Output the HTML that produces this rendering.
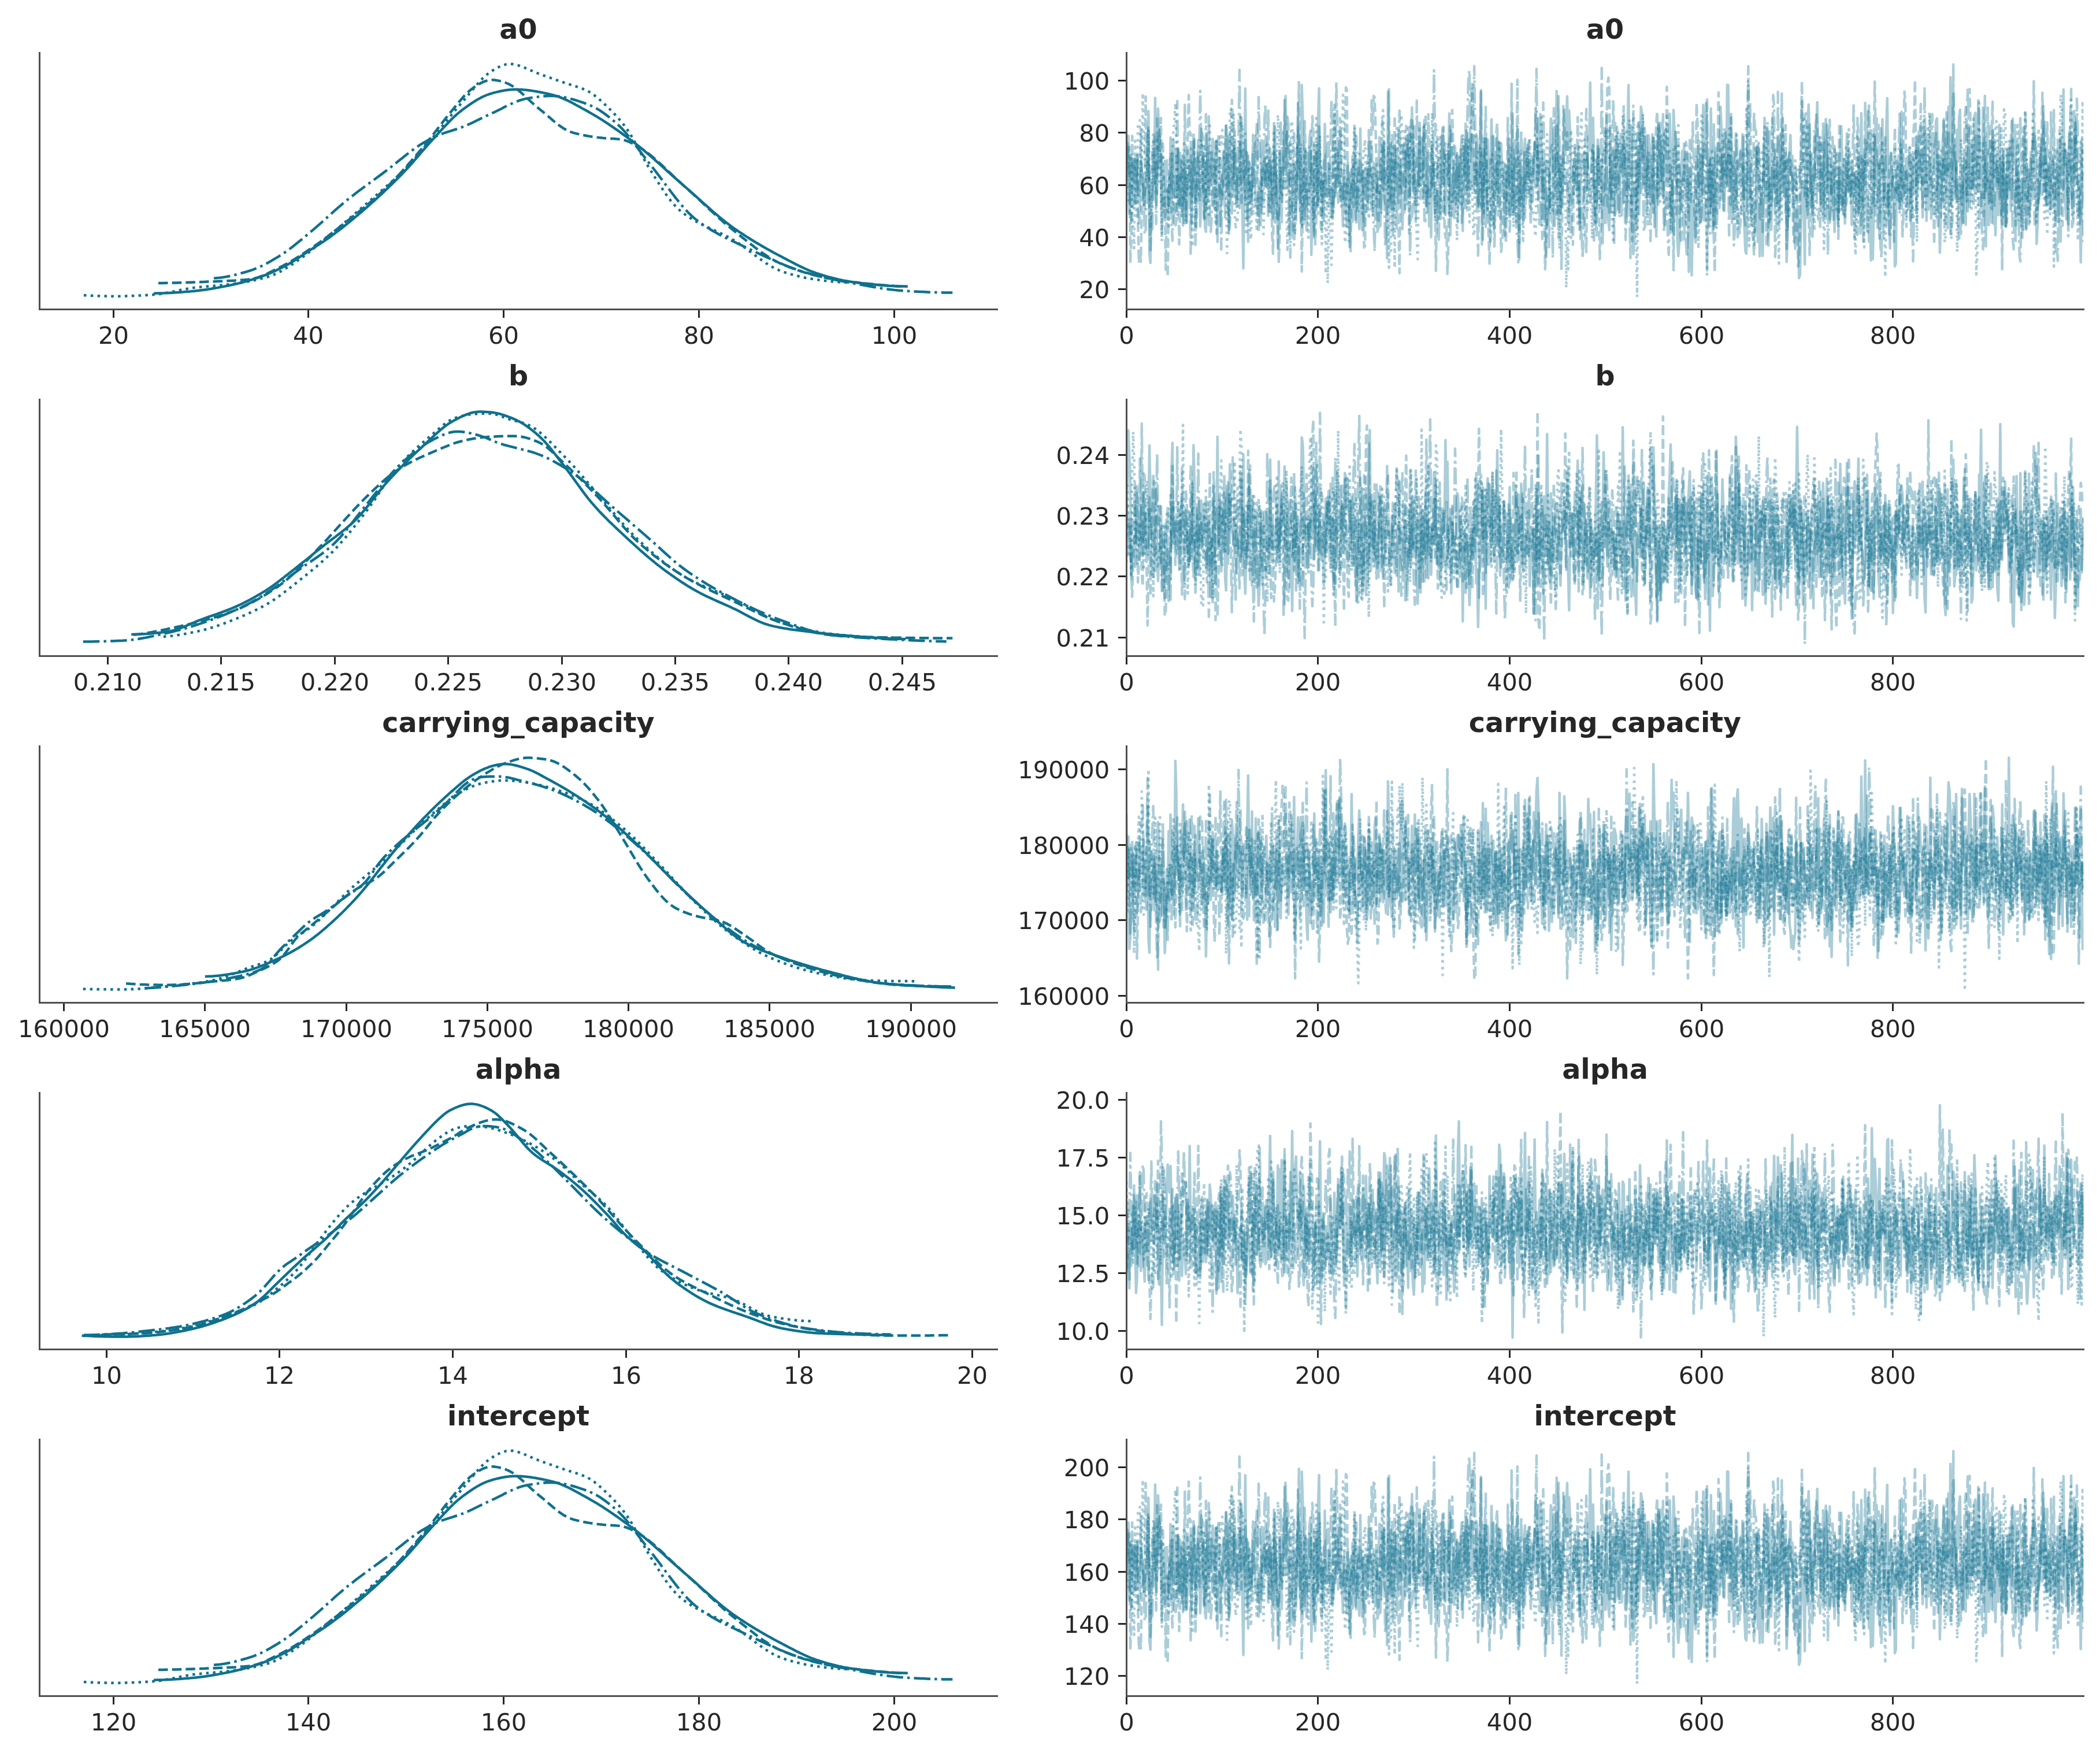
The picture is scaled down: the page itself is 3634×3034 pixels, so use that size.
<!DOCTYPE html><html><head><meta charset="utf-8"><style>html,body{margin:0;padding:0;background:#fff;width:3634px;height:3034px}svg{display:block;will-change:transform}</style></head><body>
<svg width="3634" height="3034" viewBox="0 0 3634 3034">
<rect width="3634" height="3034" fill="#fff"/>
<clipPath id="cp0"><rect x="1949.5" y="91.5" width="1656.0" height="444.0"/></clipPath>
<g id="tr0" clip-path="url(#cp0)"><path transform="scale(.1)" d="M19493 2833l17-352 16 199 17 1019 16-994 17-30 16 584 17-496 17-20 16 38 17 174 16-267 17 688 17-129 16 142 17-595 16 158 17 244 16 348 17-193 17-211 16 101 17-926 16-105 17 2184 17 157 16-953 17-138 16-408 17-131 16-1226 17 1624 17 33 16-1472 17 426 16 116 17 753 16 870 17-789 17-206 16 711 17-103 16-378 17 384 17-368 16-225 17-34 16 305 17-560 16-359 17 245 17 749 16-696 17 531 16-676 17 959 16-888 17 298 17 798 16-302 17-300 16-226 17 663 17 275 16-673 17 181 16-354 17-434 16 1299 17-718 17-824 16 690 17 490 16-771 17 66 16-378 17 650 17 842 16-543 17 31 16-716 17 136 17 1107 16 77 17-1195 16-252 17 724 16-163 17-321 17-113 16-286 17 298 16 304 17 185 17-744 16 1739 17-717 16-308 17 749 16-792 17 329 17-798 16 360 17-381 16-457 17 383 16 863 17 624 17-1754 16 607 17 511 16-330 17 97 17-606 16 322 17 107 16 452 17-555 16 709 17-780 17-785 16 1611 17 996 16-1463 17-1649 17 1672 16 617 17-883 16 565 17-24 16-96 17-550 17 395 16-289 17 185 16 435 17-168 16 311 17-455 17 513 16 139 17-1472 16 473 17 140 17-304 16 473 17 25 16-383 17-31 16 834 17-919 17 571 16 432 17 41 16-285 17-1304 16 1298 17-395 17 1215 16-881 17-806 16 447 17 353 17-392 16-413 17-102 16-851 17 850 16 733 17-60 17-50 16-123 17 46 16-109 17 1042 16-1148 17 483 17 486 16-907 17-711 16 299 17 294 17 726 16-2041 17 544 16 1405 17 189 16-437 17 816 17-751 16 135 17-973 16-137 17 2146 17-978 16 673 17-1398 16 141 17-193 16 898 17-1471 17-553 16 1711 17-355 16 509 17-222 16 648 17-1676 17 1216 16-42 17-487 16 534 17-78 17 160 16-195 17 536 16-264 17-207 16 9 17-223 17 137 16-590 17 478 16 28 17 310 17 14 16 435 17-906 16 690 17-23 16-644 17-231 17 415 16 1058 17-1097 16-243 17 902 16-1005 17 564 17 412 16-580 17-17 16-231 17 984 17-1737 16 945 17 810 16-1012 17 268 16-324 17 299 17-75 16-207 17 518 16-684 17 482 16 363 17-430 17-358 16 300 17 447 16-728 17 1173 17-75 16-641 17 618 16-618 17-137 16-626 17 900 17 93 16-526 17 1470 16-2884 17 1458 16 426 17-812 17 301 16 1099 17-1071 16-480 17 654 17 89 16-432 17 690 16-577 17-36 16 502 17 566 17-510 16 224 17-1040 16 204 17-333 17 300 16 11 17 618 16-670 17-911 16 1034 17 460 17-115 16 150 17 169 16-428 17 119 16-1020 17 582 17-26 16-397 17 653 16-878 17 1011 17 381 16-137 17-184 16 687 17-584 16 770 17-1572 17 416 16 446 17 284 16-216 17-155 17 424 16 58 17-407 16 69 17-847 16-388 17 579 17-110 16 1034 17-842 16 142 17-273 16-780 17 2105 17-861 16 523 17-824 16 861 17-218 17-465 16-399 17 211 16 567 17 29 16-843 17 286 17 1058 16-1159 17-104 16-313 17 649 16-519 17 971 17-666 16 428 17-571 16-381 17 947 17-126 16-93 17-736 16 74 17 1173 16-631 17-378 17-971 16 2021 17-83 16-1143 17 1260 16 282 17-913 17-599 16 847 17-473 16 114 17-837 17 696 16-406 17 1023 16-119 17-87 16-783 17 108 17 835 16-609 17-244 16 471 17 225 17 28 16 877 17-827 16-281 17 555 16-777 17 1009 17-179 16-96 17-1526 16 1710 17-762 16-478 17 206 17-438 16 1195 17 1092 16-1449 17 703 17-292 16 408 17-1192 16-259 17 886 16-716 17 263 17 236 16-48 17 141 16-454 17 50 17 414 16-702 17 773 16-307 17-178 16-714 17 1017 17-1090 16 651 17 419 16 394 17-620 16 135 17 707 17 230 16-268 17-10 16-1049 17-511 17 166 16 366 17 587 16-115 17-545 16-937 17 467 17 885 16 66 17 324 16 265 17-260 16-303 17-1116 17 779 16-581 17-433 16 927 17-679 17 359 16 802 17-177 16 94 17 180 16 33 17-193 17-237 16 708 17-293 16 786 17-796 16-470 17 141 17-34 16-198 17 697 16-44 17-463 17-447 16 241 17-1173 16 1168 17-298 16-261 17 796 17 628 16 398 17-658 16-786 17 279 17 145 16 373 17-454 16 1448 17-942 16-165 17 759 17-1899 16 1585 17 279 16 156 17-1315 16 789 17-683 17-165 16 154 17 963 16-119 17-1408 17 1358 16 127 17-345 16-691 17 131 16-264 17 1001 17-894 16-47 17 1267 16-1484 17-884 17 1567 16-24 17-838 16 1483 17 737 16-191 17-483 17-138 16-733 17-23 16 878 17-792 16-1069 17 101 17 161 16 652 17-401 16 1056 17-707 17 295 16-662 17 212 16 985 17-411 16-802 17 1173 17 9 16 124 17 463 16-1299 17-631 16 130 17 383 17 296 16-90 17 543 16-803 17-344 17-34 16 889 17-104 16 114 17-1174 16 651 17 1401 17-909 16-1211 17 386 16-7 17 520 16 1322 17 308 17-245 16-723 17-469 16-383 17 515 17-639 16 567 17 404 16-798 17 808 16 1235 17-524 17-843 16 1428 17-945 16-347 17 534 17 192 16-539 17-111 16-1111 17 201 16 1212 17-65 17-930 16-1042 17 634 16 234 17-899 16 909 17 439 17 764 16-297 17-1721 16 1666 17-346 17 715 16-673 17-673 16 490 17-450 16-130 17 130 17-755 16 363 17 777 16 437 17 224 17-698 16 261 17-1747 16 4 17 1228 16 446 17-1112 17 1824 16-306 17-922 16 829 17-9 16-74 17-624 17 128 16-125 17-157 16 302 17-577 17 948 16 680 17 407 16 32 17-621 16-1120 17 178 17 509 16 419 17-189 16-126 17 54 16 523 17-404 17-1005 16 1580 17-659 16 906 17-1076 17 214 16 855 17-1024 16-1365 17 647 16-460 17 626 17 1396 16-1120 17 191 16 661 17-1112 16-45 17 471 17-698 16 831 17-648 16 737 17-640 17 760 16-1313 17 356 16-628 17 1200 16 136 17-743 17 1888 16-418 17-1357 16-78 17-341 17 692 16-329 17 675 16 570 17 361 16-562 17-170 17-4 16 1242 17-62 16-843 17-763 16 269 17 252 17 910 16-2282 17 1180 16-1326 17-338 17 706 16 719 17-206 16 682 17-609 16-36 17-334 17-361 16-602 17 1144 16-545 17 952 17 327 16-61 17 195 16-1097 17-310 16-315 17 716 17 27 16 516 17 479 16-781 17-137 16 761 17-756 17 1131 16-572 17 89 16-31 17 314 17-1103 16-109 17-417 16 530 17 990 16-239 17 401 17-830 16-728 17 327 16 655 17 55 16-317 17 862 17-663 16-232 17 365 16 34 17-329 17 472 16 144 17-893 16 61 17-890 16 1371 17 849 17-1332 16-432 17 899 16 682 17-620 16 803 17-580 17 906 16-869 17 846 16-853 17-1306 17 695 16-428 17 724 16 350 17 462 16-1347 17 250 17-966 16 1415 17-144 16-218 17-888 17-531 16 1379 17 663 16 557 17-1641 16 361 17 427 17-212 16 1378 17-56 16-1567 17-164 16 101 17 697 17-713 16-972 17 1541 16-272 17 175 17-411 16 82 17 119 16 455 17-357 16 232 17-195 17-107 16-468 17 600 16 24 17-831 17 537 16 180 17-626 16 174 17 163 16-30 17 840 17-733 16-768 17 229 16 1333 17-673 16 479 17-244 17-279 16 677 17-1291 16 463 17-393 17-21 16-450 17-41 16 1594 17-413 16 1141 17-648 17-871 16-401 17-357 16 926 17-151 16 90 17-696 17-416 16 1090 17-1601 16 1035 17 721 17-375 16-213 17 67 16 740 17-1067 16 553 17-760 17-138 16 1580 17 282 16 97 17-693 16-98 17-160 17 583 16-546 17-781 16 1419 17-245 17-336 16 123 17 76 16-1189 17-58 16 257 17 1057 17-1531 16 713 17 779 16 82 17 110 17-1558 16 720 17 301 16 1379 17-1270 16 660 17 243 17-941 16 574 17-828 16-438 17 1611 16-488 17 687 17-672 16-789 17 1111 16-1560 17 825 17 737 16-388 17-670 16 1081 17-475 16 651 17-1323 17 234 16 415 17-760 16 1157 17-179 17-1414 16 792 17-683 16 518 17 684 16-63 17-207 17 221 16 300 17 69 16 431 17-795 16-410 17-348 17 1411 16-1108 17 155 16 863 17-623 17-629 16-12 17-129 16-176 17-22 16 570 17 1356 17-364 16-754 17 251 16-611 17-259 16 385 17-1026 17 1452 16-724 17 635 16 353 17-690 17 501 16-730 17 980 16-400 17 379 16-232 17 8 17 440 16-907 17 835 16 97 17-1069 16-389 17 72 17 224 16-1127 17 1791 16 235 17 220 17-1045 16 47 17-495 16-64 17 721 16 548 17 265 17-1850 16 204 17 296 16 659 17 106 17 115 16 23 17 1215 16-1002 17-110 16-423" fill="none" stroke="#0f718e" stroke-width="44.64" stroke-linecap="square" stroke-linejoin="round" stroke-opacity="0.35"/><path transform="scale(.1)" d="M19493 2969l17-457 16 431 17-404 16 2014 17-377 16-1824 17 1242 17-184 16-663 17 764 16-738 17 1073 17 705 16-201 17 179 16-1032 17-93 16-399 17 661 17-1996 16 1054 17 309 16-252 17 388 17 308 16-299 17-645 16-28 17-173 16 894 17 351 17-1573 16 921 17-193 16-214 17-475 16 1538 17-64 17-45 16-86 17 1282 16-1075 17 1204 17-1329 16-585 17-241 16 1027 17-999 16 808 17 458 17-12 16-86 17-610 16-625 17 1626 16-496 17-1009 17 134 16-168 17 1171 16-1133 17 1184 17-679 16-955 17-632 16 692 17-28 16 925 17 171 17-956 16 451 17 222 16 801 17-666 16-537 17 726 17 38 16-1255 17 474 16 462 17 602 17-122 16-245 17-1072 16 914 17-1229 16 1318 17 36 17-734 16 485 17 449 16-252 17-437 17 1167 16-539 17-220 16 93 17-673 16 614 17 48 17-205 16-529 17 473 16-963 17 1209 16-991 17 1022 17-105 16-355 17-1196 16 401 17 937 17-803 16 721 17 524 16-556 17 44 16-546 17 792 17-345 16-281 17 149 16 259 17 442 17-837 16 238 17-172 16 504 17-76 16 569 17-461 17-596 16 265 17-419 16 216 17-572 16 796 17 1087 17-888 16 82 17 477 16-808 17-17 17-129 16 471 17-190 16-103 17-988 16 1258 17-45 17-261 16 1181 17 343 16-2263 17 1722 16-868 17 558 17 123 16 867 17-504 16-1130 17 949 17-878 16-118 17-1118 16 1264 17-730 16 18 17 755 17 1019 16-1617 17 1258 16-159 17-873 16-399 17 1085 17-155 16 78 17-877 16-977 17 2230 17-969 16 2014 17-1159 16 338 17-1778 16 571 17 733 17 65 16 63 17-403 16 73 17-506 17-681 16 309 17 1259 16 646 17-366 16-1201 17 521 17 312 16-348 17 789 16 84 17-941 16 189 17 134 17-398 16 397 17 174 16-77 17-655 17 147 16 762 17-292 16-663 17-979 16 1584 17-412 17 231 16-625 17 53 16-604 17 396 17 798 16 201 17-481 16-167 17-1278 16 43 17 1792 17-387 16 867 17 520 16-1330 17-315 16 879 17-1359 17 1190 16 459 17-934 16-32 17 238 17 10 16-179 17 174 16 66 17 1068 16-21 17-1180 17 404 16-608 17-625 16 820 17-167 16-1196 17 538 17-588 16 23 17 522 16 690 17 622 17 355 16-824 17-279 16 349 17-569 16 751 17-849 17 424 16 186 17 29 16 67 17-1612 16 2044 17-437 17-829 16 81 17 684 16-1091 17 1406 17 552 16-934 17 901 16 806 17-1652 16-487 17-114 17 741 16-192 17 598 16-1441 17 137 17 70 16 1660 17-1160 16-790 17-65 16 243 17 566 17 389 16-489 17-6 16 98 17 377 16-1134 17 1401 17-246 16 228 17-909 16-511 17-44 17 290 16 1390 17-1698 16 446 17 545 16 81 17 230 17-397 16-56 17 411 16 1451 17-1127 17-609 16-252 17 385 16-295 17-437 16 818 17-976 17 1794 16 125 17-191 16 817 17-528 16-1572 17-456 17 558 16-837 17 665 16 677 17-251 17 157 16-526 17 1215 16-1153 17 569 16-669 17 1265 17-302 16-355 17-656 16 1100 17-1415 16 288 17 733 17-878 16 432 17-523 16-826 17 650 17 1030 16 215 17-549 16 19 17 675 16 100 17-761 17-1290 16 2692 17-1232 16 195 17-581 16-214 17 446 17 758 16 475 17 503 16-1826 17 378 17 274 16-60 17 607 16-775 17-894 16-148 17 1591 17-1296 16 920 17 1005 16-159 17-215 17-627 16 410 17 444 16-653 17-1517 16 1174 17-387 17 142 16-1521 17 2264 16-1124 17 1104 16-86 17-300 17-1925 16 1616 17 1198 16-1591 17 835 17-101 16-150 17-121 16 122 17-234 16-162 17-337 17 719 16 361 17 310 16-878 17 122 17-367 16-95 17-737 16 693 17-125 16 1147 17 273 17-383 16 432 17-999 16 889 17-545 16 1384 17-441 17-614 16-210 17 884 16-912 17-813 17-40 16 806 17 172 16 418 17-944 16-815 17 995 17 970 16-835 17-591 16 1965 17-1208 16-1609 17 368 17 263 16 169 17-346 16 1120 17 261 17-636 16 427 17-401 16 1174 17-1257 16-469 17 382 17 40 16-904 17 1390 16 297 17 207 16-347 17 252 17-533 16 225 17 566 16 277 17-1662 17 332 16 181 17-93 16 35 17-539 16-32 17 717 17 321 16 267 17 187 16-1566 17 948 17 1028 16-509 17-166 16-685 17 477 16-676 17-142 17-576 16-717 17-148 16 210 17 1786 16 56 17-350 17-1290 16 515 17-177 16 806 17-255 17-146 16 706 17-586 16-338 17 672 16-552 17-562 17 820 16 314 17 271 16 241 17-353 17 207 16 7 17 261 16 567 17-214 16-792 17 629 17-126 16-1420 17-116 16 1101 17-495 16 632 17-1208 17 1018 16-107 17-861 16 1114 17-985 17 1014 16-320 17 214 16-54 17-166 16 94 17 555 17-956 16-206 17-401 16-193 17 1614 16-1116 17-340 17 1047 16-691 17-461 16 1126 17 794 17-368 16-2028 17 948 16 1161 17-218 16 363 17-242 17-338 16 1500 17-1341 16-1055 17 699 16 306 17-830 17 1189 16 352 17 209 16-709 17-511 17 138 16-386 17-280 16 119 17 841 16-71 17-963 17 1112 16-134 17 48 16-113 17 478 17 329 16-2313 17 326 16 1125 17-63 16-505 17 517 17-474 16 632 17 26 16-140 17 159 16 1286 17-1155 17-444 16-307 17 800 16-528 17-102 17 1156 16 608 17-1416 16 406 17-1055 16-1041 17 1423 17 438 16-242 17-531 16 946 17-1159 17-190 16 140 17 805 16-688 17-157 16 1199 17-1645 17 999 16-137 17 518 16-395 17-616 16 1035 17 815 17-504 16 382 17-227 16-433 17-153 17-907 16 1142 17-459 16 357 17-1040 16-908 17 941 17-547 16 1249 17 969 16 109 17 273 16-376 17-530 17-1006 16-27 17 134 16 616 17 320 17-317 16-165 17-135 16-123 17 295 16 1165 17-159 17-226 16-1594 17 849 16-468 17-605 16 502 17 631 17 106 16 449 17-620 16-737 17 127 17-82 16 7 17-815 16 1444 17-75 16-390 17-430 17 2138 16-571 17-333 16 379 17-1010 17 85 16 408 17 851 16 82 17-201 16-892 17 695 17 813 16-147 17-650 16-1541 17-864 16 1432 17-425 17-402 16-55 17 856 16 955 17-202 17 844 16-1091 17-663 16 1439 17-687 16-389 17-740 17-297 16 270 17 1009 16 90 17-942 17 851 16-87 17-1037 16 568 17 1079 16-323 17-660 17 332 16-768 17-292 16 1121 17 211 16-152 17 582 17-732 16 101 17-591 16 699 17 346 17-1532 16 1206 17 160 16 137 17-205 16 294 17-410 17 245 16-88 17-471 16-394 17 36 16 756 17-448 17 184 16 42 17 968 16-1130 17 148 17-1116 16 325 17 1163 16 509 17-1387 16 822 17-698 17 416 16-1410 17 853 16-624 17-86 16 1117 17 228 17-1057 16 601 17 693 16-1051 17-1044 17 1135 16-501 17 814 16-701 17 789 16-755 17 255 17 554 16-115 17 440 16 461 17 105 17-558 16 410 17-742 16-328 17-53 16 606 17-159 17-1 16-857 17 1071 16 51 17-67 16-71 17 311 17 28 16-993 17 737 16-762 17-930 17 193 16 1957 17-978 16-126 17-76 16 1297 17-1047 17 791 16-1203 17-224 16-785 17 1313 17 1137 16-1220 17-257 16 725 17-890 16 150 17 1243 17-181 16 0 17-182 16-245 17 442 16-144 17-552 17 278 16 193 17 72 16-92 17 1060 17-939 16 411 17-516 16 756 17-1214 16 57 17 967 17-628 16 367 17-1435 16 364 17 911 16-337 17 54 17-770 16 286 17-8 16 989 17-863 17-1085 16 607 17 589 16 59 17 675 16-444 17 591 17-465 16 99 17 277 16-747 17 1009 16-547 17 584 17-1730 16-629 17 521 16-509 17 670 17 221 16 696 17 440 16-435 17 236 16 17 17-717 17 347 16 927 17-519 16 163 17-215 17 400 16-1268 17-844 16 1650 17-615 16-150 17 975 17-383 16-959 17 66 16-484 17 1608 16 194 17-527 17-235 16 159 17 291 16 91 17 136 17-577 16 1779 17-2149 16 693 17 713 16-940 17 855 17-778 16 219 17-554 16-284 17-388 17 1009 16 160 17-111 16 776 17-941 16-11 17 856 17-1281 16-476 17 1485 16-684 17-636 16 63 17 1133 17 582 16-591 17 46 16-251 17-25 17-423 16 562 17-70 16-1835 17 1181 16-132 17 233 17 124 16 709 17-636 16 172 17-522 16-927 17 900 17-89 16 1061 17-340 16-1020 17 693 17 559 16-322 17 133 16 67 17 91 16-1435 17 1358 17 103 16 118 17-1063 16 644 17-817 16 456 17 285 17 914 16-1340 17 6 16 85 17 382 17 270 16 578 17-1160 16 69 17 424 16 255 17-332 17 14 16-1086 17 215 16 928 17 539 17-340 16 289 17-471 16-367 17-268 16 61" fill="none" stroke="#0f718e" stroke-width="44.64" stroke-linecap="butt" stroke-linejoin="round" stroke-dasharray="165.18,71.43" stroke-opacity="0.35"/><path transform="scale(.1)" d="M19493 3192l17-403 16 681 17-233 16-546 17 113 16 894 17 220 17 380 16-1860 17 1302 16-402 17-1204 17 57 16-112 17 974 16-380 17-1062 16 961 17 128 17 430 16-33 17-222 16-636 17 1072 17 644 16-649 17-274 16-757 17 179 16 766 17-412 17-425 16 331 17 432 16-417 17 430 16 1016 17-1508 17 989 16-236 17-77 16-12 17-30 17 659 16-915 17 6 16-4 17-552 16-210 17-191 17-307 16 662 17 1289 16-584 17-60 16-49 17 342 17 276 16-845 17-336 16 1017 17-589 17 209 16 176 17-521 16 240 17 339 16-221 17 1138 17-523 16-236 17 497 16-761 17-260 16 388 17-114 17-486 16-355 17 873 16-327 17-467 17 425 16 530 17 169 16-205 17 353 16-1597 17 960 17-234 16 36 17-229 16 479 17 669 17-1423 16 506 17 49 16-31 17-590 16 105 17-221 17 154 16 403 17 64 16 557 17 955 16-808 17 273 17-1954 16-15 17 200 16 1019 17-1137 17 1739 16 265 17-173 16 53 17-607 16-202 17-1014 17 195 16-64 17 452 16 422 17 416 17 624 16-192 17-348 16-714 17 1149 16 184 17-875 17 465 16-633 17 213 16 259 17 427 16-600 17 187 17-10 16 11 17-447 16-112 17 1021 17-598 16-464 17-477 16-8 17 299 16 833 17 50 17-910 16 599 17-740 16-391 17 1174 16-462 17 160 17-1132 16 316 17 840 16-252 17 644 17-227 16-254 17-49 16-101 17 629 16 827 17-714 17 119 16-80 17-1595 16 58 17 768 16 933 17 218 17-887 16-624 17 535 16-67 17-86 17-456 16 1486 17-707 16-332 17-384 16 175 17 865 17-24 16 557 17-838 16-228 17-244 17 730 16 341 17-1371 16 313 17-773 16 516 17 1182 17-895 16-504 17 775 16 1108 17-1175 16 107 17-194 17 1770 16-1465 17 1630 16-821 17-1183 17 1178 16 510 17-838 16-1354 17-402 16 1112 17-534 17 62 16 183 17 6 16 583 17-643 17-336 16-782 17 437 16 2124 17-87 16-909 17-110 17 1077 16-698 17-72 16-185 17-17 16-560 17-500 17 316 16 1049 17 199 16-59 17-359 17 97 16-13 17 326 16-934 17-214 16-133 17 521 17-132 16 699 17 289 16-192 17-670 16 200 17 615 17-511 16-324 17 43 16 458 17-253 17 181 16 4 17-124 16-489 17-753 16-73 17 501 17 702 16 156 17 25 16-746 17 2090 16-1282 17 1042 17-951 16-949 17 909 16 1232 17-1840 17-630 16 402 17-334 16 1043 17-748 16-546 17 443 17 321 16-468 17-57 16 1024 17-839 17 90 16 332 17-533 16 57 17 129 16 704 17-506 17 895 16-270 17 833 16 350 17-1266 16-42 17-101 17-306 16 38 17 680 16-314 17-18 17 234 16-140 17 86 16 185 17-121 16-338 17-1114 17 1251 16-355 17 995 16-1383 17 628 17-67 16-641 17-40 16 1357 17-723 16 211 17-394 17 133 16-268 17 151 16 282 17-623 16 1298 17-236 17 238 16-400 17 44 16-139 17 142 17 33 16 712 17-744 16-385 17 368 16 151 17 39 17-1265 16 448 17 21 16 379 17 217 16 288 17-1238 17 1412 16-695 17-24 16 114 17 793 17 50 16-1239 17 547 16-677 17-88 16 20 17-88 17 1033 16-93 17-649 16 874 17-1351 16 811 17-26 17 525 16-611 17 412 16-144 17 473 17-1147 16 1214 17-800 16-117 17-144 16 751 17-886 17-229 16 361 17 27 16 264 17-353 17 680 16-536 17-81 16 984 17-186 16 44 17-315 17-820 16 365 17 411 16 631 17-552 16 119 17 344 17-470 16-754 17 281 16 714 17-539 17 625 16 502 17-1062 16 264 17-806 16 180 17 656 17-351 16-695 17 600 16 661 17-23 17 84 16 243 17 143 16-943 17-629 16 596 17-436 17-195 16-509 17 889 16 348 17-312 16 83 17-88 17-576 16 779 17-121 16 618 17-272 17 206 16 114 17-274 16 46 17-425 16-355 17 1149 17-1032 16 1553 17-1020 16-516 17 573 16-53 17 292 17-826 16 2221 17-805 16 486 17-1265 17-902 16-248 17 250 16 284 17 632 16-868 17 56 17 797 16 518 17-229 16-997 17-412 16-316 17 1221 17 131 16-898 17 359 16-178 17 1075 17-208 16-249 17 105 16 65 17 742 16-1611 17 323 17 995 16-1105 17 217 16-279 17 401 17 438 16 128 17-569 16-398 17 32 16-71 17-353 17 421 16-273 17-160 16 425 17 313 16 284 17 531 17 392 16-1523 17 276 16 369 17-1054 17 18 16 514 17-358 16 532 17-138 16-854 17 156 17 795 16-286 17-379 16 614 17 339 17-1162 16 855 17 821 16-572 17-1342 16 495 17-38 17 1741 16 1113 17-2588 16 539 17-786 16 248 17 104 17-692 16 1003 17 272 16-227 17-132 17 1033 16-1309 17 148 16 258 17-342 16 440 17-742 17 406 16-226 17 783 16-87 17-377 16 599 17 27 17-319 16-721 17-31 16-100 17 322 17-243 16-435 17 649 16 39 17-65 16 1411 17-662 17-460 16-309 17 476 16-547 17 698 16-36 17-1044 17 1361 16-284 17-46 16-43 17 221 17-564 16 759 17 399 16-897 17 659 16-665 17-4 17 377 16-68 17-148 16-342 17 480 17-79 16 673 17-471 16 872 17-895 16-13 17-1397 17 23 16 807 17-349 16 249 17 852 16 1169 17-1853 17-96 16 1293 17-1081 16-448 17 713 17-570 16 1216 17-495 16-269 17-481 16 60 17 110 17-140 16 602 17-976 16 705 17-398 17 302 16 225 17-382 16-38 17-522 16-4 17 912 17-313 16 122 17 520 16 350 17-661 16 231 17 574 17-582 16-326 17-34 16 713 17-143 17-1088 16 816 17 9 16-1435 17 663 16 638 17 1069 17-1020 16 678 17-584 16 306 17 602 16-1718 17 450 17-405 16-28 17 772 16-200 17 174 17-648 16 86 17 449 16-980 17 368 16 125 17 703 17-426 16 916 17-807 16 527 17-453 16 111 17-235 17-143 16 185 17 54 16 827 17 618 17-1767 16-95 17 1102 16-1557 17 987 16-371 17-65 17 151 16-221 17 1022 16-447 17-8 17-182 16 135 17 242 16 130 17-845 16 682 17-445 17-130 16 206 17-223 16-127 17 536 16-304 17-963 17 1345 16-17 17 256 16-1447 17 1440 17-347 16-591 17 780 16-157 17 268 16 460 17-607 17-470 16 338 17-198 16-339 17-395 17 1214 16-641 17 471 16 941 17-429 16-904 17-82 17 745 16-1254 17 288 16 333 17 352 16-407 17 309 17-715 16 215 17-90 16 463 17 809 17-886 16 583 17-330 16-139 17 372 16-790 17 1035 17-1285 16 730 17-605 16-394 17 1072 16 255 17-829 17 154 16 104 17 1116 16 312 17-1258 17-828 16 919 17 367 16-478 17-281 16-132 17 494 17 1061 16-1636 17 579 16-758 17 1554 16-859 17 219 17 411 16-1014 17-489 16 887 17-402 17 809 16-5 17-210 16-6 17-527 16 846 17-930 17-270 16 547 17 703 16 1066 17-1223 17 59 16-433 17 512 16-440 17-88 16-65 17-169 17-54 16-369 17 812 16-553 17 131 16 347 17 433 17-1197 16 287 17 490 16-163 17-14 17 272 16 585 17-699 16-28 17 54 16-650 17 1035 17 130 16-587 17-522 16-38 17-71 17 1604 16-1049 17-253 16-211 17 657 16-437 17-385 17-474 16 621 17 1030 16-450 17-442 16-61 17-793 17 920 16 712 17 8 16-694 17 571 17 326 16-22 17-1113 16 181 17 364 16-518 17-67 17 854 16-701 17 100 16 1337 17-111 16-854 17-360 17 306 16 483 17-535 16 1012 17-1049 17 80 16-41 17 316 16-690 17 1606 16-431 17-909 17 418 16-1028 17 252 16 696 17-774 16 394 17-238 17 561 16 162 17-650 16 128 17 493 17 229 16-766 17-843 16 1164 17-466 16 2001 17-372 17-1322 16-872 17 590 16-86 17 120 17-358 16 1001 17-614 16 385 17 63 16-154 17 58 17 318 16-183 17 332 16-1209 17 61 16 604 17-915 17-103 16 431 17 654 16-224 17-232 17-537 16 712 17 409 16-1420 17 61 16 625 17 822 17-498 16-487 17 55 16-26 17 406 17-465 16 796 17 146 16 78 17 105 16-1383 17 1584 17-584 16 489 17 311 16-671 17 747 16-625 17-1466 17 874 16-46 17 679 16-504 17 935 17-658 16-16 17-1257 16 863 17 401 16 223 17 446 17-962 16-667 17 810 16-340 17 464 16-267 17-108 17 1006 16-65 17-951 16 1295 17-708 17-7 16 331 17-447 16-267 17-203 16 1851 17-2024 17 603 16-623 17 426 16 375 17-162 16-1570 17 118 17 1116 16 30 17-471 16 158 17 302 17 243 16 567 17-838 16-432 17-707 16 1242 17-259 17 287 16-615 17 554 16 458 17 773 17-1155 16-28 17-523 16 740 17-1454 16 1323" fill="none" stroke="#0f718e" stroke-width="44.64" stroke-linecap="butt" stroke-linejoin="round" stroke-dasharray="44.64,73.66" stroke-opacity="0.35"/><path transform="scale(.1)" d="M19493 2766l17-22 16-428 17 637 16 672 17 229 16-1032 17 120 17-105 16 691 17-399 16-162 17-277 17 1175 16-64 17-1561 16 835 17 61 16 222 17 697 17-30 16-875 17 387 16-1615 17 1767 17 643 16-580 17 255 16-1458 17 633 16-375 17 1068 17-955 16-253 17-474 16 513 17-31 16 190 17-379 17 673 16-370 17 573 16-611 17 410 17 371 16 123 17-1276 16 1459 17 330 16-1123 17 663 17-128 16-22 17-1811 16 1384 17 437 16-79 17-422 17-278 16 1114 17-839 16-1248 17 2020 17-874 16-357 17 245 16 290 17 1249 16-1586 17 403 17 52 16-845 17 1824 16-717 17-665 16-253 17-12 17-1017 16 950 17-223 16 102 17 1394 17-14 16-1808 17 963 16 147 17 812 16-336 17 451 17-253 16-810 17 626 16 50 17-1173 17 172 16 23 17-286 16 845 17 170 16 943 17-1275 17 162 16-79 17 654 16-865 17-245 16 182 17 1126 17-99 16-521 17 337 16-666 17-547 17 892 16-85 17 296 16-963 17-205 16-1206 17 1347 17 954 16-552 17 235 16-192 17-690 17 713 16-380 17 1538 16-1389 17 122 16 267 17 254 17-1103 16 832 17-816 16 820 17-89 16-213 17-1190 17 884 16 219 17 248 16 225 17 266 17-1451 16-260 17 1332 16-144 17 789 16-1064 17-153 17 283 16 668 17-775 16-129 17 424 16-407 17 1139 17-108 16 173 17-602 16-1163 17 691 17-472 16 570 17 404 16-729 17 61 16-577 17 141 17 1152 16 1144 17-956 16 418 17 225 16 96 17-388 17-403 16-264 17-1406 16 1695 17-271 17 679 16 45 17-623 16-411 17 929 16-1200 17 904 17-883 16 335 17-455 16 61 17 518 17-298 16 1025 17 241 16-445 17-1200 16 923 17 198 17-1357 16 611 17 197 16 720 17-480 16-462 17 249 17-404 16 129 17-393 16 20 17 573 17-412 16-821 17 826 16 1137 17-537 16 87 17-1811 17 726 16 1361 17-172 16-1064 17 1303 17-23 16-323 17-1 16 288 17-379 16 827 17-234 17-62 16-202 17-64 16-210 17 161 16 94 17-465 17-439 16-185 17 1243 16-503 17-433 17 468 16-298 17 325 16-264 17 1071 16-880 17 326 17 251 16-192 17-842 16-224 17 345 16-254 17 673 17 723 16 462 17-792 16-221 17-185 17-72 16-706 17 1089 16 237 17-1619 16 275 17 706 17 1194 16-269 17-371 16-298 17-264 16 185 17-766 17 1184 16-195 17 185 16-845 17 111 17-319 16 313 17-538 16-458 17 1325 16-81 17 231 17-646 16-311 17 253 16 407 17 443 17-1281 16-99 17 2269 16-883 17 219 16-212 17-1361 17 1359 16 327 17-2130 16 1269 17 210 16-761 17 753 17-105 16-159 17-773 16 1644 17 7 17-426 16-760 17 712 16-469 17 468 16 69 17-993 17 598 16-1813 17 1120 16-181 17 226 17 1452 16 358 17-1049 16 653 17-144 16-174 17 299 17-1185 16-108 17 318 16-126 17 860 16-837 17 809 17-1250 16 997 17 242 16-976 17 20 17 981 16-672 17 168 16 40 17-342 16-98 17-285 17 254 16 156 17 301 16-902 17 1153 16-1371 17-614 17-93 16 1426 17-1100 16 353 17 163 17-911 16 1127 17 240 16 1177 17 734 16-1045 17-474 17-288 16 142 17 1390 16-960 17-739 16-596 17 1469 17 390 16-5 17-34 16 512 17-327 17-1495 16 1167 17 738 16-612 17-75 16-761 17 659 17-158 16 367 17 178 16-771 17-78 17 85 16-317 17 737 16-316 17-206 16-642 17 1651 17-402 16-640 17 458 16-292 17-434 16-7 17 1317 17 71 16 461 17-1228 16-286 17-778 17 566 16 911 17-1086 16 1135 17-471 16-15 17-600 17-255 16 716 17 429 16-308 17 248 17-868 16 84 17-633 16-910 17 1865 16 413 17-561 17-111 16 420 17 919 16-2361 17 910 16 1016 17 769 17-1732 16 49 17 209 16 723 17-369 17 72 16 1041 17-2591 16 629 17 618 16 594 17-48 17-2000 16 813 17 1261 16-994 17-51 16-31 17 378 17 144 16-196 17 207 16 787 17-10 17-604 16 750 17-601 16-88 17-680 16 142 17 330 17 104 16-427 17-416 16 1104 17 550 16-250 17 587 17-420 16-1173 17-430 16-565 17 838 17 164 16 526 17 115 16-486 17-499 16 132 17 1487 17-1034 16-23 17 379 16-362 17-547 17 277 16 638 17-2317 16 1732 17-140 16-550 17 1168 17-536 16 721 17-152 16 262 17-1507 16 1523 17-737 17 80 16 1194 17-1813 16 829 17 69 17-285 16 629 17 98 16-429 17 398 16-497 17-851 17 1147 16 625 17-616 16-554 17-310 17 993 16 798 17-1414 16-382 17-672 16 1400 17-549 17-415 16 1581 17-1268 16-657 17 390 16 123 17-83 17 566 16 892 17-39 16-451 17 267 17-1071 16 549 17-14 16 955 17-968 16 385 17-1256 17 1596 16-772 17 229 16 40 17-1292 16 97 17 1151 17-1036 16 937 17-597 16 1338 17-418 17-159 16-24 17 706 16 282 17-828 16-707 17 140 17 282 16 761 17-473 16 20 17 103 16-533 17-155 17-181 16 345 17 474 16-256 17-7 17 750 16-480 17 551 16 229 17-390 16-249 17-915 17 346 16-410 17-710 16 638 17 21 17 671 16-731 17 236 16 70 17 765 16 99 17-118 17-524 16-737 17 1349 16-281 17-124 16-1730 17 1128 17 524 16-632 17 952 16-742 17 1110 17-1910 16 710 17 446 16 658 17-483 16-313 17 427 17-1049 16 591 17-76 16-137 17-707 17 861 16-21 17-141 16-226 17 1381 16-1356 17 345 17 494 16-295 17 986 16-308 17-691 16-919 17 592 17-108 16 385 17-573 16 576 17-347 17 383 16 512 17 153 16-151 17-1147 16-1457 17 1466 17 802 16-547 17-127 16 581 17-1388 16 291 17 36 17 550 16 118 17-456 16 1293 17 30 17-546 16 766 17-1628 16 872 17 157 16-432 17-874 17 723 16 665 17 292 16-637 17 327 16-1838 17 204 17 2600 16-350 17-909 16-1599 17 2320 17-285 16-1092 17 817 16-229 17 300 16-639 17 903 17-431 16 757 17-1229 16-138 17 329 17 59 16 23 17 259 16-256 17-198 16 201 17 401 17 0 16 33 17-566 16 18 17-1194 16 1073 17 137 17 490 16-321 17 256 16 329 17-541 17-1056 16 1225 17 236 16-320 17-277 16-718 17 977 17-19 16 412 17 163 16-188 17 315 17-852 16-600 17 752 16 362 17-1128 16 576 17-874 17 2254 16-741 17 224 16-209 17-896 16-423 17 619 17-462 16 1105 17-536 16 108 17 929 17-1250 16 588 17-521 16 600 17-420 16-378 17 249 17 382 16-560 17 71 16 415 17-169 16 28 17 176 17-702 16-818 17 1231 16 108 17 550 17 353 16-1346 17 690 16-427 17 915 16-152 17-744 17-212 16 77 17-78 16 87 17-431 16-668 17 631 17 548 16 748 17-109 16-135 17-1120 17 1486 16-11 17 125 16-1108 17 632 16 784 17 218 17-1044 16 725 17-1374 16-395 17 1221 17-119 16-270 17 826 16 79 17-286 16-463 17-341 17 1158 16-859 17-65 16 78 17 151 16-865 17-655 17 1106 16 147 17 870 16-399 17-816 17 238 16-206 17 221 16-63 17-354 16-161 17 1545 17-524 16 950 17-829 16-62 17 8 17-1321 16 344 17-384 16 216 17-694 16 1084 17 304 17-8 16-1679 17 1419 16 103 17-796 16 46 17 875 17-1149 16 507 17-530 16 446 17 8 17 919 16-1043 17 981 16-188 17-647 16 646 17-80 17 44 16-77 17-275 16 1181 17-224 16-1725 17 2008 17-197 16-951 17 1290 16-166 17-85 17-2726 16 2299 17-612 16 598 17-227 16 644 17 336 17-427 16 358 17-560 16-382 17-284 16-807 17-199 17 1577 16 234 17-1446 16 649 17 397 17-753 16 788 17-697 16 520 17-802 16 625 17-376 17-283 16-510 17 1435 16 162 17 647 17 297 16-509 17-601 16-829 17 748 16-1259 17 783 17-212 16 606 17 810 16-1487 17 679 16-625 17 689 17-361 16 335 17 227 16-59 17-518 17 1003 16 145 17-1143 16 712 17-366 16 832 17-424 17-931 16 319 17 26 16 382 17-195 17 1047 16 176 17-1062 16 916 17-1512 16-187 17 1190 17 755 16 107 17-1008 16-226 17-937 16 257 17-661 17 290 16 1205 17-115 16 378 17-210 17 60 16-160 17-1014 16 848 17 652 16-137 17-136 17 22 16-252 17 91 16-913 17-156 16 968 17-766 17-542 16 745 17 743 16-583 17 145 17-210 16 806 17-1764 16 948 17-167 16 634 17-282 17 1282 16-125 17 283 16-1466 17 876 16 296 17-1453 17 528 16-43 17-753 16 120 17 134 17-154 16 1486 17-1466 16-526 17-554 16 2390 17-71 17-190 16-1476 17 297 16-782 17 729 17 833 16 650 17-230 16-1275 17 985 16 789" fill="none" stroke="#0f718e" stroke-width="44.64" stroke-linecap="butt" stroke-linejoin="round" stroke-dasharray="285.71,71.43,44.64,71.43" stroke-opacity="0.35"/></g>
<clipPath id="cp1"><rect x="1949.5" y="691.5" width="1656.0" height="444.0"/></clipPath>
<g id="tr1" clip-path="url(#cp1)"><path transform="scale(.1)" d="M19493 9113l17-729 16-933 17 446 16 382 17 1752 16-329 17-93 17-314 16 513 17-819 16-569 17 558 17 366 16-154 17-151 16-293 17 855 16-1083 17 528 17 257 16-403 17 653 16-683 17-1159 17 895 16 369 17 477 16-1017 17-106 16 1556 17-970 17 630 16 513 17-510 16 196 17-979 16 1091 17 370 17-97 16-520 17-548 16 784 17 32 17 525 16-678 17 303 16-1851 17-511 16 1737 17-150 17-200 16 474 17 59 16-555 17 337 16 118 17-114 17-773 16 647 17-176 16 29 17-262 17 433 16 294 17 207 16-466 17-81 16 194 17-206 17-1506 16 676 17 1728 16-1314 17 277 16 734 17-1131 17 488 16-498 17 789 16-712 17 549 17-542 16-95 17 1107 16-532 17-212 16 229 17 1087 17-901 16 83 17-841 16 1041 17-842 17 224 16-1537 17 1854 16-621 17 651 16 446 17-1021 17-40 16-301 17 1482 16 209 17-988 16 525 17-1083 17-635 16 998 17 162 16 50 17 191 17-84 16 83 17-339 16 317 17 204 16-65 17 161 17-257 16-415 17-1179 16 1981 17 429 17-667 16-242 17-28 16-1202 17 1898 16-445 17 543 17-429 16-575 17 956 16-1135 17 712 16 357 17 463 17-427 16-106 17-927 16 1100 17-715 17-551 16 445 17-436 16 684 17-409 16 289 17-1473 17 1148 16 295 17-297 16 425 17-57 16-311 17-408 17 712 16-154 17 81 16-455 17-227 17 189 16 131 17-955 16 1378 17-1105 16 369 17 1295 17-587 16 742 17-557 16 967 17-1323 16 472 17-1289 17 1019 16-145 17 783 16-502 17-236 17-324 16-1457 17 108 16 687 17 849 16 204 17 74 17 341 16-763 17 175 16-270 17 345 17-238 16-982 17 649 16-191 17 977 16-111 17 95 17-460 16-26 17 526 16-411 17 0 16 981 17-620 17-881 16 927 17-853 16-38 17 309 17-72 16 672 17-638 16 1017 17 144 16-926 17 659 17-1675 16 574 17-209 16-111 17 801 17-15 16-254 17 184 16-938 17 70 16 565 17-532 17 627 16-261 17 301 16 319 17 478 16 21 17-431 17-331 16 1388 17-612 16-726 17 197 17 603 16 143 17-1555 16 1472 17-307 16-731 17 1411 17-1135 16 958 17-1192 16-1483 17 2013 16-118 17-274 17 435 16-485 17 550 16 88 17 176 17-391 16-401 17-436 16 519 17 691 16-131 17-19 17-77 16-562 17 231 16-58 17 7 16 80 17 237 17-594 16 277 17 95 16 615 17-61 17-80 16-677 17 1142 16-1104 17 24 16 472 17 237 17-706 16-43 17 1272 16-387 17 22 17-500 16 181 17-560 16 376 17-24 16-881 17 602 17 312 16-203 17 720 16 401 17-824 16 89 17 542 17-1211 16-221 17 202 16 475 17-41 17 202 16-739 17 1088 16-667 17-48 16 652 17-811 17 294 16-1257 17 57 16 808 17 383 17 294 16 115 17-558 16 854 17-1136 16-187 17 418 17-372 16-1231 17 1061 16-685 17 1121 16 459 17-762 17 1458 16-1234 17 179 16 318 17-218 17-79 16-702 17 35 16 408 17 341 16 521 17-500 17 1414 16-1565 17 72 16 1000 17-1009 16 532 17-84 17 773 16-391 17-656 16-48 17-220 17 503 16-569 17 1005 16-241 17 996 16-862 17-178 17-255 16-495 17-629 16 1288 17-162 16 975 17-1934 17-318 16 471 17-360 16 132 17 908 17-493 16-459 17 101 16 559 17 319 16-1666 17 952 17 77 16 1138 17-855 16-6 17 619 17-1042 16 440 17-240 16 35 17 654 16-352 17-781 17 1239 16 343 17 27 16-946 17 392 16-300 17-600 17 1136 16-1166 17 513 16 251 17-949 17 402 16 1117 17-395 16 297 17-502 16 261 17 6 17-724 16 1309 17-767 16 69 17-285 17 1463 16-362 17-457 16-1340 17 1304 16 331 17-469 17-414 16 395 17-273 16 933 17-1678 16 688 17-63 17-1705 16 1635 17 819 16 108 17-1535 17 646 16 514 17-269 16-72 17-623 16-27 17 204 17-4 16 717 17 509 16-831 17-300 16 106 17-33 17-205 16 939 17-178 16 261 17 668 17-1207 16 79 17-326 16-226 17 792 16-1159 17 388 17-331 16-599 17 1238 16 398 17-324 16-643 17-246 17 1792 16-1459 17 644 16-328 17 938 17 30 16-720 17 1052 16-1204 17 403 16-331 17-27 17 381 16-958 17-1074 16 889 17 1617 17-606 16 23 17-628 16 291 17-1292 16 646 17 236 17 601 16 491 17-317 16-249 17-227 16 86 17 289 17-93 16 255 17 398 16 48 17-775 17-355 16 420 17 80 16-352 17 271 16-1886 17 1273 17 730 16 996 17-911 16-717 17 402 17-655 16 886 17-21 16 40 17 336 16 556 17-156 17 487 16-1383 17 116 16-3 17 265 16-775 17 773 17-1254 16-25 17 1065 16 19 17-452 17-549 16 1054 17 138 16-1870 17 537 16 165 17-721 17 876 16 733 17 980 16-1224 17 778 16-793 17 1301 17-508 16-414 17 610 16-247 17 104 17-535 16 660 17-403 16-1059 17-400 16-508 17 932 17 701 16-206 17-280 16 163 17-698 16 1081 17 47 17 798 16-429 17-1067 16 366 17-291 17 101 16-305 17 953 16-483 17-232 16-392 17-293 17 1105 16 858 17-216 16-1192 17 965 17 544 16 123 17 29 16-1178 17 497 16 72 17-981 17-202 16-26 17 950 16 859 17-969 16-1156 17 965 17 208 16 1501 17-2036 16 399 17 1036 17-700 16 111 17-653 16-1273 17 1559 16-133 17 258 17 241 16-560 17-866 16 466 17 608 17-342 16 52 17-320 16 678 17-181 16-995 17 741 17-375 16 479 17 88 16 482 17-2120 16 472 17 153 17 61 16 1330 17 235 16-267 17 821 17-223 16-1068 17 1406 16-303 17-576 16-165 17-82 17 391 16-823 17 1638 16-1138 17 805 16-233 17-459 17-1136 16 1155 17 676 16-1211 17 238 17 19 16-298 17-373 16 406 17 1440 16-709 17-330 17 596 16 103 17-939 16-50 17 632 16-637 17 49 17 842 16-355 17 528 16-116 17-721 17 682 16 225 17-898 16 541 17-273 16-91 17-77 17-322 16 352 17 310 16-91 17-950 17-176 16 545 17-619 16 145 17 1063 16-1185 17-1136 17 1115 16 1503 17-1378 16 119 17 445 16 1270 17-778 17-109 16-24 17 54 16-760 17 546 17-308 16 1269 17-162 16-641 17 336 16-446 17-78 17-154 16 239 17-463 16 1004 17-270 17-1202 16 788 17-946 16 476 17 452 16-48 17-952 17 907 16 708 17-714 16-333 17-200 16 1332 17-720 17-22 16 167 17 179 16-470 17 155 17 36 16-1282 17 898 16 914 17 156 16-53 17 501 17-1429 16-1001 17 1293 16-526 17 779 16 204 17 711 17-811 16-968 17-365 16 388 17 557 17-698 16-640 17 1429 16-199 17 115 16 367 17 444 17-76 16-583 17-241 16-10 17-692 16 957 17 631 17 144 16-890 17 271 16 760 17-1283 17-711 16 568 17-118 16 1135 17 373 16-837 17-257 17 144 16 97 17 225 16-1131 17 992 17-118 16-699 17 959 16-372 17 33 16-393 17 1637 17-759 16 64 17-1053 16 333 17 380 16-692 17-77 17-269 16-132 17 175 16 826 17-244 17-73 16-57 17-5 16 134 17 322 16-95 17 498 17 109 16-902 17 314 16-132 17 311 17 764 16-523 17-1330 16 631 17 495 16-615 17 465 17 219 16 649 17 259 16-1166 17-175 16 2 17-363 17 529 16-105 17 473 16 151 17-25 17-983 16-155 17 925 16-114 17-278 16 440 17-700 17 606 16-72 17-21 16 902 17 177 16-431 17-1320 17-48 16 63 17 614 16 101 17-259 17-199 16 980 17-187 16-22 17-1203 16 697 17 371 17-810 16 454 17-629 16 878 17-1429 16 798 17 85 17 233 16-35 17-47 16 179 17-848 17 1794 16-74 17-537 16-294 17-1008 16 243 17 384 17 561 16-1489 17 248 16-1024 17 2195 17-1275 16 738 17 619 16-368 17-102 16 207 17 747 17-446 16 440 17-695 16 662 17-743 16 144 17-722 17 759 16 592 17 208 16-938 17-2118 17 2081 16 268 17-1181 16 187 17-360 16 533 17 39 17 254 16 746 17-543 16 528 17-758 17 1646 16 64 17-935 16-463 17-1208 16 1260 17-453 17 1278 16-2134 17 2367 16-1699 17 560 16 1049 17-429 17-957 16 294 17 501 16-442 17-22 17-517 16-27 17 637 16 382 17-367 16 8 17-230 17 681 16-478 17 418 16-676 17-31 16 275 17 890 17-1320 16 731 17 9 16-227 17-340 17 432 16 123 17 591 16-1277 17 489 16 140 17 966 17-538 16-1028 17-415 16 1076 17-309 16-404 17 1065 17-308 16-701 17-449 16 1347 17 214 17-1254 16 506 17-269 16 801 17-1101 16 114 17-604 17 1219 16 133 17 456 16 146 17 100 17-866 16 410 17-412 16 285 17-525 16-409" fill="none" stroke="#0f718e" stroke-width="44.64" stroke-linecap="square" stroke-linejoin="round" stroke-opacity="0.35"/><path transform="scale(.1)" d="M19493 8887l17-140 16 573 17-342 16 484 17 466 16 401 17-594 17-374 16-994 17 1047 16-914 17 1580 17-403 16-1741 17 1272 16 676 17 266 16-1954 17 32 17 1176 16 270 17 1150 16-859 17-1355 17 1706 16-1304 17-120 16-702 17 1177 16-164 17-746 17 343 16-44 17 610 16 102 17 269 16-343 17-55 17 162 16 1159 17-66 16-830 17-1004 17 948 16 65 17-270 16-701 17-738 16 758 17 358 17 596 16-542 17 256 16-198 17 568 16-1020 17 600 17 852 16-636 17 437 16-847 17-770 17 282 16 500 17 557 16-40 17-1703 16 202 17 1378 17 332 16-686 17-45 16-23 17-315 16 925 17 105 17-1055 16 95 17 370 16 18 17-445 17 72 16 614 17 462 16-1028 17 894 16-1778 17 1512 17 99 16-999 17-604 16 765 17 1795 17-923 16 867 17-672 16-1012 17-278 16 324 17 21 17-219 16 550 17 154 16-925 17 174 16-444 17 423 17 123 16-240 17-1 16-736 17 610 17 817 16 194 17 379 16-584 17 386 16 464 17-1021 17-877 16 1669 17-1053 16 133 17 786 17 33 16-281 17-1771 16 941 17-688 16 1251 17-671 17-52 16 901 17 206 16-587 17 1061 16-596 17 562 17-591 16-444 17-290 16 90 17 379 17 329 16 278 17-59 16-122 17 16 16-415 17 395 17 656 16-1158 17 516 16 698 17-247 16-405 17-194 17-325 16-1249 17 1737 16-1326 17 531 17 439 16 1272 17-777 16-800 17 785 16 521 17 25 17-874 16-187 17-1067 16 1026 17-489 16 1071 17-269 17-889 16 576 17-317 16 979 17 92 17-200 16 281 17-303 16-1280 17 667 16-100 17-904 17 765 16 307 17 301 16-892 17-159 17-1004 16-256 17 2405 16-745 17-1289 16 1010 17 331 17 884 16-1117 17 969 16-430 17 183 16-433 17 416 17 118 16-854 17 396 16-462 17 829 17-1109 16 307 17-408 16 205 17 1494 16 871 17-1699 17 374 16 66 17 272 16-80 17-544 17-519 16 562 17 1305 16-1279 17-207 16 497 17 540 17 200 16-1499 17 681 16-917 17 624 16-501 17 949 17 468 16-478 17 772 16-5 17-1090 17-1062 16 610 17 1254 16 3 17-710 16-26 17-1819 17-217 16 1610 17-1302 16 1762 17 447 16-1319 17 1132 17 37 16-1349 17 879 16-876 17 175 17 750 16-428 17-467 16 66 17 1066 16-782 17 1762 17-700 16-421 17-676 16-545 17 1601 16-23 17-264 17 134 16-482 17-305 16-119 17 592 17 642 16-559 17 33 16-1128 17 153 16 62 17-334 17 881 16 57 17-636 16-605 17 1773 17 20 16-320 17-649 16 1108 17-990 16 693 17-670 17 101 16-809 17 1408 16-583 17 348 16 360 17-899 17 900 16-768 17 847 16 331 17-1022 17-1455 16 900 17 1091 16-464 17 256 16 298 17-447 17-326 16-276 17 1050 16-1362 17 838 17 1017 16-148 17-616 16 400 17-515 16 514 17-1012 17 215 16 331 17-659 16 980 17-182 16-509 17-21 17 184 16-442 17 723 16-91 17 489 17-335 16 547 17 173 16-630 17 403 16-945 17-425 17 122 16-76 17 130 16 1251 17 132 16-812 17 595 17-58 16-397 17-339 16 1030 17-639 17-703 16 80 17-741 16 1076 17-788 16-1056 17 911 17 29 16-5 17 1972 16-318 17-1162 16 1067 17-621 17-337 16-588 17 734 16-403 17 419 17-923 16 1175 17 267 16-491 17-1005 16 674 17 347 17 469 16-878 17 796 16-30 17 12 17-851 16 949 17 262 16-541 17-68 16 885 17-89 17-167 16-453 17 386 16-1662 17 638 16-452 17 462 17 175 16-245 17 580 16 1054 17-1036 17 403 16-1135 17 1018 16-342 17-28 16 357 17-6 17-127 16-258 17-124 16 89 17 64 17 1342 16-1757 17-115 16 1140 17-2762 16 3609 17 182 17-686 16-1683 17 435 16 80 17 110 16-274 17 293 17 565 16 25 17-764 16 427 17 1035 17-1171 16-161 17-768 16 581 17 211 16 139 17 455 17-509 16 331 17 394 16-423 17-256 16-238 17-258 17-1296 16 1490 17-682 16 686 17 113 17-382 16 899 17-202 16-524 17 1118 16 33 17-273 17-335 16-587 17 1058 16-1301 17 31 16 72 17 1567 17-901 16 393 17-794 16 259 17 288 17 369 16-288 17-641 16 1188 17-170 16-337 17-138 17 122 16-369 17-39 16 1299 17-1489 17 1014 16-1242 17-147 16 1482 17-663 16-998 17-372 17 735 16 771 17-981 16 1346 17 403 16-1246 17 818 17-811 16 731 17-43 16-1096 17 418 17-306 16 408 17 289 16 223 17 198 16-728 17-251 17-914 16 692 17 508 16-306 17-740 17 1616 16-1458 17 1125 16 311 17-2196 16 462 17 1183 17-525 16-538 17 326 16-203 17 452 16 23 17 1008 17 224 16-652 17 711 16-986 17 157 17-740 16-49 17 806 16 1505 17-177 16-937 17-1637 17 882 16-114 17 331 16 1620 17-1386 16 78 17 763 17-1082 16 123 17-2046 16 2848 17-77 17-524 16 101 17-598 16-335 17 161 16 295 17 553 17-370 16-542 17 307 16 1429 17-1868 16 777 17-606 17 655 16-769 17 632 16-976 17-198 17 1230 16 1512 17-1254 16 354 17-1068 16 41 17 466 17 480 16 83 17-1383 16-128 17 717 17-120 16-408 17 557 16 1137 17-1762 16 692 17 382 17-277 16 505 17 221 16-704 17 347 16-587 17-158 17-1183 16 1237 17 99 16 418 17-943 17 160 16 109 17-1050 16 869 17 228 16 1011 17 575 17-579 16-533 17 547 16 81 17-998 17 502 16 158 17-98 16 409 17-1042 16-740 17 45 17-367 16 2168 17-1114 16 286 17-880 16 1030 17-593 17-918 16 595 17 465 16 301 17-324 17 330 16 682 17-869 16-1001 17 596 16-313 17-204 17 756 16 260 17 531 16-475 17-303 16 781 17-156 17-873 16 790 17-617 16 39 17 421 17-604 16-14 17 409 16 26 17-168 16-115 17 2 17-173 16 689 17-1052 16 720 17 241 16-873 17-77 17 1758 16-590 17-651 16-62 17 1307 17-180 16-13 17-845 16-414 17 199 16 293 17 562 17-979 16 1685 17-1146 16-379 17 65 17 205 16-26 17-325 16 711 17-633 16 250 17 19 17 1619 16-250 17-752 16 36 17-935 16 1156 17-1269 17-158 16 335 17 522 16 553 17 195 17-232 16-486 17-562 16-200 17-329 16-63 17 1090 17 213 16-918 17 872 16-853 17 335 17 951 16-802 17-110 16 593 17 1074 16-1212 17-485 17-382 16 138 17 729 16 779 17-677 16-875 17 383 17 785 16 516 17 443 16-1188 17-606 17 1396 16-524 17-1388 16 1736 17-1669 16-360 17 110 17 287 16 72 17-64 16-767 17 1623 16 829 17 346 17-1171 16-857 17 808 16-456 17-8 17-623 16 104 17 241 16 727 17 45 16-759 17 213 17-700 16 1054 17-668 16 496 17-213 16 1208 17-1068 17 637 16-1081 17-144 16 893 17-1076 17-412 16-393 17 383 16 1177 17-861 16 1468 17-140 17-445 16 1024 17-1367 16-71 17 438 17 1335 16-488 17-1018 16-221 17 876 16 481 17-628 17 509 16 438 17-1714 16 359 17-109 16 335 17-632 17-227 16 663 17 355 16 90 17-764 17 236 16 864 17-1269 16 424 17-161 16-699 17 447 17-90 16 548 17-255 16-285 17 253 17 359 16 159 17 109 16-284 17 360 16-518 17 456 17-744 16 315 17 552 16-484 17 762 16-2530 17 1862 17 133 16-940 17 966 16 488 17 173 17-1194 16 989 17-1447 16 269 17 527 16-629 17 533 17 316 16 670 17 309 16-894 17 1076 16 52 17 3 17-865 16 513 17-534 16-2047 17 1226 17-872 16 868 17 970 16-26 17 50 16-635 17-333 17 203 16 409 17 348 16-110 17 240 16 18 17-2096 17 464 16 1332 17-256 16-270 17 148 17 429 16-494 17-13 16-211 17-469 16 892 17-188 17 353 16 322 17-88 16-471 17 323 17 315 16-35 17-525 16-961 17-244 16 1720 17-251 17-615 16 415 17-35 16 448 17-509 16 20 17 434 17-693 16-524 17 184 16 1018 17-532 17-466 16-375 17-189 16 133 17 745 16-202 17-174 17 296 16-38 17 791 16-551 17 283 17-93 16-1208 17 617 16 111 17 595 16 670 17 44 17-497 16-209 17 862 16-419 17-506 16 322 17-154 17-345 16-778 17 318 16-702 17 1624 17-1131 16 539 17-539 16-966 17 533 16 502 17-671 17 1168 16-595 17 221 16 66 17 609 16-382 17-130 17 188 16-152 17 964 16-1075 17 379 17-184 16 473 17-27 16 163 17-1086 16 924 17 221 17-265 16 519 17 44 16-700 17-267 16-353 17 78 17 807 16 329 17-1115 16 1569 17-910 17-591 16-506 17-311 16 115 17-665 16 2330 17-267 17-468 16 1402 17-474 16-1276 17 707 17-786 16-19 17-383 16 136 17 229 16-25" fill="none" stroke="#0f718e" stroke-width="44.64" stroke-linecap="butt" stroke-linejoin="round" stroke-dasharray="165.18,71.43" stroke-opacity="0.35"/><path transform="scale(.1)" d="M19493 9728l17-1324 16 736 17 501 16-527 17 827 16-1738 17-730 17 484 16 1443 17-372 16-18 17 432 17 0 16-406 17 393 16-135 17-85 16 665 17-294 17-45 16-1223 17 558 16-14 17 97 17 163 16-3 17 108 16 1098 17-817 16 106 17-139 17 303 16 70 17-462 16 108 17-242 16-174 17 81 17-43 16 370 17-89 16-498 17 300 17-339 16 195 17-512 16 990 17-394 16-453 17 773 17-272 16-191 17 201 16-543 17 183 16 379 17-498 17 122 16-1480 17 2188 16-334 17 12 17-17 16 1068 17-799 16 113 17-657 16 780 17-1362 17 658 16 416 17-310 16 852 17 41 16-853 17 228 17-142 16 1202 17-100 16 140 17-1764 17 482 16-705 17 716 16-547 17 740 16 167 17-117 17-156 16 1074 17-744 16 276 17-57 17-223 16-4 17-177 16-695 17-268 16-508 17 1343 17 54 16 114 17 108 16-540 17-251 16 398 17-26 17-664 16 622 17-551 16 476 17-129 17-941 16 1213 17-179 16-619 17 513 16-612 17-871 17 301 16 1109 17 680 16-344 17 302 17 200 16-745 17-202 16 1197 17-247 16 194 17-839 17-112 16-383 17 472 16-180 17-166 16 389 17-430 17 1357 16-1120 17 935 16-235 17-395 17-59 16 789 17-506 16 1035 17-729 16-88 17-1155 17 721 16 430 17 111 16 109 17-403 16-244 17-956 17 1436 16-607 17 877 16-323 17-883 17-384 16 132 17 866 16-609 17-591 16 1546 17-22 17-344 16-197 17-98 16 257 17 314 16-541 17 512 17-145 16-393 17-113 16-294 17-129 17 107 16-522 17 1553 16-406 17-126 16 199 17-62 17-228 16 322 17-1353 16-409 17 1461 17-503 16-39 17 371 16 334 17-291 16 112 17 409 17-662 16 205 17-523 16 1233 17 70 16 1034 17-823 17 80 16-894 17-545 16 379 17-368 17 809 16 506 17-1274 16-210 17 115 16 656 17-593 17 66 16-1227 17 2710 16-18 17-1117 17-300 16 157 17 328 16 348 17-1235 16-87 17 507 17 91 16-809 17 1410 16 447 17-409 16 357 17-915 17-204 16-76 17 534 16 342 17-441 17 1214 16 71 17-256 16 126 17-710 16 401 17-844 17 164 16 877 17 575 16-2016 17 226 16-3 17 511 17 399 16-1150 17 1050 16-99 17-250 17 388 16-57 17-21 16-27 17-1180 16 543 17-407 17 946 16 92 17 69 16 536 17-693 16 562 17 36 17-621 16-345 17 480 16-359 17-727 17-432 16 235 17 810 16-714 17 722 16 207 17-652 17 145 16-34 17 723 16-89 17-348 17-225 16-90 17 1250 16-1944 17 302 16 1029 17-842 17 507 16 280 17-1134 16 1303 17 292 16 12 17-152 17-2294 16 1543 17 711 16-417 17-461 17-502 16 1136 17-1378 16 731 17 763 16 170 17-625 17 66 16 262 17-239 16-1489 17 137 17 1283 16 444 17-819 16 901 17 690 16-267 17 121 17 124 16-637 17 113 16-205 17-441 16 352 17 606 17-105 16-999 17 750 16 256 17-763 17 499 16 153 17-591 16 29 17 235 16-6 17-839 17 175 16 618 17 33 16-1181 17 755 16-120 17-13 17 445 16-238 17 528 16-205 17-878 17 505 16-909 17 597 16-27 17 219 16 610 17-902 17-564 16 581 17 322 16 233 17-345 16-473 17-43 17 401 16 243 17 7 16 167 17 537 17-1650 16 1231 17 390 16-1217 17 183 16 24 17 614 17-103 16-482 17-1371 16 912 17 564 17-162 16 316 17 541 16 708 17-1024 16 747 17-1227 17 599 16 138 17 438 16 72 17-206 16-567 17 258 17-97 16 177 17-515 16-93 17-72 17 793 16 112 17 322 16-997 17 1455 16-1756 17 468 17 318 16-349 17 138 16 90 17-378 17-234 16 547 17-1092 16 1376 17-795 16 91 17 719 17-808 16-579 17 1510 16-745 17 153 16-134 17 990 17-941 16-642 17 350 16 626 17 1 17-361 16 178 17 678 16 108 17 200 16-768 17-1334 17-104 16 964 17 236 16-576 17-31 16-405 17 432 17 583 16-379 17-891 16 715 17-991 17 1568 16 96 17-264 16 105 17-555 16 185 17-148 17-618 16 1451 17-96 16-1416 17 1034 16 656 17 76 17 200 16-483 17-366 16-157 17-293 17 435 16-423 17-342 16 1350 17 165 16-736 17 660 17-1028 16 619 17 194 16-352 17-1511 17 1700 16-138 17 332 16-611 17 210 16 17 17-286 17 302 16-57 17-290 16 224 17 186 16 383 17-579 17-19 16 144 17 304 16 13 17 262 17-1483 16 248 17-867 16 2019 17 481 16-875 17-5 17 148 16 119 17-150 16 1122 17-2391 17 919 16 174 17-603 16 458 17-150 16-268 17-128 17 105 16-342 17-127 16 597 17-90 16 571 17-578 17 982 16 348 17-246 16-755 17 360 17-33 16-928 17-590 16-475 17 481 16 457 17 233 17 961 16-389 17 24 16-683 17 111 16 862 17-94 17-493 16 58 17 453 16-686 17 1307 17-933 16 493 17 489 16-468 17-961 16 1216 17-389 17-207 16 181 17 36 16-143 17-219 16-856 17 2150 17-992 16-664 17 1251 16-915 17-496 17 647 16-178 17 408 16 467 17-236 16 6 17-879 17 601 16-537 17-315 16-315 17 649 17-95 16 688 17 319 16-1373 17-145 16 1196 17 238 17-1407 16 446 17-442 16-350 17 959 16-374 17 1066 17-297 16-561 17-591 16 717 17-112 17 726 16-755 17 997 16-215 17-174 16 362 17-62 17-171 16-758 17-52 16 157 17 34 17-6 16 730 17-114 16-92 17-570 16 76 17-114 17 907 16-1286 17 912 16 428 17-407 16-256 17 182 17-944 16 937 17 210 16 519 17-1283 17 547 16 174 17 821 16-279 17-257 16-560 17-487 17-301 16 1018 17-241 16-892 17 309 16-43 17-338 17 401 16 370 17-1455 16 2034 17-385 17-373 16 199 17 115 16 250 17-778 16 1382 17 53 17 161 16-335 17-173 16-537 17-547 16 878 17-218 17-1357 16 433 17 1478 16-844 17 103 17 50 16-154 17-341 16 229 17-377 16 298 17-254 17 139 16 842 17 578 16-1751 17 1095 17 410 16-1032 17-422 16 684 17-709 16 899 17 159 17 574 16-1801 17 660 16-188 17 1233 16-765 17 1006 17-316 16-821 17-787 16-357 17 981 17 933 16-627 17 259 16-578 17-42 16-859 17 485 17 620 16-176 17 379 16 200 17 123 17-145 16 159 17-304 16 731 17-328 16-671 17 544 17 288 16-1540 17 939 16-1136 17 836 16-110 17-277 17 813 16 300 17-375 16-36 17-476 17 555 16 257 17-404 16 406 17 212 16-581 17 200 17 558 16-1021 17 297 16 1170 17-443 16-1093 17 224 17 435 16-352 17 374 16-56 17-417 17 598 16-1437 17 2113 16 31 17-1313 16-95 17-1035 17 503 16-182 17 261 16 587 17 1028 16-511 17-542 17-67 16 617 17-846 16 516 17 447 17-428 16-60 17 577 16 63 17-586 16-1190 17 2131 17 418 16-615 17-375 16-788 17 1084 17-697 16-253 17-417 16 753 17 304 16-209 17 88 17 16 16 0 17-671 16 338 17 67 16-427 17 360 17-173 16 868 17-575 16-154 17 317 17 48 16 162 17-1055 16 426 17 425 16 95 17 193 17-560 16-133 17 474 16 98 17-498 17 601 16-1266 17 400 16 477 17-286 16 1025 17-962 17 327 16-756 17-214 16 896 17-1044 16 745 17 192 17-704 16-184 17 886 16-194 17 358 17 278 16-46 17-578 16 1000 17-788 16 312 17-178 17-909 16 193 17 506 16-1153 17 1635 16-410 17-638 17 1053 16-646 17 197 16-1077 17 160 17 258 16 1191 17-302 16-1232 17 158 16 917 17-13 17 839 16-768 17 361 16 351 17-132 16-988 17 949 17 729 16-2176 17 737 16 203 17 432 17-1124 16-89 17-73 16 152 17-223 16 232 17 403 17-567 16 290 17 509 16-336 17 1126 17-773 16 203 17 509 16-964 17-1217 16 94 17 468 17 912 16 597 17-396 16 63 17-466 16-1090 17 257 17 374 16 84 17 1062 16-894 17 20 17 503 16-203 17 9 16-443 17 470 16-779 17 402 17 399 16-982 17 650 16 87 17 588 17-1046 16 368 17-222 16 401 17-191 16 780 17-204 17 380 16-402 17-696 16 478 17-91 16-178 17-986 17 265 16 1455 17-1216 16 1307 17 279 17-827 16-1080 17 1084 16 508 17-314 16-353 17-833 17 539 16 400 17 129 16-255 17-270 16 717 17-212 17-579 16-1183 17 822 16 1707 17-397 17-640 16 210 17-800 16 592 17-275 16-57 17 508 17 180 16-33 17 380 16-488 17 239 16-291 17 478 17-1354 16 234 17-506 16 1096 17 144 17-423 16-52 17 4 16-291 17 97 16-390 17 892 17-618 16 2041 17-1141 16-104 17 93 17-221 16-24 17-272 16 669 17-20 16-526" fill="none" stroke="#0f718e" stroke-width="44.64" stroke-linecap="butt" stroke-linejoin="round" stroke-dasharray="44.64,73.66" stroke-opacity="0.35"/><path transform="scale(.1)" d="M19493 9590l17 27 16-559 17 26 16 466 17 259 16-695 17-364 17-22 16 59 17 521 16 447 17-288 17-37 16 256 17-424 16-1929 17 1720 16 372 17-541 17 711 16 26 17 17 16-205 17-613 17-5 16 1170 17-305 16 305 17-668 16 265 17-868 17-861 16 1211 17 40 16-350 17 786 16 691 17-938 17-194 16 1253 17-698 16 46 17 89 17-349 16 759 17 207 16-1526 17-90 16 420 17 5 17-123 16 133 17-1485 16 1484 17-318 16 945 17-755 17-981 16 876 17 666 16 712 17-1429 17 658 16-337 17-413 16 864 17-326 16-911 17 1076 17-15 16-186 17 908 16-441 17-917 16-1047 17 1593 17-150 16-235 17 330 16 270 17-142 17 86 16 247 17-262 16-137 17 1223 16-1067 17-116 17-188 16 1166 17-2059 16 602 17 1138 17-1268 16-120 17 688 16-894 17 156 16 981 17 85 17-602 16-987 17 1041 16-863 17 526 16 691 17-1050 17 1053 16-110 17 1116 16-752 17-898 17 960 16 473 17-1737 16 32 17 863 16-143 17-1329 17 1565 16-861 17 5 16 116 17 315 17-450 16 904 17-326 16-916 17 697 16 7 17-466 17 1406 16 696 17-1898 16 80 17-88 16 555 17-141 17-506 16 404 17 399 16 307 17 484 17 653 16-972 17-276 16-1947 17 1436 16 681 17-1648 17 1155 16 86 17-794 16-266 17-91 16 197 17 1046 17 121 16-69 17-683 16 341 17-748 17 296 16 34 17 1562 16-973 17 409 16-1030 17 345 17-469 16-100 17 738 16 290 17-997 16-508 17 1227 17 823 16-1247 17 1015 16-520 17 1067 17-1605 16-57 17 476 16 618 17 1075 16-1234 17-841 17 15 16 926 17-949 16-53 17 1153 17 433 16-327 17-1441 16 721 17-1319 16-79 17 1824 17-321 16-2405 17 1441 16-38 17 214 16 469 17 404 17-487 16-254 17-182 16-217 17 1153 17 225 16-954 17 85 16 1290 17-196 16-2179 17 1133 17 274 16-320 17-173 16 1085 17-92 17-1421 16 1158 17-285 16-989 17 710 16 191 17 543 17 79 16-1136 17-3 16 202 17 537 16-1217 17-510 17 987 16 885 17 398 16-2002 17-753 17 1815 16 5 17 1359 16-340 17-1813 16 182 17 19 17 762 16 626 17-229 16-977 17 172 16-117 17-37 17 869 16-271 17 531 16 259 17-855 17 829 16-1489 17 363 16 1058 17-150 16 270 17-1166 17-124 16 292 17-976 16 784 17 415 16 511 17 337 17-858 16-551 17 415 16-118 17 112 17-1057 16 682 17-425 16 752 17 617 16 626 17-101 17-933 16 562 17-1105 16 605 17 1067 17-916 16 126 17-1475 16 341 17 1158 16-317 17 810 17 335 16-810 17-607 16 451 17-901 16 1571 17-976 17-112 16 1023 17-850 16 192 17-889 17 1437 16-927 17 314 16-1075 17-1051 16 1669 17 411 17 9 16-7 17-696 16 784 17 331 17-305 16-124 17-976 16 989 17 304 16-627 17-158 17 892 16-122 17 577 16-1120 17 626 16 93 17-124 17 264 16-486 17-676 16 173 17-1194 17 1002 16 1383 17-580 16 159 17-892 16 459 17-226 17 993 16-122 17-530 16 120 17-172 16-1100 17 1484 17 417 16-1426 17 252 16 631 17-464 17-496 16 890 17-765 16 449 17-870 16 1988 17-1928 17 668 16-623 17 942 16-411 17-518 16 493 17 456 17 310 16 89 17-884 16 795 17-769 17 183 16 221 17 330 16-31 17 946 16-1320 17 251 17-976 16 965 17 285 16-348 17 92 17 477 16 693 17-518 16-299 17-879 16-309 17 990 17-795 16 851 17 49 16-133 17 229 16-918 17-825 17 1400 16-456 17 111 16-286 17 571 17-973 16 81 17 100 16-1031 17 1565 16 32 17-474 17-355 16 503 17-224 16-604 17 904 17 305 16-111 17 1497 16-1386 17-415 16-1098 17 1852 17-492 16-231 17-245 16 1086 17 1297 16-1284 17-545 17-181 16 520 17 238 16-349 17 379 17 127 16-680 17-400 16 886 17 727 16-285 17-1116 17 279 16-546 17-121 16-394 17 859 16-46 17-487 17 677 16 499 17-1103 16-638 17 1346 17-477 16-96 17 115 16 414 17 373 16 338 17-1212 17 241 16-298 17 1373 16-1293 17-388 16 308 17-1110 17 941 16 294 17 749 16 42 17-649 17-113 16-577 17 949 16-403 17 739 16-213 17 195 17 1037 16-1506 17 556 16 155 17-556 17 602 16 61 17 958 16-1205 17-760 16 434 17-836 17-514 16 377 17 744 16-437 17-138 16 334 17-526 17 279 16 1074 17-238 16-277 17 697 17 356 16-815 17-495 16 754 17-679 16 669 17 374 17-1179 16 107 17 1226 16 259 17-965 17 284 16 78 17 362 16-591 17-1815 16 1947 17-1455 17 1147 16 524 17-1087 16 353 17 119 16-840 17-870 17 844 16 1118 17 347 16-484 17-834 17 115 16 122 17-499 16 1912 17-1320 16 105 17 69 17-241 16 375 17 564 16 747 17-1197 16 574 17-504 17 832 16-773 17-538 16 361 17-377 17 576 16 21 17-391 16-11 17-306 16 130 17-511 17-615 16 494 17-70 16 364 17 962 16-869 17-285 17 1129 16-219 17 758 16-892 17-1038 17 553 16 687 17-905 16 79 17 231 16-330 17 569 17-665 16 1774 17-1064 16 477 17-558 17 519 16 681 17-1088 16 782 17 879 16-1047 17-1266 17-734 16-61 17 2172 16-485 17 398 16-568 17 1097 17-1207 16-104 17-732 16-189 17 680 17 1231 16-949 17 455 16-277 17-815 16 1681 17-505 17 278 16-634 17-347 16-27 17-64 17 728 16 84 17-266 16-254 17 113 16 510 17-198 17-351 16 665 17 83 16-827 17-1486 16 1009 17 1043 17-1359 16 254 17 1036 16-476 17-232 17-474 16 1087 17-904 16 639 17-234 16 831 17-1243 17 256 16 743 17-565 16-362 17-263 16-9 17 1683 17 16 16-605 17-326 16 746 17-1179 17 19 16 1388 17 74 16-1455 17 1408 16-2016 17-364 17 1765 16-497 17-566 16 1334 17 730 16-1884 17 542 17 1039 16-1397 17-430 16 294 17 417 17 646 16 656 17-1301 16-233 17 1127 16 15 17-55 17-240 16-277 17-1070 16 570 17-498 17 500 16-427 17 598 16-510 17 888 16 876 17-1453 17 995 16 223 17-1572 16 683 17-57 16-145 17-195 17 2153 16-1829 17 595 16-988 17 393 17 338 16-597 17-235 16 249 17 1493 16-2164 17 718 17 1035 16-887 17-780 16-150 17 469 17 82 16 1428 17-1700 16 559 17-15 16 5 17 1087 17-1683 16 948 17-623 16 1195 17 803 16-1207 17-539 17 840 16-2030 17 1348 16-857 17-96 17 1583 16-692 17 579 16-453 17 55 16-693 17 873 17-538 16-303 17-337 16 1133 17-616 16-218 17-283 17 2072 16 330 17 120 16-806 17 216 17-468 16-234 17-888 16-190 17 855 16 34 17 995 17-423 16-368 17 73 16-1545 17 2371 16-501 17-495 17-693 16 98 17 1301 16-57 17-906 17-48 16-660 17 152 16 548 17 234 16-588 17 691 17-50 16-902 17 725 16-342 17 1750 17-553 16-663 17-520 16 277 17-51 16 514 17-293 17-623 16 863 17 539 16-1304 17-969 16-17 17 1348 17 131 16 127 17-555 16-333 17 852 17-577 16-31 17-725 16 845 17-67 16 1263 17-450 17-767 16 919 17 10 16-464 17 37 17 358 16-117 17-684 16-794 17 81 16 424 17-568 17 1641 16-1147 17 308 16 208 17 377 16-251 17-369 17 565 16 333 17-711 16-954 17-38 17 10 16 1147 17 206 16 7 17-1455 16 1090 17-727 17 12 16 1042 17-486 16-754 17 218 16 336 17-441 17 1417 16-125 17-355 16-549 17-509 17 1044 16-112 17-783 16-206 17 1086 16 471 17-185 17-487 16 1533 17-1876 16 449 17-660 16-509 17 1094 17 935 16 430 17-1937 16 862 17-120 17 757 16-292 17-545 16-335 17 245 16 659 17-270 17-44 16-949 17 854 16 629 17-797 17 535 16-1191 17-394 16 986 17 285 16-565 17 1226 17-1262 16-590 17 533 16 245 17 513 16 273 17-648 17-164 16 496 17-838 16 616 17-669 17 1015 16-488 17-348 16-344 17 726 16-1 17-53 17-649 16 1056 17-93 16 921 17-1834 17 358 16 442 17-8 16-564 17 524 16-216 17 967 17 194 16-1432 17 266 16 1082 17-707 16-641 17-722 17 1302 16-215 17 519 16 713 17-223 17-632 16 96 17-130 16 104 17-385 16-1487 17 701 17-96 16-732 17 2014 16 458 17-117 16 268 17-1375 17 966 16-25 17-995 16 802 17-420 17-499 16 780 17-927 16 55 17 165 16 413 17 596 17-1630 16 1121 17 125 16-48 17 13 16-458 17 688 17-235 16-707 17 1043 16-303 17 634 17-475 16-367 17 521 16-1549 17 1612 16-1108 17 500 17-154 16 736 17-731 16-118 17 1223 17-526 16-113 17-707 16 1050 17-868 16-16" fill="none" stroke="#0f718e" stroke-width="44.64" stroke-linecap="butt" stroke-linejoin="round" stroke-dasharray="285.71,71.43,44.64,71.43" stroke-opacity="0.35"/></g>
<clipPath id="cp2"><rect x="1949.5" y="1291.5" width="1656.0" height="444.0"/></clipPath>
<g id="tr2" clip-path="url(#cp2)"><path transform="scale(.1)" d="M19493 14114l17 1472 16-900 17 1736 16-191 17-595 16 270 17-970 17 417 16-207 17 10 16-440 17 689 17-807 16 485 17-231 16-181 17 4 16 756 17 88 17 45 16-446 17-118 16 1260 17 228 17-1344 16 609 17-692 16 482 17-514 16-94 17 715 17-1060 16-359 17 295 16 1423 17-175 16-727 17-519 17 886 16 1080 17-370 16-1068 17 493 17-1165 16 713 17-1000 16 1386 17-228 16-547 17 790 17-2329 16 516 17 1294 16-196 17 431 16 47 17-899 17 417 16-855 17 894 16-328 17 65 17-341 16 835 17-225 16-44 17 1036 16-963 17-3 17 629 16-665 17-360 16 713 17-329 16-678 17 460 17 308 16 230 17 485 16-982 17 403 17 544 16 946 17-906 16-5 17-241 16-198 17 71 17-351 16-458 17 717 16-224 17 417 17-648 16 412 17 131 16-280 17 81 16 365 17-359 17-388 16 344 17 376 16-906 17 391 16 628 17 216 17-314 16-893 17-343 16 232 17 1168 17-122 16-1024 17-28 16 347 17-242 16 575 17-205 17-141 16 700 17-840 16 561 17-446 17 809 16-1166 17-944 16 1542 17-329 16 843 17-1435 17 1500 16-130 17 58 16-1306 17 1254 16-430 17-581 17 305 16 531 17-276 16 374 17-552 17-125 16 173 17-375 16 703 17 123 16-269 17-266 17 504 16-441 17-164 16 283 17 207 16 240 17-970 17 918 16-1139 17 849 16 851 17-911 17 7 16 344 17-72 16 27 17-513 16 884 17 171 17-1195 16 24 17 442 16-904 17 955 16-1358 17 1382 17-211 16-30 17-790 16 309 17 161 17-42 16-212 17-120 16 963 17 211 16-354 17 886 17 315 16-962 17-364 16 333 17 321 17 154 16-536 17-1127 16 961 17-184 16 243 17 165 17-560 16 1147 17-203 16-542 17-46 16 903 17-1598 17-1036 16 1665 17-471 16 139 17 266 17 859 16-864 17-71 16 700 17-876 16 661 17-813 17 335 16 422 17-1434 16-28 17 497 17 1075 16 14 17-534 16 464 17 197 16-545 17-89 17 852 16-923 17 178 16-1261 17 1011 16 324 17 415 17-632 16 365 17-147 16-622 17-430 17 616 16 482 17 62 16 502 17-1206 16 58 17 1117 17 256 16-212 17-1357 16 1316 17-332 16-239 17 597 17-234 16-1149 17-154 16 1490 17-595 17 50 16-654 17 1153 16-380 17-479 16 877 17-320 17-90 16-304 17 488 16-1867 17 748 16 1200 17 184 17 214 16-575 17-156 16-450 17 115 17 599 16 46 17-572 16-280 17 1076 16-114 17-789 17 595 16-241 17 461 16-996 17 551 17 234 16-452 17 210 16-188 17-649 16 564 17 105 17-865 16 783 17 247 16-589 17 1057 16-1072 17 473 17 415 16 9 17 154 16-758 17 519 17 936 16-467 17-874 16 257 17 295 16 317 17-1142 17 647 16-480 17 1296 16-538 17 156 17-277 16-318 17 222 16-389 17-577 16 451 17 827 17-954 16 670 17-181 16-704 17 362 16 264 17 108 17 574 16-254 17 354 16-791 17 252 17-175 16-685 17-69 16 290 17-237 16 2 17 435 17-257 16-559 17 864 16-62 17 994 16-109 17-544 17 125 16-325 17 192 16 0 17-71 17 288 16-643 17 600 16-248 17-812 16 447 17 550 17 103 16-579 17-249 16 723 17 164 16-1532 17 1286 17-1040 16 498 17 618 16-39 17 48 17 16 16-407 17 1014 16-1220 17-34 16 712 17 607 17-1646 16 1376 17-636 16-356 17 887 17-1099 16 1226 17 466 16-127 17-269 16-1343 17 1093 17-1510 16 603 17-333 16 202 17 799 16-23 17-439 17-117 16-1086 17 1545 16 625 17 126 17 90 16-587 17-464 16-1214 17 856 16 648 17-236 17-1287 16 1243 17 520 16-603 17-343 17-110 16 34 17-229 16-666 17-207 16 508 17 583 17 853 16 136 17 442 16-297 17-487 16-566 17 1004 17-1180 16 576 17 1072 16-872 17 426 17 96 16-406 17 442 16-497 17-221 16-648 17 1024 17 428 16-2159 17 1385 16-807 17 664 16 318 17-1500 17 422 16 906 17 139 16-534 17 369 17-308 16 422 17 18 16-233 17 186 16 695 17-585 17 416 16-194 17-24 16 317 17-1633 16 1525 17-1105 17 1070 16-106 17-821 16 262 17-33 17-1126 16 518 17-254 16 602 17 248 16 93 17-983 17 2415 16-1141 17-453 16 1090 17-720 17 41 16 405 17-511 16 573 17-1317 16 1203 17 286 17-317 16-329 17-494 16 56 17 156 16 1444 17-661 17-407 16-737 17 926 16-527 17 285 17 303 16-334 17 8 16-193 17 55 16-563 17-122 17 1059 16-1199 17-333 16 264 17 488 17-1014 16 1215 17-39 16 661 17-436 16-744 17 747 17-515 16 867 17-576 16-934 17 944 16 169 17-674 17-161 16 620 17 5 16 121 17-520 17 25 16 232 17 653 16 595 17 371 16-1107 17-2032 17 928 16 96 17 630 16-97 17 795 16-396 17 580 17-810 16 778 17-1044 16 282 17-335 17 61 16 1049 17 225 16-1236 17-15 16-257 17-961 17 684 16-462 17 1063 16 558 17-311 16-55 17-135 17-337 16-139 17-348 16 983 17 404 17-517 16-385 17 194 16 77 17-1048 16 645 17 1077 17 5 16-1297 17 106 16 1357 17 97 17-666 16 205 17-418 16 762 17-350 16-300 17-296 17 233 16 154 17 67 16-353 17-192 16 752 17 248 17-402 16 534 17-287 16-1764 17 732 17 776 16 239 17 162 16 250 17-340 16-690 17-352 17-17 16 1578 17-752 16 331 17-400 17 9 16 150 17 528 16-454 17-180 16-354 17 150 17 576 16-1225 17-541 16 1120 17 842 16-1928 17-188 17 567 16 1500 17-1470 16-95 17 1038 17 1198 16-1730 17 654 16-237 17-408 16-410 17 710 17-328 16 112 17 313 16-336 17 360 16 103 17-1 17 760 16-256 17 180 16-945 17 950 17-1716 16 558 17 280 16 763 17-190 16-1328 17 566 17 1077 16-1044 17-882 16 1097 17 57 16-976 17 2024 17-1455 16 646 17-423 16-648 17 63 17 197 16-435 17 1082 16-182 17 473 16-472 17 326 17 341 16 99 17-1031 16 1217 17 131 17 294 16-203 17 230 16-159 17-121 16-1581 17 388 17 608 16 759 17-383 16-1323 17 639 16-554 17 146 17 214 16 245 17 7 16 121 17 218 17-342 16-690 17 68 16 1201 17-817 16-147 17 498 17-676 16-66 17-865 16 2182 17-988 17 717 16-457 17-371 16-723 17 586 16 740 17-705 17-44 16-417 17 2045 16-865 17 1045 16-1011 17-244 17 361 16-580 17-60 16-551 17-423 17 731 16 385 17 416 16-1035 17 476 16 216 17-434 17 578 16-36 17-141 16-625 17 991 16 343 17-197 17-13 16 46 17-842 16 455 17-1273 17 154 16 626 17 265 16-403 17-1296 16 965 17 1066 17-251 16-2060 17 1938 16 194 17-135 16 292 17-1028 17 883 16-59 17-380 16-155 17 439 17-96 16 104 17 1421 16-1280 17-236 16 137 17-592 17 1363 16-1321 17 677 16 391 17 155 17-721 16 342 17-681 16 1010 17-1190 16 479 17-1158 17 591 16 663 17 91 16 916 17-617 16 361 17-212 17-1766 16 1443 17-537 16-148 17 452 17 22 16 316 17-1400 16 368 17-199 16 1585 17-431 17 382 16-1136 17 477 16 403 17-359 17-154 16 102 17-1021 16 83 17 515 16-98 17 551 17 727 16-536 17 1062 16-1419 17 318 16 893 17-836 17-1943 16 1627 17 108 16-335 17 851 17-1333 16 756 17-208 16-389 17 485 16-373 17 1206 17 255 16-800 17 246 16 40 17-337 16-474 17-599 17-646 16 147 17 394 16 1215 17 345 17 289 16-357 17-487 16-1345 17 1394 16-444 17 574 17-109 16 913 17-2254 16 745 17 357 16 55 17 849 17-1051 16-42 17-353 16-634 17 408 17 913 16 140 17 669 16-2131 17 1738 16-1083 17 955 17-399 16 46 17 561 16-949 17-193 17 326 16-370 17-763 16 1688 17 77 16 494 17-172 17-308 16-102 17-232 16-1104 17 194 16 859 17-329 17 580 16-766 17 637 16 15 17 704 17-272 16-1655 17 2257 16-716 17 88 16-25 17-1078 17 900 16-2230 17 2386 16-200 17-527 17-662 16 257 17-10 16 919 17 369 16-530 17-330 17-278 16 109 17 678 16 270 17-1042 16-130 17 1566 17-876 16-236 17 653 16 425 17-1053 17-98 16 1006 17-422 16-899 17 723 16-1120 17 1546 17-1135 16 591 17 573 16-186 17-754 16 1025 17-1094 17-82 16 1719 17-955 16-878 17 912 17 1169 16-1387 17-654 16-566 17 1448 16 432 17-142 17-1133 16 991 17-300 16 876 17-1555 16 436 17 43 17 1023 16-2292 17 632 16 526 17 271 17 816 16-1126 17 319 16 74 17 796 16-1399 17 236 17 55 16 407 17-507 16-367 17 77 17 1018 16 665 17-708 16-578 17 1485 16-378" fill="none" stroke="#0f718e" stroke-width="44.64" stroke-linecap="square" stroke-linejoin="round" stroke-opacity="0.35"/><path transform="scale(.1)" d="M19493 15446l17-248 16-720 17 705 16-560 17 537 16-587 17 766 17-143 16-551 17 344 16 1600 17-841 17-699 16 43 17 694 16-143 17-764 16-341 17 164 17 716 16 376 17-1835 16 1524 17-936 17 349 16-153 17 66 16 381 17-399 16 801 17-106 17-354 16 1651 17-1963 16 325 17 169 16 533 17-369 17 623 16-23 17-196 16-501 17-107 17 349 16 0 17-648 16 586 17-1190 16 213 17 798 17 667 16-675 17-728 16 305 17 107 16 971 17-1062 17 812 16-1359 17 521 16-891 17 407 17 1661 16-607 17-576 16-751 17 803 16-156 17 1228 17-741 16 15 17-463 16 257 17 160 16-12 17-436 17-703 16 147 17-104 16 1289 17 615 17-7 16-15 17-951 16 101 17 123 16-1629 17 1227 17-374 16 381 17 790 16 572 17-442 17-754 16-275 17-612 16 358 17-878 16 1462 17 383 17-746 16 307 17-637 16-625 17 711 16 585 17 1537 17-970 16-596 17 802 16-825 17-132 17-3 16-456 17-611 16 1487 17-105 16-303 17-936 17 740 16-146 17 260 16 17 17-12 17-605 16 262 17-228 16 490 17 351 16-17 17-623 17 347 16 1066 17-865 16 714 17 937 16-1097 17-1438 17 118 16 232 17 890 16 450 17 98 17-356 16 109 17-471 16-212 17 601 16-654 17 1405 17-518 16-188 17 71 16-308 17-78 16-303 17-167 17 1187 16-1182 17-82 16-585 17-317 17-338 16 232 17 974 16-738 17 760 16 403 17-137 17-1183 16 151 17 675 16 241 17 594 16-851 17 2229 17-1309 16-180 17 113 16-814 17 409 17-1008 16 1426 17-1708 16 1246 17-413 16 601 17 201 17-303 16-482 17 566 16 297 17-18 17 467 16 100 17-814 16-604 17-183 16 461 17-11 17 1673 16-596 17-377 16-623 17-185 16 247 17-7 17-1431 16 1568 17-122 16 266 17 206 17-139 16-312 17 427 16-1490 17 873 16 221 17-1025 17-326 16 67 17 133 16 1904 17-248 17-226 16 222 17-1284 16-87 17 1103 16 629 17 302 17-114 16-841 17-511 16 517 17-1111 16 758 17-148 17 857 16-252 17 521 16-630 17-621 17 377 16 81 17-754 16 726 17-687 16 274 17 623 17 334 16-544 17-569 16 474 17 800 16-222 17-910 17 79 16 329 17 10 16-1331 17 2481 17-109 16-1380 17-170 16 88 17 727 16-767 17 739 17 109 16 237 17-796 16 821 17-811 16 404 17-574 17 459 16-1158 17 895 16 132 17 288 17 111 16-269 17-203 16 964 17-207 16-567 17 353 17-327 16-585 17-246 16-339 17 397 17-489 16 1743 17-90 16 182 17-175 16-821 17 221 17 1145 16-1920 17 15 16 533 17 452 16 427 17 221 17 95 16-1054 17 991 16-972 17-708 17 623 16-627 17 163 16 451 17 142 16-1074 17-434 17 1863 16-303 17 914 16-427 17-1087 17 295 16 603 17-661 16-168 17-3 16-262 17 406 17 107 16-110 17-118 16-1320 17 1951 16 463 17 138 17 595 16-354 17 22 16-1105 17-440 17 1247 16-388 17 614 16-160 17-615 16 102 17 14 17-968 16 304 17 767 16 295 17 449 16-634 17-1045 17-219 16 776 17 720 16-118 17 485 17 709 16 28 17-1180 16 97 17 475 16-1213 17-332 17-568 16 710 17 606 16-628 17 875 16-171 17-920 17 1040 16-408 17 156 16 567 17-1590 17 1267 16 81 17-343 16-767 17 146 16 710 17 281 17-848 16 207 17 114 16-83 17-176 17 255 16-800 17-880 16 1656 17 156 16-614 17 38 17 496 16 411 17-22 16-788 17-344 16 930 17-417 17 710 16-1151 17 544 16 280 17 363 17-819 16-464 17 1215 16-1083 17 772 16 3 17 220 17-942 16-989 17 1414 16-600 17 534 17-1079 16 657 17 605 16-1117 17 582 16 23 17-334 17 693 16-233 17-111 16-3 17 1233 16-635 17-681 17-208 16 675 17-109 16 360 17 117 17 420 16-686 17-537 16 152 17-278 16 243 17-19 17 128 16-29 17 744 16-276 17 402 16 176 17-1804 17 1128 16 482 17 1113 16-994 17-566 17 1106 16-813 17-658 16 750 17-945 16 298 17-237 17 668 16-332 17-343 16-243 17 702 16 176 17-911 17 717 16 207 17-233 16 514 17-1066 17 1183 16-105 17-753 16 91 17 622 16-813 17-102 17 133 16 621 17-517 16 1170 17-1267 17-256 16 1322 17 213 16-227 17-574 16-1185 17 789 17-698 16 299 17 383 16 652 17-930 16-30 17 1091 17-77 16-1120 17 808 16-741 17 109 17 3 16 406 17-95 16-768 17 152 16 2181 17-621 17-1284 16 1019 17-199 16 147 17-1134 17 949 16-636 17-161 16-888 17 564 16 396 17 0 17 208 16 102 17-528 16 1467 17-19 16-906 17-1007 17 658 16 422 17 92 16 671 17-797 17-673 16-17 17 140 16-450 17 760 16-212 17 182 17 673 16-194 17-184 16-1021 17 503 16 189 17-748 17 1563 16 461 17-735 16-508 17-41 17-138 16 48 17 1586 16-849 17 301 16-991 17-259 17 967 16-82 17 369 16-1566 17 372 16-654 17 99 17 777 16 23 17 843 16-433 17-2 17 366 16 543 17-1041 16 504 17 1247 16-947 17-1198 17-399 16 345 17 619 16-141 17-278 17 670 16 222 17-33 16-335 17-92 16 341 17-575 17-58 16-391 17 1147 16-1252 17 1698 16-831 17-501 17-408 16 92 17-973 16 1262 17 1066 17 893 16-952 17-373 16 563 17-1137 16-449 17 370 17 114 16 868 17-778 16-630 17 709 17 153 16 508 17-807 16 614 17-528 16 674 17-203 17-522 16 222 17-121 16 243 17 623 16-1100 17 1230 17-467 16-738 17 322 16-263 17 759 17-734 16-697 17 480 16 1003 17-26 16-1411 17 139 17 651 16 264 17-315 16-6 17-427 16 117 17-71 17-777 16 1074 17 874 16-234 17-1017 17 307 16 305 17 69 16 986 17-818 16 405 17-1499 17 1059 16 356 17-145 16-769 17 816 16-484 17 519 17-1971 16 401 17 760 16 293 17-277 17 969 16-690 17-1045 16 1539 17 322 16 89 17-857 17 218 16-356 17-817 16 355 17 502 17-721 16 1238 17-106 16-804 17 242 16-1249 17 1877 17 226 16-555 17-197 16-561 17 139 16-147 17 14 17 1003 16-176 17 71 16-1587 17 829 17-391 16 660 17-65 16-192 17 672 16 146 17-560 17-182 16-483 17 851 16-522 17-332 17 772 16 436 17 110 16-602 17 1211 16-1599 17 1512 17-231 16-317 17-333 16 305 17 490 16-429 17-1381 17 718 16-473 17 994 16-560 17-928 17 685 16 877 17-968 16-485 17-3 16 897 17 129 17 176 16 135 17 1224 16-1490 17-3 16 884 17-1040 17 1009 16-915 17-401 16-638 17 1636 17-331 16-436 17 630 16-762 17 513 16-794 17 323 17-420 16 168 17 698 16-289 17-212 16-5 17-388 17 213 16-291 17 932 16-939 17 270 17 565 16-104 17 567 16 23 17-884 16-389 17 651 17 1162 16-186 17-1040 16-135 17-59 17 883 16-207 17-423 16-223 17 445 16 12 17-305 17 523 16 313 17-862 16 68 17 810 16-1169 17-679 17 498 16 582 17-43 16-181 17 463 17-340 16 585 17-249 16 662 17-262 16-196 17 980 17-992 16-429 17-333 16-22 17 282 17 797 16-1139 17 490 16 1029 17-170 16-488 17-449 17-4 16-804 17 1527 16-318 17 582 16 19 17-1204 17 185 16-1081 17 42 16 241 17 219 17 909 16 158 17-128 16 188 17-260 16-1266 17 570 17 512 16 253 17-282 16-831 17 537 16 403 17-972 17 811 16 562 17-16 16-63 17 209 17-559 16-1093 17 834 16 1099 17-889 16-375 17 656 17 290 16-858 17-1212 16 1349 17-1223 16-116 17 816 17 653 16 1038 17-890 16 460 17-1127 17 553 16-641 17 770 16-477 17 435 16-569 17 1018 17-54 16 92 17-388 16-1617 17 862 17 553 16 458 17-1850 16-634 17 1521 16 987 17 772 17-1474 16-761 17 1198 16-169 17-279 16-226 17 892 17-19 16 73 17 442 16-901 17 298 17-1150 16 345 17 540 16 21 17 173 16-1911 17 1341 17 699 16-98 17 84 16 209 17-788 17-44 16 39 17-429 16-238 17 843 16-690 17 272 17 346 16-187 17 155 16 767 17-363 16 758 17-1043 17 644 16-533 17-179 16 594 17-958 17 596 16-246 17 500 16-791 17-754 16 533 17 87 17 732 16-354 17 264 16-1030 17 988 16-401 17 73 17-782 16 309 17 1601 16-1403 17 879 17-725 16 1207 17-634 16-481 17 1671 16-115 17-2340 17 909 16-1106 17 801 16 638 17 103 16-25 17-127 17-431 16 186 17-754 16 615 17 630 17-551 16 284 17-698 16 267 17 516 16-390 17 508 17-228 16 590 17-1872 16 1026 17 719 17 989 16-1925 17-777 16 671 17 758 16-310" fill="none" stroke="#0f718e" stroke-width="44.64" stroke-linecap="butt" stroke-linejoin="round" stroke-dasharray="165.18,71.43" stroke-opacity="0.35"/><path transform="scale(.1)" d="M19493 15492l17 274 16-740 17-342 16 812 17-857 16 647 17-565 17 1782 16-1362 17-116 16-474 17 82 17-499 16 1311 17-746 16-1000 17 1264 16 870 17-435 17-476 16-273 17-8 16-1328 17 1724 17 508 16-732 17 548 16 106 17-304 16-1011 17 1055 17 766 16-814 17-313 16-756 17 731 16 274 17 205 17-81 16 468 17-367 16 602 17-924 17 141 16-194 17 527 16-226 17 260 16-1366 17 356 17 589 16-298 17-166 16 265 17 911 16-1580 17 665 17 414 16 146 17-703 16 476 17-397 17 54 16-131 17-345 16 854 17 896 16-429 17-518 17-334 16-88 17 850 16-89 17-99 16 722 17 302 17-1727 16 1015 17-355 16 237 17-281 17-44 16 324 17 453 16-502 17-2008 16 748 17 944 17-555 16-474 17 1162 16-147 17-420 17 364 16 217 17-601 16 318 17 195 16 80 17-410 17-429 16 682 17-837 16 2096 17-1000 16-673 17-957 17-29 16 1982 17-401 16-262 17 768 17 209 16-212 17-176 16-682 17-42 16 1029 17-145 17 487 16-1673 17 594 16 78 17-198 17 271 16-1005 17 208 16-156 17 588 16-330 17 677 17-632 16 122 17-434 16 806 17-208 16 1493 17-173 17-924 16 325 17-398 16-1346 17 1236 17-698 16 834 17-188 16-360 17 351 16 248 17-818 17-476 16 1428 17-25 16-578 17-823 16-721 17 1285 17-418 16-255 17 1079 16-32 17 287 17-652 16 363 17-360 16 694 17 399 16-641 17-7 17-1052 16 294 17-405 16 234 17 18 16 1829 17-245 17-69 16-437 17-329 16-442 17 233 17 1545 16-1887 17 433 16-74 17 383 16-678 17-47 17 1128 16-202 17-657 16-206 17-414 17 796 16-108 17 204 16-107 17 341 16-783 17 988 17-410 16 584 17-778 16 29 17-1521 16 1505 17-1234 17 1205 16-343 17-23 16 1077 17-458 17-681 16 1130 17-1157 16 1327 17-757 16 550 17 145 17-892 16-347 17 55 16 605 17-311 17 302 16-579 17 1481 16-760 17-831 16 707 17 268 17 390 16-516 17 89 16-653 17 963 16-573 17 388 17 598 16-41 17 443 16 516 17-905 17-1948 16 1171 17-298 16 347 17 560 16-742 17 908 17-1313 16 830 17-1358 16 83 17 392 16 345 17 210 17 6 16-317 17-256 16 147 17 397 17-288 16 484 17-912 16 789 17-667 16 656 17-475 17 116 16-106 17-463 16 663 17 475 16-270 17-810 17-939 16 1409 17 1272 16-253 17-1199 17-155 16-587 17 217 16-632 17 371 16 400 17-826 17 839 16 326 17-428 16 1309 17-26 17-8 16-552 17-96 16 1032 17-1362 16-13 17 1837 17-1223 16 532 17 307 16-45 17-1807 16 1099 17-569 17 113 16-1354 17 973 16 818 17-688 17-628 16 722 17-303 16 1080 17 528 16-1246 17 283 17-274 16 602 17 398 16-167 17-30 17-103 16 40 17 194 16-656 17 638 16 1237 17-1297 17-1089 16-117 17 74 16 770 17 564 16 438 17-730 17-159 16-717 17-539 16 1509 17-107 17 206 16-610 17-237 16 310 17-442 16 736 17-1087 17-23 16-196 17-36 16 705 17 1561 16-2224 17 1471 17-15 16-1263 17 449 16 141 17-585 17 1681 16-1103 17 1149 16-430 17-1222 16 249 17 112 17 972 16-564 17 384 16 88 17-1067 16 436 17-187 17 464 16-704 17 1341 16 165 17-530 17 634 16-864 17-418 16 272 17-235 16 83 17-1474 17 766 16 1504 17-942 16 1062 17-1375 17-619 16 1760 17-352 16 208 17-24 16 171 17-768 17-40 16 603 17 1235 16-1066 17 60 16-1675 17 817 17-121 16 718 17 1213 16-983 17 650 17-1567 16-28 17-855 16 1138 17 174 16-1153 17 444 17 331 16 70 17 450 16 401 17-403 17 179 16 405 17-175 16-95 17 461 16-633 17-733 17 827 16-481 17 314 16 272 17-441 16 855 17-889 17 251 16 66 17-301 16-1080 17 809 17-216 16 625 17 477 16-349 17-709 16 3 17 375 17-871 16 563 17-780 16 1191 17-80 16 144 17-140 17-288 16-67 17 666 16 546 17-249 17-141 16-290 17-298 16 238 17-658 16 592 17 840 17-1454 16-208 17 689 16-549 17 2106 16-829 17 571 17-922 16-104 17-110 16-46 17 253 17-97 16 401 17-503 16-111 17 678 16-1559 17 1368 17-28 16 429 17 789 16-1050 17-1167 17-336 16 815 17-728 16 317 17 488 16 825 17-1376 17-652 16 436 17 797 16-413 17 49 16 387 17 9 17 225 16-762 17 812 16 909 17-1210 17-145 16-502 17 665 16-242 17-616 16 810 17 582 17-64 16-1116 17 864 16-236 17-28 17-420 16 194 17-306 16 857 17-1322 16-928 17 894 17 772 16 987 17-1232 16 870 17-906 16-687 17 114 17-349 16 1730 17 726 16-1617 17 274 17-42 16 705 17 237 16 154 17 464 16-1335 17-544 17 143 16-181 17 705 16 1110 17-298 16-1307 17-274 17 820 16-74 17-608 16 377 17 667 17 83 16-560 17 380 16-632 17 372 16-302 17 483 17-301 16-272 17-168 16-147 17-1018 16 861 17 632 17-75 16 1156 17-440 16 56 17-1017 17 189 16-666 17 433 16 712 17-285 16 506 17-545 17-260 16 373 17 328 16 368 17-824 17 730 16-1132 17-327 16 515 17-122 16-471 17 319 17 454 16 394 17-214 16-169 17 57 16-291 17 1340 17 8 16-7 17-736 16 259 17-18 17-1150 16-865 17 1052 16 786 17 328 16-501 17 943 17-943 16 536 17-1411 16 908 17 19 17 481 16-1008 17 1084 16-528 17 88 16-168 17-29 17-21 16-292 17 87 16 64 17 430 16 367 17 45 17-49 16 616 17-771 16-106 17-124 17-465 16-345 17 717 16 178 17 93 16-1043 17 537 17 727 16-101 17-1102 16 34 17 271 16-26 17 919 17-103 16-1383 17 1021 16-138 17-564 17 835 16-525 17 1401 16-604 17 137 16 90 17-87 17-240 16 1211 17-1690 16 526 17-1351 16 366 17 131 17-532 16 755 17-506 16 1162 17-884 17 753 16-585 17-464 16 90 17 728 16-683 17 858 17-537 16 98 17-508 16-286 17 580 17 671 16 176 17-154 16-87 17-94 16-88 17 303 17 233 16 761 17-727 16-1357 17 1192 16-284 17 232 17 506 16-716 17-97 16-433 17-863 17 1528 16-2296 17 856 16 429 17-94 16 297 17-503 17 1130 16 668 17-7 16-630 17-311 17 285 16-1021 17 27 16 77 17 20 16 185 17-895 17 1570 16-1059 17-105 16 1695 17-392 16-318 17-854 17 474 16 145 17 345 16-59 17-884 17 708 16 557 17-192 16-109 17 779 16-284 17-531 17-351 16 178 17-546 16 937 17-432 16-69 17 1500 17-1492 16-124 17 28 16-278 17 1082 17 506 16 114 17-373 16-1308 17-125 16 418 17 456 17-641 16 1211 17-1274 16 612 17-435 16 232 17 680 17-841 16-1273 17 928 16 441 17 520 17-250 16-741 17 1381 16-827 17 716 16-877 17-604 17 710 16 852 17-338 16-865 17 577 17 145 16 66 17-899 16 227 17 69 16 943 17-1458 17-123 16 1322 17 735 16-848 17-92 16-623 17 296 17-894 16-82 17 711 16 277 17-796 17 480 16 202 17-208 16-85 17-582 16 1705 17-91 17 71 16-1636 17 300 16 424 17-455 17 1836 16-635 17-126 16 816 17-750 16 269 17-36 17-957 16-443 17 403 16-62 17 708 16-733 17-26 17 721 16 554 17-1072 16 448 17-71 17-676 16 413 17-1034 16 890 17 1857 16-1730 17 242 17 887 16-720 17-43 16 31 17-1371 16 1696 17-97 17 306 16 190 17-813 16-530 17-243 17 362 16 1190 17-700 16-274 17 808 16-531 17-1091 17-83 16 754 17 301 16-56 17 165 16 1752 17-1299 17-404 16-291 17 560 16-1056 17 81 17-382 16 273 17 841 16 217 17-1065 16 703 17-865 17 105 16 568 17-50 16-472 17 339 17 420 16-858 17 229 16-225 17 544 16-132 17 518 17 280 16-56 17 346 16-859 17-117 16-724 17 140 17 1143 16-437 17-361 16 1793 17-817 17-378 16 17 17-1098 16 784 17-590 16 992 17-362 17 78 16-834 17 823 16 726 17-1674 17 1604 16-698 17 340 16-253 17-416 16 1489 17-1311 17 164 16-615 17 525 16-852 17 407 16 764 17-487 17-146 16 337 17 618 16 198 17-79 17-88 16-56 17 194 16-204 17 97 16-1299 17 1020 17-191 16 600 17-1334 16 466 17-541 16 1130 17-172 17 491 16-1441 17-1005 16 1266 17-146 17 384 16-860 17 886 16-152 17 683 16-150 17-117 17-688 16 137 17 570 16-453 17-31 16 678 17-51 17-645 16 452 17 265 16-1069 17 467 17 168 16-1042 17 1109 16-199 17 862 16-948 17 857 17 443 16-791 17-276 16-1129 17 627 17 584 16 146 17 120 16-573 17 498 16 169" fill="none" stroke="#0f718e" stroke-width="44.64" stroke-linecap="butt" stroke-linejoin="round" stroke-dasharray="44.64,73.66" stroke-opacity="0.35"/><path transform="scale(.1)" d="M19493 15349l17-686 16 587 17-227 16 1163 17-838 16-588 17 889 17 530 16-1547 17-46 16 1263 17-370 17-325 16-705 17-214 16 91 17-383 16 1006 17 55 17 369 16-641 17-1266 16 1020 17 753 17 845 16-1385 17-351 16-396 17 1804 16-736 17 990 17 603 16-742 17-192 16-31 17-227 16-200 17-983 17 1157 16 511 17 182 16-544 17 756 17-1194 16 671 17 11 16 161 17-543 16 425 17-292 17-644 16-508 17-237 16 1079 17-249 16 847 17-683 17 25 16 183 17-719 16-384 17 1497 17-602 16 248 17-442 16 389 17-245 16-995 17 227 17 1387 16-1418 17 1705 16-8 17-209 16-433 17-451 17 23 16 110 17 107 16 240 17-438 17 609 16-1340 17 1430 16-1 17-1404 16 427 17 914 17-774 16-261 17 362 16 157 17-902 17 1264 16-409 17 50 16 1095 17-684 16 311 17-741 17-391 16-775 17 1390 16-930 17 1640 16 112 17-1652 17 740 16-245 17 494 16 783 17-1299 17 502 16-812 17 431 16-455 17-1251 16 1118 17 238 17 1125 16-872 17 962 16-49 17-133 17-442 16 644 17-924 16 913 17-1545 16 425 17 322 17-18 16 187 17-189 16 775 17-667 16-769 17 1995 17 151 16-2076 17 127 16 965 17 201 17 17 16 120 17-998 16 461 17 474 16 339 17-647 17-499 16-1071 17 1974 16-654 17 774 16-1425 17 1446 17-784 16-610 17 529 16 404 17-556 17-730 16 70 17 219 16-1019 17 932 16 227 17 744 17-179 16-600 17 732 16-92 17-424 16 393 17 907 17-865 16-723 17 478 16-269 17 1062 17-1115 16 504 17-136 16 483 17-1389 16 441 17-1190 17 1440 16-172 17-47 16 1253 17-322 17-150 16-1308 17 424 16 838 17-500 16 1139 17-823 17-189 16-875 17 646 16 1141 17-998 16-1405 17 1473 17-45 16 488 17-368 16 852 17-1364 17-1238 16 1821 17-301 16 438 17-249 16-704 17-1 17-572 16 620 17 260 16-1623 17 604 17 739 16 705 17-384 16-533 17 140 16 486 17 119 17 15 16 559 17 236 16 348 17-410 16-1315 17 398 17 863 16 71 17 583 16-946 17-801 17 944 16 223 17-324 16-498 17-104 16 209 17-333 17 437 16-173 17-840 16 961 17 227 16-754 17 586 17-34 16 877 17-254 16-443 17-327 17-348 16-180 17 183 16 239 17-203 16-69 17-577 17 819 16 87 17-894 16 208 17 1261 16-137 17-154 17-144 16 695 17 445 16-1240 17 109 17-109 16 484 17-861 16 776 17-1464 16 944 17-1041 17 738 16 247 17-582 16 690 17-62 17-326 16 1320 17-634 16 98 17-642 16 621 17-597 17 640 16 384 17-179 16-1283 17 1348 16 145 17-747 17 869 16-970 17 498 16 129 17 609 17-446 16-1016 17 552 16-234 17-196 16-274 17 841 17-556 16-658 17 618 16 743 17-246 17 641 16-829 17 815 16-292 17-806 16 910 17-238 17-770 16 1035 17-162 16-214 17 633 16-826 17-586 17-102 16 938 17-870 16-22 17 528 17-278 16 470 17-165 16-607 17 258 16-454 17 836 17 78 16 471 17-435 16-298 17 1475 16-145 17-880 17-18 16 804 17-471 16-1279 17 320 17 1107 16-374 17 796 16-632 17-85 16-739 17 553 17 377 16-412 17-1408 16 1310 17-443 16 752 17 266 17-596 16 194 17-611 16-106 17-70 17 388 16-435 17 409 16-226 17 1241 16-585 17-271 17-291 16 222 17-365 16 644 17 409 17-513 16 81 17-157 16 953 17 74 16-1550 17-82 17 173 16-648 17 725 16-476 17 826 16-1424 17 2344 17-628 16 1091 17-1097 16-728 17 25 17 157 16 124 17 291 16 181 17-368 16-117 17-845 17 467 16-10 17 144 16 592 17 325 17-1105 16 1044 17-582 16-437 17 781 16-1319 17 430 17 482 16 318 17-1031 16 1420 17-661 16 261 17-1050 17 518 16 525 17-817 16 708 17-838 17 98 16 293 17-309 16 733 17-413 16 570 17-298 17 815 16-1236 17 1506 16-2 17-888 16-133 17-477 17 1265 16-196 17-548 16 189 17-116 17-307 16 167 17 630 16 566 17-421 16 166 17 352 17-1109 16-635 17 483 16-806 17-231 16 480 17 1501 17-475 16-1165 17 838 16-592 17-37 17 752 16 169 17-415 16 821 17-633 16-138 17 370 17 44 16 458 17 346 16-233 17-2113 17 812 16 206 17 340 16-383 17-776 16 976 17 184 17-492 16 1 17-201 16 1515 17-300 16-1746 17 1132 17-459 16-570 17 158 16 71 17 836 17 1118 16-771 17-764 16 110 17-109 16 494 17 184 17-153 16-519 17-1577 16 1245 17 598 17-122 16-353 17 48 16 252 17 487 16-76 17-755 17-282 16 1157 17-813 16 891 17-1729 16 591 17-138 17 574 16 52 17-839 16 1918 17-416 17-1178 16 749 17-117 16 567 17-1211 16 1564 17 882 17-1335 16-517 17 434 16 804 17-898 16-121 17-33 17 392 16 92 17-1038 16-221 17 475 17 74 16-331 17-775 16 2110 17-1248 16 392 17 570 17-211 16-422 17 256 16-133 17-8 16 498 17-460 17-19 16-72 17-319 16-67 17 317 17-142 16-269 17 169 16-581 17 1056 16 422 17 637 17-1227 16 190 17 80 16-1094 17 28 17 769 16 177 17-226 16-661 17 562 16 39 17 1108 17-943 16 111 17 538 16 390 17-1106 16 909 17-2014 17 2091 16-339 17 457 16-434 17-1332 17 1059 16 731 17-965 16-497 17 186 16 1190 17-929 17 608 16-383 17-1263 16 1392 17-981 17 141 16 1238 17-1765 16 1330 17-170 16 132 17-776 17 735 16 470 17-1246 16 621 17-269 16-149 17-402 17 647 16 260 17-85 16 46 17-461 17 316 16 576 17 48 16-486 17-192 16 321 17-21 17-274 16-157 17 441 16 184 17-1033 16 1020 17-274 17-316 16 452 17-643 16 853 17-1056 17-84 16 487 17-194 16 469 17-551 16-357 17 947 17-372 16 219 17-800 16 972 17-735 16 256 17 53 17 446 16-640 17-664 16 1175 17-712 17-921 16 2345 17-1352 16 215 17 516 16 606 17-339 17-290 16-650 17 1155 16-1023 17 686 17-1024 16 520 17 693 16-355 17 236 16-958 17 541 17 353 16-355 17-1154 16 996 17 362 16 604 17-1131 17 850 16-5 17-105 16-454 17-507 17 1111 16 58 17-751 16-263 17-16 16-568 17-549 17 1271 16 927 17 169 16-282 17-687 17 796 16-305 17-364 16-333 17-831 16-474 17 2589 17-197 16-1168 17-616 16 715 17 41 16 6 17 396 17-698 16 1106 17 192 16-1294 17 301 17 836 16 590 17-1912 16 167 17 1096 16 123 17-307 17-784 16-63 17 1328 16-1528 17-36 16 712 17 932 17-472 16-736 17 797 16-833 17-66 17 580 16-422 17-611 16 434 17 784 16-100 17 192 17-222 16-1040 17 1143 16-1681 17 1709 16-2197 17 407 17 1021 16 714 17-479 16 1410 17-259 17-1754 16 646 17 36 16 1435 17-643 16 421 17-301 17-106 16 107 17-1527 16 1016 17-301 17-578 16-454 17 446 16 1322 17-1234 16 272 17-497 17 132 16 97 17 328 16 210 17 882 16 85 17-785 17-246 16-141 17-146 16 290 17 436 17 317 16-571 17 222 16 260 17-233 16-394 17 615 17-809 16-1118 17 1050 16-484 17 131 17 852 16-1563 17 953 16 221 17 65 16-101 17-181 17-89 16 318 17 282 16-975 17 498 16 941 17-376 17-490 16-82 17 478 16-3 17 551 17-651 16-433 17-996 16 1459 17-226 16 49 17 1237 17-1582 16-405 17 286 16 155 17 395 16-218 17 16 17-23 16 700 17 744 16 125 17-1479 17-1125 16 175 17 783 16 944 17-530 16 346 17-505 17-22 16 785 17-960 16-210 17-264 16 444 17 478 17-852 16 423 17-323 16 423 17 717 17-172 16 460 17-78 16-302 17 16 16-1813 17 1498 17 99 16-451 17-1234 16 957 17-54 17 485 16 536 17-2 16-923 17 342 16 18 17 41 17-787 16-497 17 882 16 575 17 98 16 640 17-469 17-672 16-192 17 636 16-144 17 181 17-203 16-658 17 258 16 676 17 1 16 168 17-417 17 136 16 613 17-236 16-835 17 824 17 179 16-696 17-1365 16 738 17 890 16-44 17-491 17-793 16-292 17 1539 16 115 17-116 16-174 17-436 17 41 16 293 17-920 16 615 17 1077 17-524 16 116 17-126 16-1320 17 478 16 1206 17-486 17-349 16 439 17-658 16 625 17-526 16 608 17 306 17-891 16 1112 17-1793 16 823 17 1287 17-61 16-184 17 646 16-1922 17-1405 16 1754 17-234 17-1096 16 1303 17-324 16-291 17 1472 16-688 17-721 17 397 16 74 17-623 16-285 17 828 17 1289 16-504 17-320 16-144 17-140 16 478 17-281 17 764 16-2032 17 1045 16 356 17-1008 17 641 16-27 17-1340 16 1634 17-113 16-222" fill="none" stroke="#0f718e" stroke-width="44.64" stroke-linecap="butt" stroke-linejoin="round" stroke-dasharray="285.71,71.43,44.64,71.43" stroke-opacity="0.35"/></g>
<clipPath id="cp3"><rect x="1949.5" y="1891.5" width="1656.0" height="444.0"/></clipPath>
<g id="tr3" clip-path="url(#cp3)"><path transform="scale(.1)" d="M19493 20795l17 757 16 85 17 659 16-1135 17 297 16 179 17-374 17-579 16 843 17 850 16-225 17-858 17-94 16 505 17-434 16 232 17-137 16 407 17 406 17-707 16-344 17 142 16 885 17-914 17-498 16 725 17-31 16-25 17 117 16-131 17-570 17 45 16 1265 17-407 16-180 17 436 16 943 17-1588 17-210 16-85 17 354 16-735 17-512 17 148 16 336 17-457 16 701 17-21 16 973 17-176 17-792 16-184 17 84 16 428 17 969 16-319 17-819 17 1056 16-708 17 358 16-7 17 328 17-1228 16 267 17 177 16-1434 17 1463 16-108 17-304 17 194 16 98 17 850 16-132 17-2 16 186 17-691 17 735 16-1079 17-322 16 544 17 8 17-170 16 738 17-263 16-797 17 474 16-754 17 205 17 598 16 178 17-611 16 392 17-450 17 1511 16-464 17 436 16-898 17-9 16-717 17 926 17-957 16-117 17 929 16-892 17-55 16 1084 17-369 17 10 16-142 17 195 16-584 17 540 17-148 16 284 17 248 16 752 17-948 16-21 17-180 17 60 16 373 17 306 16-438 17 671 17-177 16-525 17-15 16-112 17 652 16-210 17 241 17-1049 16 258 17 92 16-370 17-443 16 1164 17-433 17 537 16 112 17-182 16 96 17-754 17 69 16 727 17-50 16-59 17-910 16-375 17-825 17 2096 16-176 17-1299 16 671 17 35 16 165 17 236 17-1215 16 1419 17-1356 16 838 17-996 17 1246 16 42 17 655 16-452 17-461 16 13 17 5 17 337 16-450 17-192 16-1246 17 1632 16-523 17-493 17-175 16 751 17 308 16-73 17-241 17 539 16-120 17-472 16-176 17 439 16 687 17-610 17 300 16 386 17-524 16 336 17 261 17-282 16 810 17-679 16-464 17 235 16 68 17 4 17-722 16-1024 17 1654 16 676 17-1081 16 910 17 54 17-746 16 137 17 434 16-742 17 989 17-1292 16 863 17-299 16 176 17-843 16 980 17 214 17-715 16-714 17 695 16 22 17-382 17 440 16-286 17 1122 16-48 17-800 16 33 17 566 17-8 16-923 17 1088 16-27 17-1123 16 15 17 611 17 60 16-325 17 952 16-1355 17 970 17-155 16-472 17 389 16-905 17 618 16 100 17-927 17 1057 16 200 17-772 16 862 17-242 16-425 17 80 17-293 16 372 17-196 16 827 17 387 17-1787 16 719 17-841 16 1386 17-183 16-416 17-1129 17 78 16 1305 17-817 16 128 17 211 16-824 17 820 17 363 16 1143 17-1057 16 777 17-1049 17 1077 16-250 17-1324 16 662 17 347 16-594 17 1137 17-1018 16 23 17-271 16 734 17 40 17 689 16-1706 17 556 16 862 17-253 16 490 17 172 17-559 16-175 17 114 16-1152 17 901 16-439 17 567 17-290 16 981 17-366 16 228 17-1293 17 422 16 461 17-923 16-662 17 828 16 428 17-357 17-61 16 725 17 183 16-2317 17 1550 17-236 16 386 17 710 16-695 17 224 16 102 17-1065 17 433 16 124 17 1305 16-995 17-113 16 335 17-56 17-506 16 605 17-276 16 875 17-323 17-152 16-347 17-1643 16-487 17 1997 16-874 17-24 17-236 16 113 17 678 16-133 17-311 16 1018 17-210 17-282 16-944 17 269 16 1105 17-439 17 145 16 134 17-78 16 166 17-511 16-107 17 247 17-178 16 746 17-563 16-183 17 364 16-165 17 492 17-367 16 431 17-1349 16 964 17-367 17 313 16-521 17 682 16-143 17 194 16-115 17-235 17-1318 16 123 17 1468 16-200 17-584 17-311 16 236 17 403 16 120 17-280 16 542 17-454 17-128 16 409 17 1990 16-1825 17 214 16-326 17 196 17-160 16 169 17-674 16 852 17-962 17 324 16 414 17-690 16-1072 17 1758 16 249 17-319 17-348 16 62 17-215 16 549 17-764 17 399 16-1255 17 1451 16 68 17-111 16 274 17-632 17 982 16-17 17-1494 16 816 17 197 16-769 17 916 17 812 16-427 17 265 16-1467 17 277 17 553 16-619 17-175 16 1182 17-565 16 475 17-820 17-438 16 64 17 389 16 347 17-802 16 855 17-1341 17 1143 16 190 17 816 16-1127 17 425 17-1 16 92 17-472 16 704 17 302 16-469 17-240 17 98 16 200 17-1607 16 1308 17 46 16-219 17-638 17 372 16 1777 17-1754 16 400 17 84 17 149 16 28 17-713 16 47 17 84 16 337 17-359 17-140 16 445 17 543 16-1297 17 2 17 1109 16-374 17-335 16-335 17 8 16 612 17-184 17-1008 16 811 17-189 16-195 17 313 16 656 17 387 17-565 16-74 17 132 16 817 17 23 17-607 16-1048 17 915 16 69 17 348 16-1359 17 43 17 1189 16-130 17 283 16-402 17-6 17-1019 16 1202 17 99 16-160 17-21 16-258 17 19 17-383 16 1198 17-480 16-182 17-1276 16 643 17 1020 17-408 16 401 17-533 16 558 17-714 17 243 16 563 17-238 16-1200 17 1353 16-235 17-527 17-343 16 764 17-452 16-414 17 693 16-530 17 1042 17-907 16 10 17 806 16 533 17-1424 17 656 16-991 17 167 16 219 17 103 16-108 17 285 17 663 16-482 17-192 16 155 17 512 16 133 17-192 17-287 16 274 17-1030 16 616 17-219 17 601 16-463 17-155 16 42 17 645 16-706 17 402 17-514 16 442 17 25 16-584 17 291 17 69 16 568 17-633 16-131 17-296 16 21 17 56 17-101 16 359 17 522 16 48 17-83 16 81 17 234 17-713 16 1158 17-1147 16 315 17-376 17 282 16 122 17 972 16-265 17-509 16-161 17-354 17 211 16-585 17-484 16 1047 17 729 17-233 16-736 17-523 16 598 17-238 16 373 17 1276 17-325 16-496 17-1160 16 1038 17-67 16-161 17 66 17-146 16-1036 17 1428 16-720 17 16 17 217 16 343 17 85 16-1136 17-274 16 989 17 338 17-273 16-263 17-132 16 502 17 591 16 275 17-410 17-1101 16 695 17-282 16 311 17-167 17-625 16 26 17 420 16-76 17 663 16 455 17-729 17 345 16-303 17 63 16-140 17-1023 16 312 17-782 17 860 16 360 17 148 16-1344 17 517 17-368 16-9 17 574 16 501 17 490 16-231 17-742 17-112 16 756 17 281 16-383 17-335 17-462 16-866 17 1885 16 464 17 67 16-770 17-505 17 236 16 141 17 454 16-48 17 64 16-480 17 616 17-504 16-26 17 584 16-200 17-931 17-252 16 274 17 86 16 1424 17-264 16-1227 17 424 17-433 16-403 17 1966 16-779 17-629 17 431 16-661 17 545 16 104 17-134 16-392 17 555 17-275 16 114 17 171 16 414 17-121 16-213 17 766 17 70 16-612 17-338 16-421 17 727 17 33 16-525 17-89 16 432 17-1088 16 1426 17-249 17-260 16 407 17-629 16-631 17 297 16 376 17-237 17 493 16-274 17-259 16-233 17 1466 17-139 16-661 17-341 16 256 17 367 16-87 17 405 17 187 16-771 17 360 16 301 17-1538 16 818 17 510 17-302 16-1898 17 1343 16-270 17-542 17 411 16 954 17 16 16-744 17-465 16 2088 17-1307 17 326 16-231 17-401 16 656 17-317 17-1301 16-27 17 1842 16-493 17 999 16 127 17-1021 17 599 16-75 17-379 16-373 17 905 16 84 17-406 17 553 16-935 17-364 16-336 17 1042 17-410 16 906 17-453 16 315 17-532 16 159 17 731 17-1193 16 1147 17-1386 16-219 17 4 17 414 16-130 17 689 16 300 17 919 16-1266 17 596 17-227 16 80 17-858 16 52 17 1193 16-878 17-443 17 588 16 457 17-656 16 538 17-412 17-341 16-606 17 1654 16-397 17 466 16-588 17 363 17 299 16-368 17-711 16 525 17-77 16-90 17-1462 17 214 16 1619 17-262 16-576 17-447 17-444 16 84 17 1058 16 117 17-1038 16 1053 17 526 17-544 16 211 17-46 16-75 17-497 16-676 17 963 17 124 16 104 17 102 16-590 17 543 17-1189 16 1250 17-788 16-980 17 491 16 816 17 456 17 394 16-374 17-265 16 245 17-869 17 564 16-55 17 190 16-340 17 7 16 804 17 210 17-993 16-241 17 334 16 925 17-948 16-409 17-930 17 1059 16 256 17-700 16 807 17-512 17 482 16-287 17-373 16 831 17-325 16-277 17 601 17-496 16-167 17 525 16 445 17-734 17 282 16-162 17-1069 16 1019 17-707 16 16 17 335 17 906 16-226 17-229 16-32 17 117 16 717 17-122 17 134 16 446 17-304 16-397 17-623 17 237 16 294 17-263 16 944 17-834 16 202 17-327 17-113 16 167 17-1129 16 929 17-95 16-320 17 182 17-1286 16 1369 17 207 16 65 17-567 17 742 16 6 17 7 16-573 17-103 16 96 17-209 17-108 16 570 17-5 16-293 17-848 16 1227 17-151 17 357 16-230 17-245 16 193 17-1373 17 698 16 1651 17-525 16 117 17-1832 16 1186 17-154 17 462 16-116 17 82 16 47 17 300 17-1074 16 109 17 208 16-429 17 71 16 486" fill="none" stroke="#0f718e" stroke-width="44.64" stroke-linecap="square" stroke-linejoin="round" stroke-opacity="0.35"/><path transform="scale(.1)" d="M19493 21083l17-82 16 818 17 325 16-527 17 312 16-959 17-94 17 735 16-523 17 401 16-800 17 807 17 454 16-1593 17 1640 16-555 17 489 16-697 17 118 17-560 16-138 17 1251 16-75 17 320 17 678 16-726 17-69 16 270 17-1453 16-448 17 856 17-306 16-861 17 902 16 500 17-289 16 66 17-565 17 375 16 705 17-12 16-205 17 383 17-228 16 905 17-1181 16-541 17-29 16 1174 17-70 17-613 16 1536 17-1159 16-662 17-227 16 930 17-946 17-574 16 601 17-214 16-195 17-2 17 1272 16-1009 17 591 16 222 17 412 16-162 17 129 17-322 16-659 17 589 16 518 17-881 16-1320 17 1372 17 824 16-262 17-693 16 95 17 510 17-91 16-100 17-731 16 958 17-907 16 673 17-566 17-60 16 579 17-99 16 96 17-167 17 8 16-360 17 1116 16-167 17-1321 16 1034 17-115 17 919 16-2023 17 47 16-16 17 193 16-407 17 281 17 1359 16 177 17 360 16-232 17-977 17 319 16-107 17-16 16-767 17 228 16-890 17 314 17 1152 16 478 17-97 16-467 17 333 17 435 16-973 17 234 16-1113 17 954 16-873 17 1054 17 1002 16-410 17-1769 16 184 17 222 16 427 17 622 17-1239 16 640 17 89 16 401 17-106 17-172 16-310 17-151 16 294 17-131 16 1031 17-489 17 273 16-149 17-1187 16 819 17 455 16-594 17 740 17 402 16-892 17-91 16 454 17 249 17 173 16-237 17-2001 16 1425 17 496 16-426 17-764 17 1687 16-189 17-868 16 360 17-447 16 373 17-143 17 461 16-185 17-335 16 40 17-1095 17 670 16 707 17 299 16 310 17-708 16-410 17-244 17 1462 16 247 17-1401 16-1768 17 771 17 295 16 839 17 244 16-423 17 545 16 502 17-771 17 534 16 126 17 809 16-1424 17-397 16 128 17 574 17 73 16-211 17-308 16 220 17 146 17-47 16 308 17 143 16-643 17 245 16-313 17-420 17 695 16-419 17-138 16 177 17-1092 17 983 16-949 17 146 16 636 17-297 16 449 17-936 17 424 16-740 17 1389 16 346 17-1953 16 1076 17 592 17 518 16-631 17-504 16-298 17 484 17 700 16-440 17 240 16 782 17-1004 16 492 17 56 17-676 16 222 17 367 16 529 17-1689 16 1407 17-691 17 45 16 593 17-288 16-140 17-365 17 6 16-641 17 204 16 988 17-986 16 311 17 1127 17-1399 16 848 17-16 16-345 17-370 16 203 17-840 17 1338 16 67 17-71 16-1239 17-289 17 1646 16-828 17 424 16 1527 17-1515 16 1023 17 482 17-1437 16-380 17 435 16 555 17-435 17 333 16-213 17 79 16-175 17 491 16-79 17-722 17 925 16-855 17-38 16 607 17 232 16-8 17-283 17 110 16-876 17 720 16-460 17 355 17-510 16-234 17 881 16-31 17-362 16-541 17 286 17-232 16 459 17 124 16 555 17 617 17-420 16-963 17-192 16 420 17-692 16 89 17 1187 17-968 16 155 17 251 16 234 17-456 16-362 17 625 17-354 16 868 17-271 16-772 17-341 17 725 16-554 17 516 16-46 17 356 16-894 17 36 17 467 16 305 17-877 16-887 17 1573 16-177 17 301 17-320 16 297 17-1231 16 961 17-517 17-221 16 781 17-792 16 572 17 439 16 352 17-590 17-226 16 808 17-335 16 632 17 520 16-1737 17 986 17 319 16-779 17 337 16-134 17 5 17 8 16-672 17-181 16 72 17-600 16 1239 17-184 17-945 16 721 17-939 16 553 17 1173 17-141 16-524 17-90 16-47 17-16 16 799 17-419 17-336 16-1 17-618 16 877 17-1200 16 58 17 256 17 817 16-253 17-666 16 93 17-749 17 2086 16 2 17 977 16-1017 17-594 16 129 17-627 17-260 16 1471 17-422 16-160 17 1041 17-1241 16 409 17 892 16-657 17-545 16 149 17-211 17-75 16 677 17-675 16 934 17-36 16 348 17-1251 17-1652 16 1729 17-584 16 596 17 482 17 12 16 118 17-134 16 246 17-112 16-76 17-946 17-37 16-479 17-1003 16 2784 17 1044 16-1570 17-386 17 529 16-180 17 748 16-562 17 230 17-2061 16 1100 17-95 16-992 17 925 16 562 17-70 17 531 16-1076 17 1308 16 120 17-1257 16 917 17 416 17-409 16-167 17-479 16 28 17-155 17-528 16 1185 17-643 16-967 17 587 16 124 17 355 17 215 16 449 17 321 16-1111 17 116 17-218 16 644 17-362 16-312 17 257 16-227 17 1138 17-622 16 911 17-481 16-582 17-612 16-330 17 786 17 368 16-330 17-547 16 59 17 294 17 392 16 452 17-30 16-466 17-308 16 1491 17-1016 17-19 16-508 17 325 16-558 17 669 17 318 16-674 17 338 16 257 17 1081 16-427 17-2034 17 669 16 228 17 599 16-325 17 23 16-470 17-117 17 809 16 299 17-124 16-863 17 583 17-361 16-528 17 1156 16 491 17-145 16-245 17-1252 17 894 16-356 17-253 16-138 17 1032 16-415 17 434 17 317 16 166 17-423 16-252 17-1368 17-193 16 1966 17-330 16-639 17-440 16-849 17 1030 17-116 16 144 17-253 16 953 17 568 16-1507 17 1147 17-410 16 422 17-440 16 243 17-843 17 790 16 135 17-140 16 326 17 26 16-570 17-349 17-800 16 1297 17-818 16 151 17-120 17-49 16 180 17 23 16-723 17 868 16 144 17 169 17-450 16-739 17 1810 16-1203 17 11 16-983 17 1114 17 970 16-998 17 410 16-219 17-238 17-739 16 1278 17 1286 16-1541 17 416 16 34 17-153 17 446 16-526 17 15 16-179 17 1334 17-133 16-2299 17 1743 16-1078 17-183 16 866 17-64 17 103 16 1021 17 449 16-1592 17 282 16 269 17 125 17-807 16 29 17 53 16 69 17 59 17 560 16-567 17-712 16 837 17-177 16 90 17-29 17-383 16 394 17 692 16-999 17 890 16-66 17-257 17-445 16 279 17-357 16-222 17 536 17 380 16-166 17 195 16-251 17-1518 16 962 17 745 17-945 16-26 17-261 16 1286 17-219 16 7 17-632 17 1024 16-1079 17 725 16-1277 17 840 17-476 16 90 17 708 16 474 17-493 16-165 17-121 17 612 16 128 17 454 16-772 17-881 17 244 16 740 17-113 16-484 17-754 16 1333 17-661 17 232 16 276 17-716 16 140 17 561 16 208 17-1637 17 1282 16 166 17-1787 16 1207 17-46 17-126 16 75 17 319 16-1252 17 1475 16 1016 17-2210 17 1091 16 546 17-1078 16-305 17 216 17 260 16 626 17-721 16 50 17 823 16-137 17-52 17 94 16 783 17 248 16-944 17-508 16 262 17-740 17 1346 16-449 17-639 16 324 17 637 17-943 16 72 17 250 16-959 17 1497 16-46 17-205 17-702 16 687 17-249 16 905 17-686 16 225 17 405 17-606 16 196 17-107 16-125 17-330 17 109 16 476 17-231 16 603 17-103 16-250 17-627 17-790 16-987 17 1476 16 1288 17-358 16-1222 17-15 17 264 16 261 17-217 16 1047 17 238 17-731 16 251 17-41 16-381 17 500 16-608 17 178 17-184 16-259 17 335 16-104 17 421 17 455 16-152 17-603 16 243 17-362 16-1457 17 1321 17-35 16 322 17-447 16 287 17 518 16-289 17-126 17 73 16-13 17 44 16-266 17 472 17-565 16 55 17 655 16 276 17-685 16-53 17-353 17 324 16 96 17 809 16 43 17-822 17 141 16-32 17-396 16 725 17 129 16 286 17-705 17-58 16 897 17-2054 16 365 17-129 16 453 17-393 17 1035 16 490 17-357 16 77 17-497 17-479 16 568 17-69 16 194 17-144 16-2294 17 1699 17-179 16-1102 17 1207 16 187 17 4 16 460 17-266 17 842 16 208 17-627 16-174 17 13 17-408 16-87 17-122 16 361 17 400 16-182 17 865 17-315 16-213 17 447 16-123 17-87 16 436 17-902 17 145 16-810 17 795 16-851 17 776 17-48 16 660 17 527 16-1381 17 291 16 240 17-522 17 886 16-834 17-89 16-37 17 654 17 403 16-853 17-564 16 12 17-159 16 359 17 499 17-804 16 88 17-427 16 997 17-153 16-510 17 906 17-595 16 245 17 719 16 562 17-1212 17 672 16-1004 17 120 16 333 17-539 16-47 17 360 17 493 16 616 17-849 16 306 17 378 17-663 16 409 17-1394 16 1872 17-1250 16 462 17 1096 17-1531 16 660 17-1932 16 1859 17-40 16-883 17 739 17-1862 16 920 17 1201 16-419 17 501 17-1101 16-387 17 238 16 1035 17-279 16-925 17 923 17 560 16 68 17-1125 16-457 17 1354 16 219 17 250 17-1102 16 488 17-641 16-203 17 422 17-988 16 1069 17-590 16 698 17 188 16 152 17-1052 17-87 16 47 17 114 16 438 17-675 16-10 17 389 17-1740 16 1385 17 1053 16 77 17-853 17-580 16-444 17 292 16 1133 17-49 16-862 17 728 17-566 16-487 17 184 16-238 17 750 17-158 16 1846 17-1413 16-556 17 662 16-549" fill="none" stroke="#0f718e" stroke-width="44.64" stroke-linecap="butt" stroke-linejoin="round" stroke-dasharray="165.18,71.43" stroke-opacity="0.35"/><path transform="scale(.1)" d="M19493 20452l17 415 16 80 17 585 16-102 17 113 16-58 17 401 17-972 16-22 17 722 16-227 17-257 17-90 16 467 17-83 16-286 17 305 16 360 17-65 17-722 16 222 17-80 16-251 17 324 17-117 16 641 17 553 16-1278 17 925 16 116 17-521 17-583 16 443 17 70 16-53 17 465 16-1029 17-682 17 732 16 357 17-198 16 77 17 461 17-156 16-236 17-282 16 1203 17-223 16-371 17 212 17-792 16 89 17 909 16-995 17 870 16-429 17-156 17-275 16 558 17 189 16-437 17 489 17 90 16-681 17 1248 16-1396 17 792 16-848 17 408 17 247 16 656 17-1109 16 1051 17-103 16-164 17 932 17-1471 16-661 17 261 16 573 17-1129 17 545 16 123 17-5 16 428 17-204 16 1039 17-782 17 440 16-1125 17 243 16-157 17 555 17-627 16 268 17 184 16-277 17 604 16-1318 17 1360 17-333 16-445 17-591 16 1343 17 605 16-382 17-1010 17 483 16-119 17 162 16-117 17 186 17-573 16 678 17-1491 16 1444 17-169 16-170 17 184 17 316 16-1215 17 1180 16 1336 17-1933 17 339 16-565 17-383 16-157 17 918 16 761 17-483 17-734 16-540 17 1871 16-1004 17-1012 16-290 17-29 17 1295 16 708 17-380 16-296 17 294 17 152 16-537 17 219 16-100 17-824 16 329 17 985 17-1569 16 688 17-352 16 898 17 658 16-1112 17 720 17-50 16 86 17-633 16-35 17 571 17 344 16 62 17-1947 16 438 17 978 16-114 17 110 17-24 16-274 17 278 16 684 17-598 16-1292 17 197 17 143 16 363 17 200 16 126 17-408 17 81 16 421 17 188 16-9 17-84 16-365 17 666 17-902 16-465 17 573 16-861 17 1408 17 1191 16-595 17-452 16 675 17-1388 16 937 17 1063 17-2065 16 941 17-290 16-366 17 1031 16-404 17 964 17-851 16-427 17 278 16-298 17 606 17 420 16-982 17-381 16 139 17 609 16 178 17-502 17-110 16 516 17 472 16-937 17-828 17-328 16 856 17 710 16-239 17 1067 16-820 17 165 17-36 16 222 17-1146 16 1266 17-611 16 353 17-10 17-750 16-6 17 455 16-708 17 376 17-142 16 33 17 327 16-198 17 28 16-121 17 400 17-871 16-59 17 588 16-578 17 578 16 403 17-377 17 46 16 314 17-353 16-6 17 521 17-105 16-1438 17 762 16 24 17 773 16-1055 17 548 17 390 16 16 17-816 16 556 17 637 16-1187 17 398 17 1123 16-1144 17 57 16 230 17 448 17-922 16-309 17 597 16-371 17-560 16-78 17 342 17 988 16-446 17 287 16-707 17-444 17 618 16-584 17-637 16 899 17 183 16 354 17-631 17 696 16 678 17-1420 16 781 17-868 16 250 17 111 17-732 16 903 17-681 16-477 17 1451 17-1520 16 659 17-269 16 1444 17 198 16-711 17 1022 17-243 16-256 17-1987 16 1102 17 760 17 765 16-413 17-189 16 628 17-1280 16-359 17 676 17-75 16-1548 17 1724 16-1225 17 934 16 517 17 761 17-1359 16 645 17-359 16-106 17 553 17 42 16 497 17-2002 16 1023 17-436 16 104 17-73 17-913 16 1529 17 186 16 241 17-1501 16 1099 17-122 17-1051 16 979 17-209 16 131 17 894 17-1082 16-38 17 712 16-385 17 377 16-947 17-133 17 808 16 1235 17-1228 16-840 17 175 16-270 17 357 17 565 16 96 17-360 16-722 17 188 17 196 16-499 17 493 16-132 17-581 16 1063 17 339 17-793 16 526 17 589 16-457 17-1106 17 1190 16 259 17-596 16-174 17 313 16-157 17 532 17-1513 16 530 17 973 16-1487 17-43 16 679 17-164 17-218 16 731 17-20 16-522 17 823 17 254 16 142 17-537 16 362 17-361 16-100 17-525 17 1577 16-1542 17-716 16 405 17 1618 17-827 16-106 17 1372 16-403 17-755 16 1435 17-1608 17 186 16-1068 17 422 16 789 17-557 16 793 17 191 17-1304 16 94 17 428 16 263 17-921 17 985 16-382 17-153 16-1199 17 1225 16-1070 17-20 17 1362 16 161 17-172 16 144 17 19 16-420 17 1211 17 193 16-1383 17-988 16 1466 17 14 17-35 16 425 17-1137 16-935 17 1224 16-55 17 307 17-195 16 1110 17-1620 16 303 17-6 16 171 17-1032 17 1389 16 460 17 77 16-946 17-774 17-253 16 64 17 1985 16-1359 17-330 16 430 17 768 17 421 16-821 17 48 16 792 17-766 17-598 16 1138 17-182 16 370 17-746 16 283 17-143 17 127 16-560 17-281 16-281 17 738 16 86 17 137 17 15 16-92 17 729 16 161 17-747 17 1169 16-414 17-940 16-42 17-310 16 552 17-256 17 538 16-636 17-125 16 543 17 606 17 32 16-725 17-248 16 170 17 247 16 75 17 228 17 597 16-1400 17-216 16-196 17 976 16-1232 17 541 17-103 16 774 17 196 16-573 17-36 17 226 16-515 17 996 16-204 17-890 16 69 17-380 17 733 16-361 17-217 16 816 17-218 16-519 17-181 17-11 16 1801 17-915 16-599 17 1099 17-567 16-404 17-412 16 568 17 103 16-397 17 449 17-558 16 122 17 64 16 506 17-183 16 100 17-711 17 872 16 478 17-67 16-1232 17 79 17-22 16 618 17-532 16 92 17 1007 16-238 17-492 17-231 16 753 17 493 16-841 17-851 17 712 16-281 17-574 16 1061 17 7 16-521 17-39 17 412 16-95 17-8 16 983 17-294 16-1377 17 372 17 626 16 68 17-667 16-15 17 296 17-292 16 379 17-584 16-87 17 559 16-814 17 1142 17-685 16-614 17 1002 16 544 17 420 17-36 16-328 17 152 16-125 17-1249 16 935 17-299 17-498 16 501 17 331 16-679 17-465 16 993 17 377 17-1546 16 630 17-757 16 1094 17-32 17 598 16 153 17-321 16 328 17-1088 16-814 17 884 17 303 16-271 17 767 16 75 17-902 16 881 17-1211 17 296 16 1184 17-1465 16 288 17 1024 17-54 16-39 17 1304 16-2185 17 408 16-771 17 768 17 76 16 102 17-212 16-537 17 733 16 22 17 892 17 380 16-1738 17 319 16 934 17-980 17-239 16 125 17 427 16 138 17-154 16-1796 17 1356 17 540 16-767 17-575 16 435 17 593 17 21 16 233 17 199 16-711 17-508 16 594 17-404 17 4 16 386 17-688 16-61 17 1112 16-747 17 114 17-127 16 1189 17 189 16-225 17-961 17-345 16 1248 17-941 16-167 17 397 16-1394 17 1694 17 324 16-153 17-486 16 1021 17 26 17-813 16 758 17-410 16-965 17 1128 16 186 17-842 17-774 16-179 17 1201 16-960 17 50 16 803 17-57 17-209 16 592 17-657 16 249 17-418 17-49 16 341 17-16 16-744 17 352 16 464 17-375 17 688 16-538 17-592 16-370 17 874 16 12 17-245 17 1694 16 310 17-757 16-335 17-1144 17-528 16 820 17 300 16 393 17-245 16 566 17-288 17-379 16 649 17-204 16 100 17-272 16-272 17-360 17-22 16 770 17-274 16-176 17-75 17-82 16 495 17-130 16 960 17-1000 16-240 17 138 17-490 16 678 17 19 16-751 17-218 17 260 16 577 17-719 16 88 17 1248 16 897 17-1076 17-1449 16 295 17 1959 16-391 17-363 16 432 17-1510 17 357 16 161 17-396 16 223 17 811 17-137 16-329 17-209 16 499 17-971 16-783 17 937 17 290 16 69 17-273 16 91 17 1691 17-2272 16 411 17 2056 16-138 17 63 16-2233 17 964 17-47 16-426 17 822 16-459 17 354 16-361 17-46 17-665 16 1144 17-935 16-24 17-207 17 646 16 302 17-226 16 170 17-540 16 853 17-860 17 39 16 988 17-962 16-475 17 472 16 785 17 390 17-435 16-468 17-25 16 54 17 691 17-214 16 69 17 150 16-172 17-1852 16 1932 17-518 17-133 16 702 17-1418 16 709 17 373 16-18 17-322 17 55 16 776 17-1107 16 161 17-745 17-188 16 1116 17 492 16-1012 17 577 16 345 17 100 17-103 16 388 17-144 16-791 17-735 17 1066 16-629 17-20 16 394 17-942 16-308 17 482 17 1277 16 193 17-1298 16 422 17-175 16-957 17 248 17 568 16-451 17 36 16 569 17 925 17-1448 16 1152 17-191 16-569 17-325 16-228 17 1047 17 19 16-65 17 905 16-139 17 96 17-225 16-531 17 160 16-15 17 375 16-95 17 99 17-498 16-646 17 952 16 80 17-290 16 287 17-580 17-850 16 603 17-384 16-658 17 80 17 1575 16-359 17-141 16 222 17-157 16 257 17 721 17 318 16 363 17-1381 16 517 17-993 16 520 17-327 17-1178 16 1625 17-519 16 227 17-23 17 6 16-440 17 227 16-304 17 1050 16-1082 17 406 17 742 16-553 17-680 16 173 17 131 16-125 17-243 17 810 16-476 17 581 16-851 17 793 17-949 16 606 17 254 16 316 17 583 16-56 17-1437 17 767 16-316 17 257 16 463 17 589 17-968 16-505 17 788 16 689 17-2257 16 1060" fill="none" stroke="#0f718e" stroke-width="44.64" stroke-linecap="butt" stroke-linejoin="round" stroke-dasharray="44.64,73.66" stroke-opacity="0.35"/><path transform="scale(.1)" d="M19493 21978l17-165 16-462 17-506 16-889 17 791 16 969 17-414 17-784 16 853 17-572 16 1122 17-736 17-190 16-711 17 1002 16-134 17-995 16 107 17 971 17 409 16-123 17-56 16 187 17-830 17 227 16-947 17 1209 16-634 17-5 16 243 17 288 17-767 16 1481 17 315 16-865 17-1959 16 609 17 1483 17-1295 16 308 17 1030 16 704 17-698 17 20 16-690 17 931 16-673 17-555 16 826 17 562 17-1231 16 797 17-646 16-959 17 856 16-170 17 165 17 279 16-439 17-696 16 687 17-149 17 710 16-9 17-286 16 125 17 29 16 638 17-647 17-158 16-561 17 1035 16 247 17-510 16 91 17-7 17 14 16 653 17-333 16 346 17-595 17 457 16-794 17 812 16-836 17 379 16-66 17 566 17-58 16 997 17-1152 16-618 17 400 17 1054 16-333 17-1307 16-98 17 639 16 896 17-1365 17-104 16 1162 17-541 16-329 17-402 16 573 17 104 17-997 16 132 17 1508 16-304 17-571 17 442 16 394 17-115 16-65 17-136 16 169 17 876 17-1747 16 301 17-20 16 342 17 1109 17-773 16-304 17-348 16-677 17 695 16-1004 17 1209 17-359 16 1537 17-1911 16 428 17 627 16-146 17-158 17-1552 16 928 17 586 16-826 17 724 17 165 16-608 17 489 16-39 17-347 16 697 17-615 17-17 16 417 17 45 16-138 17 621 16-97 17-598 17-389 16 804 17-530 16 210 17 443 17-548 16 521 17-1674 16 1004 17 84 16 857 17-313 17-421 16-1013 17 909 16-720 17 1527 16-341 17-481 17 61 16 114 17-435 16 1369 17-157 17-1845 16-262 17 458 16 1528 17-948 16 1078 17-1003 17 65 16 606 17-1411 16 412 17 16 17 280 16 732 17 157 16-640 17-430 16-529 17 19 17 704 16 1080 17-794 16 174 17 66 16-582 17-65 17-562 16 569 17-247 16-744 17-128 17 1303 16 178 17 686 16-395 17 922 16 231 17-1183 17-685 16-430 17 729 16 46 17-474 17-797 16 1618 17 615 16-410 17 897 16-895 17-486 17 179 16 180 17 39 16-324 17-307 16 396 17-61 17-194 16-555 17 622 16 22 17-1515 17 1410 16 555 17-525 16-931 17 921 16-504 17 403 17-179 16 1348 17-1103 16-1083 17 331 16 848 17-734 17 851 16 131 17-441 16-204 17 309 17-951 16 492 17 1235 16-1551 17 108 16 854 17 778 17-920 16-580 17-534 16 220 17 1117 16 432 17-741 17-694 16 640 17-211 16-962 17 1387 17 9 16-1527 17 747 16 326 17 395 16 621 17 416 17-133 16-857 17-539 16 750 17-320 17-43 16 592 17-119 16-783 17 350 16 501 17-672 17 346 16 215 17-187 16-273 17 712 16-1246 17 521 17 509 16-429 17-1251 16 1238 17-280 17-26 16 723 17 19 16-205 17 228 16 68 17-658 17-493 16 1433 17-351 16-1410 17 1026 17 55 16 193 17-782 16-315 17 273 16-193 17-223 17 425 16 441 17 638 16 290 17 230 16-954 17 182 17-394 16-110 17-1337 16 1249 17 635 17-447 16 259 17-180 16 438 17-1152 16 306 17 162 17 77 16 404 17 554 16 23 17-306 16-952 17-282 17 1405 16-1146 17-920 16 1259 17-96 17-157 16-77 17 824 16-82 17-295 16 310 17 222 17-495 16-625 17 1982 16-558 17-452 16-452 17 420 17 583 16-997 17-8 16 84 17-90 17 253 16-1040 17 484 16 1102 17-903 16 841 17-379 17-144 16 842 17 1 16-1168 17 264 17-928 16 1734 17-1035 16 311 17-470 16 270 17 679 17 267 16-1212 17 1250 16 250 17-1405 16-614 17 763 17 980 16-1492 17 1281 16-840 17-690 17 1513 16 298 17-159 16-183 17-1327 16 802 17-347 17-976 16 1859 17 409 16-220 17-163 17-651 16 616 17-601 16-292 17 533 16-100 17 62 17 687 16-1148 17-691 16 61 17 969 16 353 17-318 17 525 16-288 17 183 16-363 17 599 17-945 16 299 17 517 16-1034 17 429 16 283 17 210 17-648 16 792 17-929 16-537 17 80 16 588 17 712 17-715 16 254 17 597 16-1242 17 718 17-119 16-98 17-1135 16 933 17 1060 16-203 17-44 17 749 16-1504 17-1383 16 539 17 1176 16-512 17 984 17-1170 16 839 17 242 16-724 17-80 17-185 16-131 17-346 16 702 17 798 16 481 17-892 17-1374 16 229 17 613 16-263 17-290 17 1153 16-817 17 67 16 710 17 204 16 100 17-663 17-1481 16 1934 17 60 16 632 17-407 16 476 17-1170 17 93 16 380 17-121 16-759 17 113 17 863 16-186 17 1031 16-639 17 515 16-322 17-942 17 409 16 302 17-362 16-28 17-14 17 707 16-1303 17-53 16 217 17 401 16 725 17-1623 17 362 16 1513 17-993 16 643 17-699 16 1752 17-1055 17 118 16-956 17-390 16 600 17-841 17 167 16-439 17 1442 16-25 17 722 16-535 17-731 17-157 16-442 17-144 16 947 17-297 16-94 17-750 17 934 16 656 17-199 16 242 17-458 17-258 16-1464 17 1231 16 57 17 1314 16-1145 17 243 17 272 16 647 17-948 16 965 17-703 16-432 17 479 17-1360 16 537 17 1081 16-1437 17-942 17 2092 16-245 17-327 16 105 17-571 16 327 17 46 17-302 16 1189 17-350 16 1174 17-454 17-58 16-351 17-770 16 461 17-429 16 444 17 1069 17-342 16-225 17-307 16-738 17 200 16-108 17 966 17-1012 16-856 17 896 16-339 17 387 17 199 16 18 17-383 16 890 17-599 16 347 17-893 17 751 16-43 17 478 16-698 17-727 17 1980 16-1027 17 36 16-162 17 244 16 297 17-1103 17 369 16 737 17 59 16 356 17-1235 16-109 17 1325 17-141 16-498 17-299 16 93 17 413 17-415 16-43 17 383 16-604 17 658 16 525 17-161 17-1648 16 932 17 45 16 446 17-579 16 710 17 218 17-179 16 598 17-160 16-1460 17-74 17-57 16 530 17-278 16 950 17-701 16-171 17 656 17-50 16 37 17-1221 16 944 17 422 16-1230 17-74 17 976 16-737 17-112 16-296 17 879 17-317 16 322 17-1199 16 1564 17 217 16-442 17 181 17-142 16-845 17 326 16-45 17-981 17 1509 16-1529 17 1520 16 87 17-625 16-532 17 510 17-1057 16 2663 17-1319 16-637 17-808 16 290 17 286 17-306 16 1204 17 442 16-407 17 57 17 985 16-772 17-597 16-477 17-110 16 652 17 158 17 458 16-406 17 1268 16-1454 17 323 17-293 16-156 17-316 16 218 17-1015 16 1533 17 385 17-243 16-201 17 74 16-166 17 530 16-2055 17 484 17 1180 16-4 17-147 16 570 17-785 17 1105 16-1205 17 235 16 206 17-860 16 1168 17-937 17 453 16-515 17 237 16-14 17 84 16-593 17 1106 17-52 16-678 17 30 16 253 17 466 17-37 16 696 17-749 16-706 17 396 16-169 17 106 17-147 16-262 17 1166 16 89 17-850 16 810 17-987 17 793 16-676 17-286 16 742 17-87 17 1040 16-1430 17 544 16 571 17-1371 16 676 17-599 17 439 16 25 17-35 16 1362 17-787 17-855 16 1208 17-690 16-166 17 777 16 407 17-1155 17 17 16-770 17 617 16 59 17-207 16-427 17 91 17-725 16 388 17-159 16 448 17 624 17-55 16-593 17 1646 16-1638 17 1031 16-345 17 1029 17-1030 16-520 17 306 16 488 17-237 17 190 16-75 17-512 16 39 17-702 16 593 17 167 17 548 16-141 17-394 16 1047 17-1267 16 451 17-734 17 152 16-393 17 1167 16-646 17 225 17 1300 16-21 17-976 16 300 17-262 16 1006 17-1523 17-39 16-306 17 797 16-58 17-62 16-459 17 125 17 736 16-2146 17 544 16-301 17 943 17 175 16 789 17 406 16-545 17 457 16-1387 17 6 17 388 16-576 17 663 16 1120 17-1249 16-713 17 768 17 427 16 493 17-1618 16 1266 17-1021 17 1338 16 121 17-290 16-721 17-476 16 222 17 1070 17 463 16-1028 17-623 16 659 17 574 17-550 16 983 17 64 16-180 17 382 16-297 17-884 17-529 16 183 17 496 16-327 17 584 16-382 17-414 17-569 16 496 17 712 16-653 17 113 17-416 16 635 17 657 16-242 17-334 16-75 17 1011 17-1484 16 515 17 238 16 405 17-52 17-996 16-1259 17 1464 16-701 17 1007 16-445 17 266 17-1106 16 1451 17 889 16-1055 17-733 16 394 17 623 17-318 16-481 17 824 16-617 17-133 17-896 16 603 17-525 16 1340 17-361 16-581 17 268 17-668 16-544 17 1529 16-640 17 961 16-226 17-491 17-279 16 278 17 55 16 899 17 7 17-778 16 73 17 124 16 894 17-1036 16 975 17-1570 17-725 16 1616 17 40 16-283 17 1002 16-1150 17 1408 17-785 16 51 17-676 16 769 17-118 17-1593 16 1008 17-143 16 1004 17-139 16 12 17-59 17-549 16 76 17-9 16-642 17 169 17 258 16 60 17-634 16 866 17 436 16-740" fill="none" stroke="#0f718e" stroke-width="44.64" stroke-linecap="butt" stroke-linejoin="round" stroke-dasharray="285.71,71.43,44.64,71.43" stroke-opacity="0.35"/></g>
<use href="#tr0" y="2400"/>
<g id="kd0"><path transform="scale(.1)" d="M2683 5077l40-1 40-1 40-1 41-1 40-2 40-2 40-2 40-2 40-3 40-2 40-3 41-3 40-4 40-3 40-3 40-4 40-3 40-4 41-5 40-5 40-5 40-6 40-6 40-6 40-7 40-7 41-7 40-8 40-7 40-8 40-8 40-8 40-9 41-9 40-9 40-9 40-10 40-11 40-11 40-11 40-12 41-12 40-13 40-13 40-13 40-14 40-15 40-15 41-17 40-17 40-18 40-18 40-19 40-20 40-20 40-21 41-22 40-22 40-24 40-25 40-25 40-27 40-27 40-27 41-27 40-27 40-26 40-25 40-26 40-25 40-26 41-26 40-27 40-28 40-28 40-29 40-30 40-30 40-30 41-31 40-32 40-32 40-32 40-33 40-33 40-33 41-34 40-34 40-34 40-34 40-35 40-35 40-36 40-35 41-37 40-36 40-37 40-37 40-38 40-38 40-39 41-39 40-39 40-40 40-40 40-41 40-41 40-42 40-44 41-44 40-45 40-46 40-47 40-47 40-46 40-47 41-46 40-46 40-44 40-44 40-44 40-44 40-44 40-43 41-44 40-42 40-42 40-40 40-39 40-36 40-35 41-32 40-31 40-29 40-28 40-28 40-27 40-25 40-25 41-22 40-21 40-19 40-17 40-14 40-13 40-11 41-10 40-10 40-9 40-8 40-7 40-6 40-4 40-3 41-2 40 0 40 1 40 2 40 3 40 4 40 4 40 6 41 6 40 6 40 8 40 7 40 8 40 8 40 9 41 9 40 10 40 10 40 12 40 13 40 15 40 17 40 18 41 19 40 19 40 21 40 21 40 22 40 22 40 23 41 22 40 22 40 23 40 23 40 23 40 23 40 25 40 25 41 25 40 26 40 26 40 27 40 27 40 28 40 28 41 29 40 28 40 30 40 29 40 30 40 30 40 30 40 31 41 32 40 32 40 33 40 33 40 34 40 34 40 35 41 35 40 36 40 36 40 35 40 36 40 37 40 36 40 36 41 36 40 36 40 35 40 36 40 35 40 35 40 35 41 35 40 35 40 35 40 36 40 36 40 36 40 36 40 36 41 36 40 35 40 36 40 35 40 34 40 34 40 33 41 33 40 32 40 31 40 30 40 29 40 29 40 27 40 28 41 26 40 27 40 26 40 25 40 25 40 25 40 24 41 24 40 24 40 23 40 23 40 23 40 22 40 22 40 22 41 22 40 21 40 21 40 21 40 21 40 21 40 21 40 21 41 21 40 20 40 20 40 19 40 19 40 18 40 17 41 17 40 15 40 14 40 13 40 13 40 12 40 12 40 12 41 11 40 10 40 11 40 9 40 10 40 8 40 9 41 7 40 7 40 7 40 5 40 6 40 5 40 5 40 4 41 5 40 5 40 4 40 4 40 4 40 4 40 4 41 4 40 3 40 3 40 3 40 3 40 2 40 2 40 2 41 1 40 1 40 0 40 1" fill="none" stroke="#0f718e" stroke-width="44.64" stroke-linecap="square" stroke-linejoin="round"/><path transform="scale(.1)" d="M2740 4900l40-1 40 0 40-1 40-1 41 0 40-1 40-1 40-1 40-1 40-1 40-2 40-1 41-1 40-1 40-2 40-1 40-2 40-1 40-2 40-1 41-2 40-1 40-2 40-1 40-2 40-2 40-1 40-2 41-2 40-2 40-2 40-2 40-2 40-3 40-3 40-3 41-3 40-4 40-4 40-6 40-7 40-10 40-11 40-14 41-16 40-17 40-19 40-19 40-20 40-20 40-20 40-20 41-20 40-21 40-22 40-22 40-24 40-24 40-24 40-25 41-26 40-26 40-26 40-27 40-27 40-27 40-27 40-29 41-28 40-29 40-30 40-30 40-30 40-31 40-31 40-31 41-31 40-32 40-31 40-32 40-32 40-32 40-32 40-32 41-32 40-33 40-32 40-33 40-33 40-34 40-34 40-34 41-35 40-35 40-36 40-37 40-38 40-38 40-39 40-40 41-41 40-42 40-42 40-43 40-44 40-44 40-45 40-46 41-46 40-46 40-47 40-47 40-47 40-47 40-49 40-49 41-50 40-51 40-51 40-53 40-52 40-52 40-52 40-51 41-50 40-50 40-49 40-49 40-49 40-48 40-48 40-45 41-42 40-37 40-33 40-30 40-27 40-25 40-23 40-20 41-16 40-12 40-7 40-2 40 2 40 6 40 8 40 10 41 12 40 14 40 17 40 21 40 24 40 27 40 31 40 33 41 35 40 37 40 37 40 37 40 37 40 36 40 35 40 33 40 33 41 33 40 33 40 35 40 34 40 34 40 34 40 32 40 31 41 28 40 26 40 22 40 19 40 16 40 13 40 11 40 10 41 10 40 8 40 8 40 8 40 6 40 6 40 6 40 5 41 5 40 4 40 4 40 3 40 2 40 3 40 2 40 3 41 4 40 4 40 7 40 9 40 13 40 16 40 18 40 20 41 22 40 22 40 25 40 26 40 28 40 30 40 31 40 33 41 34 40 35 40 37 40 36 40 38 40 38 40 38 40 38 41 39 40 38 40 37 40 37 40 37 40 36 40 36 40 36 41 36 40 37 40 37 40 37 40 38 40 37 40 38 40 37 41 38 40 37 40 37 40 36 40 36 40 36 40 35 40 34 41 34 40 33 40 32 40 32 40 33 40 32 40 32 40 32 41 32 40 32 40 31 40 31 40 31 40 30 40 29 40 28 41 27 40 26 40 25 40 24 40 22 40 21 40 19 40 18 41 17 40 16 40 16 40 15 40 15 40 14 40 14 40 14 41 13 40 12 40 12 40 12 40 11 40 10 40 10 40 10 41 9 40 9 40 8 40 8 40 7 40 7 40 7 40 6 41 7 40 6 40 5 40 6 40 5 40 6 40 5 40 4 41 5 40 5 40 4 40 4 40 4 40 4 40 4 40 4 41 4 40 3 40 3 40 4 40 3 40 3 40 3 40 3 41 2 40 3 40 2 40 2 40 2" fill="none" stroke="#0f718e" stroke-width="44.64" stroke-linecap="butt" stroke-linejoin="round" stroke-dasharray="165.18,71.43"/><path transform="scale(.1)" d="M1450 5111l40 2 40 2 40 2 41 1 40 2 40 2 40 1 40 1 40 1 41 1 40 0 40 1 40 0 40 0 40 0 40-1 41-1 40-1 40-1 40-1 40-2 40-1 40-2 41-2 40-2 40-2 40-3 40-2 40-3 41-3 40-3 40-4 40-5 40-6 40-7 40-7 41-8 40-9 40-8 40-9 40-8 40-8 41-8 40-8 40-7 40-6 40-6 40-5 40-4 41-5 40-4 40-3 40-4 40-3 40-4 41-3 40-4 40-3 40-4 40-4 40-4 40-5 41-5 40-5 40-5 40-6 40-6 40-6 40-7 41-7 40-7 40-8 40-8 40-8 40-9 41-10 40-10 40-10 40-12 40-12 40-14 40-16 41-18 40-20 40-21 40-23 40-24 40-26 41-26 40-26 40-27 40-27 40-28 40-28 40-29 41-31 40-31 40-32 40-33 40-34 40-33 41-34 40-34 40-33 40-34 40-33 40-34 40-33 41-34 40-33 40-34 40-34 40-34 40-35 40-34 41-35 40-34 40-35 40-35 40-35 40-35 41-34 40-35 40-35 40-35 40-34 40-35 40-35 41-35 40-35 40-36 40-36 40-36 40-37 41-38 40-38 40-39 40-40 40-41 40-42 40-43 41-44 40-45 40-46 40-46 40-47 40-47 40-47 41-47 40-47 40-48 40-47 40-48 40-49 41-49 40-49 40-49 40-49 40-48 40-49 40-47 41-47 40-47 40-47 40-48 40-49 40-49 41-48 40-48 40-46 40-44 40-41 40-37 40-34 41-30 40-27 40-24 40-23 40-21 40-18 41-14 40-11 40-6 40 0 40 3 40 7 40 10 41 13 40 15 40 16 40 17 40 18 40 17 40 18 41 16 40 16 40 15 40 15 40 14 40 14 41 14 40 14 40 14 40 14 40 14 40 14 40 14 41 13 40 13 40 13 40 12 40 13 40 13 41 14 40 15 40 17 40 19 40 22 40 25 40 28 41 32 40 33 40 36 40 37 40 38 40 39 40 39 41 41 40 42 40 44 40 46 40 48 40 51 41 56 40 60 40 65 40 69 40 74 40 75 40 76 41 74 40 73 40 69 40 66 40 65 40 64 41 64 40 63 40 62 40 60 40 59 40 55 40 53 41 48 40 45 40 41 40 36 40 33 40 30 41 29 40 26 40 25 40 24 40 23 40 21 40 21 41 20 40 19 40 19 40 19 40 18 40 19 40 18 41 19 40 19 40 20 40 21 40 21 40 22 41 24 40 25 40 26 40 27 40 28 40 29 40 30 41 30 40 30 40 30 40 30 40 29 40 29 41 28 40 27 40 26 40 25 40 22 40 21 40 19 41 17 40 15 40 14 40 13 40 12 40 11 41 12 40 10 40 10 40 10 40 8 40 9 40 8 41 7 40 7 40 6 40 6 40 5 40 6 40 5 41 4 40 5 40 4 40 4 40 4 40 3 41 3 40 2 40 2 40 1" fill="none" stroke="#0f718e" stroke-width="44.64" stroke-linecap="butt" stroke-linejoin="round" stroke-dasharray="44.64,73.66"/><path transform="scale(.1)" d="M3700 4815l40-2 40-4 41-4 40-6 40-6 40-8 40-8 41-9 40-9 40-11 40-10 40-11 41-12 40-11 40-13 40-12 40-14 41-16 40-16 40-18 40-19 40-21 41-21 40-22 40-23 40-24 40-24 41-24 40-26 40-26 40-28 40-29 41-30 40-31 40-32 40-33 40-32 41-33 40-33 40-34 40-33 40-34 41-34 40-35 40-35 40-35 40-36 41-37 40-36 40-36 40-36 40-36 40-36 41-35 40-34 40-34 40-33 40-33 41-31 40-32 40-31 40-30 40-31 41-30 40-29 40-30 40-29 40-30 41-29 40-30 40-29 40-30 40-30 41-30 40-31 40-31 40-32 40-32 41-32 40-32 40-32 40-32 40-32 41-31 40-30 40-30 40-28 40-27 41-27 40-25 40-23 40-23 40-21 41-21 40-19 40-18 40-17 40-16 41-14 40-14 40-13 40-12 40-13 41-13 40-13 40-14 40-15 40-16 41-17 40-17 40-19 40-19 40-19 41-20 40-20 40-19 40-20 40-19 41-18 40-19 40-19 40-20 40-20 41-20 40-21 40-20 40-19 40-19 41-18 40-17 40-16 40-14 40-12 41-10 40-8 40-7 40-6 40-6 41-5 40-5 40-5 40-3 40-3 41-2 40-1 40 1 40 2 40 3 41 5 40 6 40 8 40 8 40 10 41 10 40 12 40 12 40 13 40 13 41 14 40 14 40 15 40 16 40 18 40 20 41 23 40 24 40 27 40 28 40 29 41 31 40 32 40 33 40 35 40 36 41 39 40 42 40 44 40 48 40 50 41 51 40 53 40 54 40 53 40 54 41 53 40 52 40 51 40 51 40 51 41 52 40 52 40 54 40 53 40 54 41 54 40 54 40 53 40 52 40 52 41 50 40 49 40 47 40 45 40 43 41 40 40 38 40 35 40 33 40 30 41 29 40 28 40 26 40 25 40 25 41 23 40 23 40 22 40 22 40 20 41 21 40 20 40 19 40 20 40 19 41 19 40 19 40 19 40 19 40 19 41 19 40 19 40 19 40 19 40 20 41 19 40 19 40 18 40 19 40 18 41 18 40 18 40 18 40 17 40 18 41 16 40 17 40 16 40 15 40 15 41 15 40 14 40 14 40 13 40 12 41 12 40 12 40 11 40 11 40 11 41 10 40 10 40 10 40 9 40 10 40 9 41 8 40 9 40 9 40 8 40 8 41 8 40 8 40 7 40 8 40 7 41 8 40 7 40 7 40 8 40 7 41 7 40 7 40 8 40 7 40 6 41 7 40 7 40 6 40 6 40 5 41 6 40 4 40 5 40 4 40 4 41 3 40 3 40 2 40 3 40 2 41 3 40 2 40 2 40 2 40 2 41 2 40 2 40 2 40 1 40 2 41 1 40 1 40 1 40 1 40 1 41 0 40 1 40 0" fill="none" stroke="#0f718e" stroke-width="44.64" stroke-linecap="butt" stroke-linejoin="round" stroke-dasharray="285.71,71.43,44.64,71.43"/></g>
<g id="kd1"><path transform="scale(.1)" d="M2295 10979l40-1 40-1 41-1 40-1 40-3 40-2 41-3 40-3 40-4 40-4 40-4 41-4 40-5 40-5 40-5 41-7 40-9 40-10 40-13 41-13 40-16 40-16 40-17 40-17 41-18 40-17 40-17 40-17 41-16 40-15 40-14 40-15 40-14 41-14 40-14 40-14 40-14 41-14 40-15 40-15 40-16 40-16 41-17 40-17 40-18 40-19 41-19 40-20 40-20 40-21 41-21 40-22 40-23 40-23 40-23 41-25 40-24 40-26 40-27 41-28 40-29 40-30 40-31 40-31 41-31 40-32 40-31 40-32 41-31 40-32 40-32 40-32 40-32 41-32 40-33 40-32 40-33 41-33 40-32 40-32 40-32 41-32 40-32 40-30 40-31 40-30 41-30 40-31 40-30 40-32 41-32 40-33 40-34 40-35 40-37 41-39 40-42 40-43 40-46 41-48 40-50 40-50 40-52 40-51 41-51 40-51 40-50 40-49 41-47 40-45 40-44 40-43 41-43 40-42 40-41 40-41 40-41 41-40 40-39 40-39 40-39 41-38 40-37 40-37 40-38 40-37 41-38 40-38 40-38 40-38 41-36 40-35 40-34 40-33 40-30 41-28 40-25 40-23 40-22 41-21 40-20 40-19 40-18 41-16 40-14 40-12 40-8 40-5 41-3 40 0 40 1 40 2 41 3 40 3 40 5 40 6 40 8 41 10 40 12 40 13 40 14 41 15 40 16 40 17 40 18 40 20 41 21 40 24 40 27 40 28 41 30 40 31 40 33 40 34 41 36 40 39 40 41 40 44 40 47 41 49 40 50 40 52 40 52 41 52 40 52 40 53 40 53 40 54 41 55 40 55 40 56 40 56 41 56 40 54 40 53 40 52 41 50 40 48 40 45 40 45 40 43 41 42 40 41 40 41 40 40 41 39 40 38 40 38 40 38 40 38 41 37 40 38 40 37 40 37 41 37 40 37 40 36 40 36 40 36 41 35 40 35 40 34 40 34 41 33 40 33 40 31 40 31 41 31 40 30 40 29 40 29 40 29 41 28 40 28 40 27 40 27 41 26 40 26 40 25 40 24 40 24 41 23 40 22 40 22 40 21 41 20 40 20 40 19 40 18 40 19 41 18 40 18 40 17 40 18 41 18 40 18 40 18 40 19 41 19 40 20 40 20 40 21 40 22 41 21 40 22 40 21 40 20 41 20 40 19 40 18 40 16 40 15 41 13 40 12 40 10 40 10 41 8 40 8 40 8 40 7 40 7 41 6 40 7 40 6 40 5 41 6 40 5 40 5 40 5 41 5 40 5 40 5 40 5 40 5 41 4 40 4 40 5 40 4 41 4 40 4 40 4 40 4 40 3 41 4 40 3 40 4 40 3 41 4 40 3 40 3 40 4 40 3 41 3 40 3 40 3 40 3 41 3 40 3 40 3 40 3 41 2 40 3 40 2 40 2 40 2 41 2 40 1 40 2 40 1 41 1 40 1 40 1" fill="none" stroke="#0f718e" stroke-width="44.64" stroke-linecap="square" stroke-linejoin="round"/><path transform="scale(.1)" d="M2314 10987l40-4 40-5 40-6 41-6 40-7 40-6 40-7 40-7 40-8 40-7 41-8 40-8 40-8 40-8 40-9 40-8 40-9 40-9 41-9 40-9 40-9 40-9 40-10 40-9 40-10 41-10 40-10 40-10 40-10 40-11 40-11 40-11 41-11 40-12 40-12 40-13 40-12 40-13 40-14 41-14 40-14 40-15 40-16 40-15 40-17 40-17 41-18 40-19 40-19 40-21 40-20 40-22 40-22 40-22 41-24 40-24 40-24 40-26 40-26 40-26 40-27 41-28 40-29 40-30 40-32 40-33 40-35 40-36 41-37 40-38 40-39 40-39 40-40 40-41 40-42 41-41 40-42 40-42 40-42 40-42 40-41 40-43 41-43 40-43 40-45 40-45 40-44 40-45 40-45 40-44 41-44 40-43 40-43 40-44 40-43 40-43 40-42 41-42 40-41 40-41 40-39 40-39 40-38 40-37 41-37 40-37 40-37 40-35 40-35 40-33 40-32 41-31 40-29 40-27 40-26 40-25 40-23 40-22 41-22 40-21 40-20 40-20 40-19 40-18 40-18 40-18 41-17 40-18 40-17 40-17 40-17 40-17 40-17 41-17 40-16 40-16 40-15 40-15 40-13 40-12 41-12 40-10 40-9 40-9 40-8 40-7 40-7 41-6 40-6 40-5 40-4 40-3 40-3 40-2 41-2 40-2 40-2 40-2 40-1 40-1 40-1 40-1 41 0 40 0 40 2 40 3 40 5 40 8 40 9 41 12 40 12 40 15 40 15 40 16 40 18 40 22 41 24 40 29 40 33 40 35 40 37 40 39 40 39 41 39 40 39 40 38 40 38 40 38 40 38 40 39 41 39 40 39 40 40 40 41 40 41 40 41 40 41 40 42 41 42 40 43 40 43 40 43 40 45 40 46 40 47 41 48 40 48 40 49 40 48 40 48 40 47 40 46 41 45 40 43 40 42 40 40 40 38 40 36 40 36 41 35 40 34 40 34 40 32 40 33 40 31 40 31 41 31 40 30 40 29 40 29 40 28 40 27 40 27 40 26 41 26 40 26 40 24 40 24 40 24 40 23 40 22 41 22 40 21 40 21 40 21 40 20 40 20 40 19 41 20 40 19 40 18 40 19 40 19 40 19 40 18 41 19 40 19 40 19 40 19 40 19 40 19 40 20 41 20 40 20 40 19 40 20 40 20 40 19 40 19 40 19 41 19 40 18 40 17 40 18 40 16 40 16 40 15 41 15 40 13 40 14 40 13 40 13 40 13 40 12 41 13 40 12 40 12 40 12 40 12 40 11 40 10 41 10 40 10 40 9 40 8 40 7 40 7 40 6 41 5 40 4 40 4 40 3 40 3 40 3 40 3 40 3 41 2 40 3 40 2 40 2 40 2 40 2 40 2 41 2 40 1 40 2 40 1 40 1 40 1 40 1 41 1 40 1 40 0 40 1 40 1 40 0 40 1 41 1 40 0 40 1 40 0 40 1 40 0 40 1 41 0 40 1 40 0 40 1 40 0 40 0 40 1 40 0 41 0 40 1 40 0 40 0 40 0 40 1 40 0 41 0 40 0 40 0 40 0" fill="none" stroke="#0f718e" stroke-width="44.64" stroke-linecap="butt" stroke-linejoin="round" stroke-dasharray="165.18,71.43"/><path transform="scale(.1)" d="M2829 11019l40-3 40-3 40-4 41-5 40-6 40-6 40-6 40-7 40-7 41-7 40-8 40-8 40-8 40-9 40-8 41-10 40-9 40-10 40-11 40-12 40-12 41-13 40-13 40-14 40-15 40-14 40-15 40-16 41-15 40-16 40-15 40-17 40-16 40-17 41-17 40-17 40-19 40-18 40-19 40-20 41-20 40-21 40-22 40-22 40-23 40-25 41-25 40-27 40-28 40-28 40-30 40-30 40-31 41-31 40-32 40-32 40-32 40-32 40-32 41-32 40-32 40-32 40-33 40-33 40-33 41-34 40-35 40-35 40-36 40-37 40-37 41-39 40-40 40-42 40-42 40-44 40-46 41-46 40-48 40-49 40-49 40-50 40-51 40-51 41-52 40-51 40-53 40-54 40-55 40-56 41-58 40-59 40-60 40-60 40-59 40-59 41-57 40-56 40-54 40-51 40-48 40-46 41-44 40-43 40-41 40-40 40-38 40-38 40-37 41-36 40-36 40-34 40-35 40-34 40-34 41-34 40-34 40-35 40-36 40-34 40-32 41-30 40-27 40-22 40-18 40-15 40-13 41-11 40-9 40-9 40-8 40-6 40-5 40-4 41-3 40-2 40-1 40-1 40-1 40 0 41 2 40 4 40 8 40 11 40 14 40 15 41 16 40 15 40 14 40 12 40 10 40 11 41 10 40 10 40 12 40 14 40 16 40 19 40 22 41 25 40 29 40 31 40 34 40 36 40 38 41 39 40 40 40 41 40 41 40 42 40 41 41 41 40 40 40 42 40 42 40 43 40 44 41 46 40 45 40 47 40 47 40 47 40 47 41 47 40 47 40 47 40 47 40 46 40 47 40 46 41 47 40 48 40 48 40 47 40 48 40 48 41 47 40 46 40 45 40 45 40 43 40 42 41 40 40 39 40 39 40 37 40 37 40 37 41 36 40 36 40 35 40 35 40 34 40 34 40 32 41 32 40 31 40 31 40 29 40 29 40 27 41 27 40 25 40 25 40 23 40 23 40 21 41 21 40 19 40 20 40 18 40 18 40 17 41 17 40 17 40 17 40 16 40 17 40 16 40 17 41 17 40 17 40 17 40 18 40 19 40 19 41 20 40 20 40 21 40 22 40 22 40 22 41 23 40 22 40 23 40 22 40 22 40 21 41 21 40 21 40 19 40 19 40 17 40 16 41 16 40 14 40 13 40 12 40 12 40 12 40 11 41 11 40 11 40 10 40 10 40 10 40 10 41 9 40 8 40 8 40 8 40 7 40 7 41 7 40 6 40 5 40 5 40 5 40 4 41 5 40 4 40 4 40 4 40 3 40 4 40 3 41 4 40 3 40 3 40 3 40 2 40 3 41 2 40 2 40 2 40 2 40 1 40 2 41 1 40 1 40 1 40 1 40 1 40 1 41 1 40 0 40 1 40 0" fill="none" stroke="#0f718e" stroke-width="44.64" stroke-linecap="butt" stroke-linejoin="round" stroke-dasharray="44.64,73.66"/><path transform="scale(.1)" d="M1438 11105l40 0 40 0 40-1 41 0 40-1 40-1 40-1 40-1 40-1 41-1 40-1 40-2 40-1 40-2 40-2 41-1 40-2 40-3 40-2 40-4 40-4 41-5 40-6 40-6 40-7 40-7 40-7 41-8 40-9 40-8 40-9 40-9 40-9 40-9 41-9 40-9 40-10 40-9 40-10 40-10 41-10 40-11 40-11 40-11 40-12 40-12 41-12 40-13 40-13 40-13 40-13 40-14 41-14 40-14 40-14 40-15 40-14 40-16 41-15 40-16 40-16 40-17 40-17 40-17 40-18 41-18 40-19 40-19 40-20 40-19 40-21 41-20 40-22 40-21 40-23 40-23 40-24 41-26 40-26 40-27 40-27 40-28 40-29 41-29 40-30 40-30 40-30 40-30 40-30 41-30 40-30 40-29 40-29 40-29 40-28 40-28 41-27 40-27 40-28 40-27 40-28 40-29 41-29 40-31 40-31 40-33 40-35 40-37 41-40 40-41 40-44 40-47 40-48 40-49 41-51 40-51 40-52 40-51 40-52 40-51 41-50 40-50 40-49 40-51 40-50 40-52 40-51 41-51 40-51 40-50 40-49 40-47 40-46 41-44 40-42 40-40 40-39 40-37 40-36 41-36 40-35 40-34 40-32 40-32 40-30 41-28 40-27 40-25 40-24 40-22 40-21 41-20 40-20 40-19 40-18 40-16 40-15 40-11 41-9 40-6 40-2 40 1 40 2 40 5 41 6 40 7 40 8 40 10 40 10 40 11 41 12 40 13 40 13 40 16 40 17 40 18 41 18 40 16 40 15 40 13 40 12 40 12 41 11 40 10 40 10 40 10 40 10 40 10 40 10 41 10 40 11 40 11 40 11 40 13 40 13 41 15 40 15 40 16 40 18 40 19 40 19 41 21 40 22 40 22 40 23 40 24 40 25 41 25 40 26 40 26 40 27 40 28 40 28 41 30 40 31 40 32 40 34 40 34 40 36 40 36 41 37 40 37 40 37 40 37 40 36 40 37 41 36 40 35 40 35 40 35 40 35 40 35 41 35 40 34 40 35 40 35 40 34 40 35 41 35 40 35 40 34 40 35 40 35 40 35 41 36 40 35 40 37 40 36 40 37 40 37 40 36 41 36 40 36 40 35 40 35 40 33 40 33 41 31 40 30 40 29 40 28 40 28 40 27 41 27 40 26 40 25 40 25 40 25 40 25 41 23 40 24 40 23 40 23 40 22 40 23 41 21 40 22 40 21 40 21 40 21 40 21 40 20 41 21 40 20 40 20 40 19 40 20 40 19 41 19 40 18 40 19 40 18 40 17 40 18 41 17 40 17 40 16 40 16 40 15 40 15 41 15 40 15 40 15 40 15 40 14 40 15 41 15 40 14 40 14 40 14 40 14 40 13 40 12 41 13 40 11 40 11 40 10 40 9 40 8 41 8 40 6 40 6 40 5 40 4 40 4 41 4 40 4 40 4 40 3 40 3 40 3 41 3 40 3 40 3 40 2 40 3 40 2 41 2 40 3 40 2 40 2 40 2 40 2 40 3 41 2 40 2 40 2 40 2 40 2 40 2 41 2 40 2 40 2 40 2 40 2 40 2 41 2 40 2 40 1 40 2 40 2 40 1 41 2 40 1 40 2 40 1 40 1 40 2 41 1 40 1 40 1 40 0" fill="none" stroke="#0f718e" stroke-width="44.64" stroke-linecap="butt" stroke-linejoin="round" stroke-dasharray="285.71,71.43,44.64,71.43"/></g>
<g id="kd2"><path transform="scale(.1)" d="M3571 16899l40-1 40-1 40-3 41-3 40-4 40-4 40-5 40-6 40-6 41-6 40-7 40-7 40-7 40-8 40-7 41-9 40-9 40-10 40-11 40-13 40-13 41-14 40-15 40-16 40-16 40-17 40-18 41-17 40-19 40-18 40-19 40-19 40-19 41-20 40-21 40-21 40-22 40-23 40-24 41-24 40-26 40-26 40-27 40-27 40-28 41-29 40-31 40-31 40-32 40-34 40-34 41-35 40-36 40-36 40-37 40-37 40-38 41-38 40-40 40-40 40-41 40-41 40-43 41-43 40-45 40-45 40-46 40-48 40-48 41-50 40-51 40-51 40-52 40-52 40-52 41-52 40-51 40-51 40-50 40-50 40-48 40-47 41-47 40-46 40-46 40-45 40-45 40-45 41-44 40-44 40-43 40-42 40-43 40-42 41-41 40-41 40-40 40-40 40-39 40-39 41-38 40-37 40-37 40-36 40-36 40-35 41-36 40-35 40-34 40-33 40-33 40-30 41-28 40-26 40-25 40-23 40-22 40-21 41-20 40-18 40-16 40-15 40-13 40-10 41-9 40-8 40-5 40-4 40 0 40 2 41 4 40 7 40 9 40 10 40 11 40 12 41 13 40 14 40 14 40 16 40 18 40 20 41 20 40 22 40 22 40 22 40 22 40 22 41 22 40 22 40 22 40 22 40 24 40 23 41 24 40 25 40 24 40 25 40 26 40 25 41 26 40 27 40 27 40 27 40 28 40 28 40 28 41 30 40 29 40 31 40 31 40 31 40 33 41 33 40 34 40 34 40 35 40 35 40 36 41 36 40 37 40 36 40 37 40 37 40 38 41 38 40 38 40 39 40 39 40 40 40 41 41 40 40 41 40 41 40 41 40 41 40 41 41 41 40 40 40 39 40 40 40 39 40 39 41 38 40 39 40 39 40 38 40 38 40 38 41 38 40 37 40 37 40 37 40 36 40 36 41 36 40 35 40 35 40 36 40 35 40 36 41 36 40 35 40 34 40 34 40 33 40 32 41 30 40 29 40 27 40 26 40 23 40 22 41 20 40 20 40 18 40 18 40 16 40 17 41 15 40 16 40 14 40 15 40 14 40 14 40 14 41 13 40 14 40 14 40 13 40 14 40 13 41 13 40 13 40 13 40 12 40 13 40 12 41 12 40 12 40 11 40 12 40 11 40 11 41 12 40 10 40 11 40 11 40 10 40 11 41 10 40 11 40 10 40 11 40 11 40 10 41 10 40 11 40 10 40 9 40 10 40 9 41 8 40 8 40 8 40 7 40 7 40 6 41 5 40 5 40 5 40 4 40 4 40 4 41 3 40 4 40 3 40 3 40 3 40 3 41 3 40 3 40 2 40 3 40 2 40 3 41 2 40 2 40 3 40 2 40 2 40 2 41 2 40 2 40 2 40 2 40 2 40 2 41 1 40 2 40 1 40 1" fill="none" stroke="#0f718e" stroke-width="44.64" stroke-linecap="square" stroke-linejoin="round"/><path transform="scale(.1)" d="M2181 17023l40 2 40 3 40 2 40 3 41 2 40 3 40 2 40 1 40 2 40 1 40 1 40 1 40 0 41 1 40 0 40 1 40 0 40 0 40-1 40-1 40-1 41-1 40-2 40-3 40-3 40-3 40-3 40-4 40-3 40-4 41-4 40-4 40-4 40-5 40-4 40-4 40-4 40-4 40-3 41-4 40-4 40-4 40-4 40-5 40-4 40-6 40-6 41-6 40-8 40-9 40-11 40-14 40-16 40-18 40-18 40-18 41-18 40-18 40-19 40-19 40-20 40-21 40-23 40-23 40-26 41-30 40-37 40-43 40-51 40-55 40-58 40-55 40-52 41-45 40-39 40-35 40-32 40-31 40-31 40-32 40-33 40-33 41-34 40-35 40-34 40-35 40-34 40-35 40-34 40-34 40-34 41-33 40-34 40-33 40-32 40-31 40-30 40-26 40-25 41-23 40-21 40-21 40-20 40-20 40-21 40-22 40-24 40-27 41-29 40-32 40-36 40-37 40-39 40-40 40-40 40-40 40-39 41-39 40-39 40-39 40-40 40-40 40-41 40-41 40-44 41-44 40-46 40-48 40-49 40-50 40-50 40-49 40-48 40-46 41-45 40-42 40-42 40-40 40-39 40-39 40-37 40-36 40-36 41-35 40-33 40-33 40-33 40-32 40-30 40-31 40-29 41-28 40-27 40-26 40-26 40-26 40-24 40-24 40-24 40-21 41-20 40-19 40-17 40-15 40-14 40-14 40-13 40-13 40-10 41-9 40-7 40-5 40-2 40 0 40 1 40 3 40 3 41 4 40 5 40 5 40 6 40 8 40 9 40 12 40 15 40 18 41 21 40 24 40 27 40 28 40 29 40 30 40 32 40 32 40 34 41 35 40 39 40 41 40 43 40 45 40 48 40 49 40 50 40 52 41 54 40 57 40 59 40 62 40 65 40 66 40 67 40 67 41 67 40 67 40 66 40 66 40 67 40 67 40 68 40 67 40 66 41 64 40 62 40 60 40 56 40 55 40 53 40 52 40 51 40 49 41 47 40 44 40 40 40 36 40 32 40 27 40 24 40 21 41 20 40 17 40 17 40 15 40 14 40 13 40 12 40 11 40 11 41 9 40 8 40 7 40 7 40 7 40 7 40 7 40 9 40 11 41 12 40 16 40 18 40 21 40 23 40 25 40 27 40 27 41 28 40 27 40 28 40 27 40 29 40 29 40 30 40 30 40 30 41 29 40 28 40 26 40 24 40 23 40 20 40 20 40 19 40 18 41 17 40 17 40 16 40 16 40 15 40 15 40 14 40 14 41 14 40 13 40 13 40 12 40 12 40 13 40 12 40 11 40 12 41 11 40 11 40 11 40 11 40 10 40 10 40 10 40 10 40 9 41 8 40 9 40 8 40 8 40 7 40 7 40 7 40 7 41 6 40 7 40 6 40 7 40 6 40 6 40 6 40 5 40 6 41 5 40 5 40 4 40 4 40 4 40 4 40 3 40 3 40 2 41 3 40 1 40 2 40 2 40 1 40 2 40 1 40 1 41 2 40 1 40 1 40 1 40 1 40 1 40 1 40 1 40 0 41 1 40 0 40 1 40 0 40 0" fill="none" stroke="#0f718e" stroke-width="44.64" stroke-linecap="butt" stroke-linejoin="round" stroke-dasharray="165.18,71.43"/><path transform="scale(.1)" d="M1438 17117l40 0 40 1 41 1 40 1 40 1 40 1 40 0 41 1 40 0 40 0 40 1 41 0 40 0 40 0 40 0 40 0 41 0 40 0 40-1 40-1 40-2 41-1 40-3 40-2 40-3 40-3 41-4 40-3 40-4 40-4 40-4 41-4 40-4 40-4 40-4 41-4 40-4 40-4 40-4 40-4 41-4 40-4 40-4 40-4 40-5 41-5 40-4 40-6 40-5 40-6 41-5 40-7 40-6 40-7 41-8 40-8 40-9 40-10 40-12 41-12 40-14 40-14 40-15 40-16 41-15 40-16 40-16 40-16 40-16 41-16 40-15 40-14 40-14 41-13 40-13 40-13 40-13 40-15 41-18 40-20 40-24 40-30 40-34 41-39 40-41 40-41 40-41 40-38 41-36 40-31 40-29 40-27 40-26 41-26 40-25 40-27 40-28 41-30 40-32 40-34 40-36 40-37 41-39 40-39 40-39 40-40 40-40 41-40 40-40 40-41 40-41 40-41 41-40 40-39 40-38 40-37 41-36 40-35 40-34 40-33 40-34 41-33 40-34 40-34 40-35 40-35 41-35 40-36 40-36 40-36 40-36 41-37 40-37 40-38 40-39 40-39 41-41 40-40 40-41 40-41 41-41 40-40 40-39 40-39 40-38 41-38 40-37 40-37 40-36 40-36 41-35 40-35 40-34 40-33 40-33 41-33 40-33 40-31 40-31 41-28 40-27 40-24 40-23 40-21 41-20 40-19 40-18 40-17 40-15 41-13 40-11 40-10 40-8 40-8 41-7 40-6 40-6 40-4 41-4 40-3 40-1 40 0 40 1 41 2 40 3 40 4 40 4 40 5 41 6 40 5 40 6 40 7 40 7 41 8 40 8 40 9 40 10 40 10 41 11 40 11 40 11 40 12 41 12 40 13 40 13 40 13 40 14 41 15 40 15 40 16 40 16 40 17 41 18 40 18 40 18 40 20 40 20 41 21 40 22 40 24 40 25 41 27 40 28 40 29 40 29 40 31 41 32 40 32 40 32 40 34 40 33 41 34 40 34 40 36 40 36 40 37 41 38 40 39 40 40 40 41 40 41 41 42 40 42 40 42 40 42 41 43 40 42 40 42 40 42 40 43 41 43 40 43 40 44 40 44 40 44 41 44 40 44 40 44 40 44 40 42 41 43 40 41 40 40 40 40 41 39 40 38 40 38 40 38 40 37 41 37 40 36 40 36 40 36 40 34 41 34 40 33 40 32 40 31 40 30 41 29 40 29 40 28 40 27 40 27 41 27 40 26 40 25 40 25 41 24 40 23 40 23 40 21 40 21 41 19 40 19 40 17 40 17 40 17 41 16 40 16 40 15 40 16 40 14 41 14 40 14 40 14 40 13 41 12 40 12 40 12 40 11 40 11 41 10 40 10 40 9 40 9 40 8 41 9 40 8 40 8 40 8 40 8 41 8 40 7 40 8 40 7 41 6 40 7 40 6 40 5 40 5 41 5 40 4 40 3 40 3 40 3 41 1 40 2 40 1 40 1 40 1 41 1 40 1 40 1 40 1 40 0 41 1 40 1 40 0 40 1 41 0 40 1 40 0 40 0 40 1 41 0 40 0 40 0" fill="none" stroke="#0f718e" stroke-width="44.64" stroke-linecap="butt" stroke-linejoin="round" stroke-dasharray="44.64,73.66"/><path transform="scale(.1)" d="M2505 17104l40-2 40-2 41-2 40-3 40-3 40-3 41-3 40-4 40-3 40-4 40-3 41-4 40-4 40-4 40-5 41-4 40-4 40-5 40-4 40-5 41-5 40-5 40-5 40-5 41-5 40-6 40-6 40-6 40-6 41-6 40-7 40-7 40-7 41-8 40-7 40-8 40-9 40-8 41-9 40-8 40-9 40-9 41-10 40-10 40-11 40-12 40-13 41-15 40-16 40-18 40-22 41-27 40-37 40-46 40-53 40-53 41-50 40-45 40-42 40-39 41-39 40-39 40-38 40-40 40-40 41-39 40-40 40-38 40-36 41-35 40-32 40-29 40-26 40-25 41-24 40-23 40-25 40-26 41-28 40-28 40-29 40-30 40-30 41-31 40-30 40-29 40-29 41-28 40-27 40-27 40-27 40-29 41-31 40-35 40-40 40-47 41-54 40-58 40-60 40-58 40-54 41-49 40-45 40-42 40-41 41-39 40-38 40-36 40-36 40-36 41-35 40-34 40-34 40-34 41-32 40-32 40-32 40-31 40-32 41-32 40-32 40-34 40-34 41-35 40-35 40-36 40-36 40-37 41-37 40-38 40-39 40-40 41-42 40-44 40-43 40-40 40-38 41-32 40-29 40-24 40-22 41-18 40-13 40-9 40-5 40-3 41-2 40-2 40-1 40-1 41 0 40 0 40 1 40 3 40 5 41 7 40 8 40 9 40 10 41 11 40 10 40 10 40 10 40 10 41 10 40 10 40 11 40 11 41 11 40 12 40 12 40 13 40 13 41 14 40 15 40 15 40 16 40 17 41 17 40 18 40 18 40 20 41 19 40 21 40 20 40 22 40 21 41 22 40 23 40 23 40 24 41 24 40 26 40 26 40 28 40 28 41 29 40 30 40 30 40 30 41 31 40 32 40 31 40 33 40 33 41 33 40 34 40 35 40 35 41 35 40 36 40 36 40 36 40 37 41 36 40 38 40 37 40 39 41 39 40 39 40 41 40 41 40 41 41 41 40 42 40 41 40 42 41 41 40 40 40 40 40 39 40 39 41 38 40 37 40 37 40 37 41 37 40 36 40 36 40 36 40 35 41 34 40 35 40 33 40 33 41 32 40 32 40 31 40 30 40 30 41 30 40 30 40 29 40 29 41 28 40 28 40 27 40 26 40 26 41 24 40 24 40 23 40 21 41 21 40 20 40 19 40 18 40 18 41 17 40 17 40 16 40 16 41 15 40 15 40 15 40 14 40 14 41 14 40 13 40 13 40 13 41 13 40 13 40 12 40 13 40 12 41 11 40 12 40 12 40 11 41 11 40 11 40 10 40 10 40 10 41 10 40 10 40 9 40 9 41 9 40 9 40 8 40 9 40 9 41 9 40 8 40 9 40 8 41 8 40 8 40 8 40 7 40 7 41 7 40 6 40 6 40 5 41 5 40 4 40 4 40 3 40 3 41 2 40 3 40 2 40 3 41 2 40 3 40 2 40 2 40 2 41 2 40 2 40 2 40 1 41 2 40 1 40 2 40 1 40 1 41 1 40 1 40 1 40 0 41 1 40 0 40 0" fill="none" stroke="#0f718e" stroke-width="44.64" stroke-linecap="butt" stroke-linejoin="round" stroke-dasharray="285.71,71.43,44.64,71.43"/></g>
<g id="kd3"><path transform="scale(.1)" d="M1438 23118l40 1 40 2 40 2 41 2 40 2 40 1 40 2 40 1 40 1 41 1 40 0 40 1 40 0 40 1 40 0 41 0 40 0 40 0 40-1 40-1 40-1 41-1 40-2 40-2 40-2 40-3 40-3 41-2 40-3 40-3 40-4 40-3 40-4 40-4 41-5 40-6 40-6 40-6 40-7 40-7 41-8 40-8 40-8 40-8 40-9 40-8 41-9 40-10 40-10 40-10 40-11 40-12 41-11 40-13 40-13 40-13 40-14 40-14 40-14 41-15 40-15 40-16 40-16 40-17 40-18 41-18 40-19 40-20 40-21 40-21 40-23 41-23 40-25 40-27 40-28 40-31 40-35 41-36 40-39 40-40 40-40 40-40 40-40 41-39 40-39 40-39 40-38 40-39 40-38 40-39 41-38 40-38 40-37 40-37 40-37 40-35 41-36 40-34 40-35 40-34 40-35 40-35 41-35 40-36 40-37 40-38 40-39 40-40 41-40 40-41 40-41 40-40 40-40 40-38 41-38 40-37 40-38 40-37 40-37 40-38 40-40 41-40 40-41 40-42 40-43 40-44 40-44 41-44 40-46 40-46 40-47 40-47 40-47 41-47 40-48 40-47 40-47 40-47 40-47 41-47 40-46 40-46 40-45 40-45 40-44 40-44 41-44 40-44 40-43 40-42 40-41 40-40 41-39 40-37 40-35 40-33 40-28 40-25 41-20 40-19 40-17 40-16 40-13 40-12 41-9 40-6 40-2 40 1 40 5 40 8 41 12 40 14 40 16 40 18 40 20 40 23 40 26 41 30 40 35 40 38 40 40 40 41 40 42 41 43 40 46 40 47 40 48 40 49 40 49 41 48 40 45 40 42 40 39 40 36 40 32 41 30 40 27 40 26 40 25 40 25 40 25 41 26 40 26 40 28 40 28 40 30 40 30 40 31 41 31 40 32 40 33 40 33 40 34 40 35 41 36 40 36 40 38 40 38 40 40 40 40 41 41 40 41 40 41 40 42 40 42 40 43 41 43 40 45 40 46 40 47 40 45 40 45 40 43 41 41 40 37 40 33 40 30 40 29 40 30 41 33 40 35 40 38 40 41 40 42 40 44 41 44 40 45 40 44 40 44 40 42 40 41 41 38 40 37 40 33 40 32 40 31 40 30 41 29 40 28 40 28 40 26 40 26 40 26 40 24 41 24 40 22 40 22 40 21 40 20 40 19 41 18 40 17 40 17 40 16 40 15 40 15 41 14 40 14 40 14 40 14 40 13 40 14 41 13 40 14 40 14 40 14 40 14 40 15 41 15 40 15 40 16 40 15 40 14 40 15 40 14 41 13 40 12 40 12 40 10 40 10 40 9 41 8 40 7 40 8 40 6 40 7 40 6 41 6 40 6 40 5 40 5 40 5 40 4 41 4 40 3 40 3 40 2 40 2 40 2 40 2 41 2 40 1 40 2 40 1 40 1 40 1 41 1 40 2 40 1 40 1 40 1 40 1 41 1 40 1 40 1 40 1 40 1 40 0 41 1 40 1 40 1 40 1 40 1 40 0 41 1 40 1 40 0 40 1" fill="none" stroke="#0f718e" stroke-width="44.64" stroke-linecap="square" stroke-linejoin="round"/><path transform="scale(.1)" d="M1762 23097l40 0 40-1 41 0 40 0 40-1 40-1 41-1 40-1 40-1 40-2 40-1 41-2 40-1 40-2 40-2 40-1 41-2 40-2 40-2 40-3 41-3 40-3 40-3 40-4 40-5 41-4 40-6 40-5 40-6 40-6 41-6 40-7 40-6 40-7 41-8 40-7 40-7 40-8 40-9 41-9 40-9 40-11 40-11 41-11 40-13 40-12 40-14 40-13 41-14 40-15 40-15 40-15 40-15 41-15 40-16 40-16 40-16 41-16 40-16 40-17 40-17 40-18 41-18 40-18 40-19 40-20 41-20 40-20 40-21 40-22 40-22 41-23 40-23 40-24 40-26 40-26 41-29 40-30 40-30 40-31 41-29 40-29 40-30 40-30 40-32 41-34 40-35 40-36 40-38 40-38 41-40 40-41 40-44 40-46 41-48 40-49 40-49 40-49 40-48 41-49 40-50 40-50 40-52 41-54 40-56 40-57 40-58 40-59 41-59 40-59 40-58 40-57 40-55 41-54 40-51 40-48 40-47 41-44 40-42 40-41 40-40 40-37 41-35 40-32 40-30 40-28 40-26 41-24 40-24 40-22 40-20 41-20 40-19 40-17 40-16 40-15 41-14 40-16 40-16 40-17 41-18 40-20 40-20 40-20 40-20 41-21 40-20 40-20 40-21 40-21 41-23 40-24 40-25 40-27 41-26 40-24 40-22 40-20 40-18 41-18 40-16 40-16 40-15 40-13 41-12 40-10 40-8 40-6 41-3 40 0 40 3 40 7 40 9 41 13 40 15 40 17 40 18 41 20 40 21 40 21 40 23 40 24 41 25 40 29 40 32 40 34 40 36 41 38 40 38 40 39 40 38 41 38 40 37 40 37 40 37 40 37 41 37 40 37 40 38 40 38 41 38 40 39 40 38 40 39 40 39 41 39 40 40 40 39 40 40 40 41 41 41 40 41 40 42 40 43 41 44 40 45 40 45 40 46 40 46 41 47 40 46 40 46 40 46 40 44 41 44 40 43 40 43 40 42 41 42 40 41 40 40 40 41 40 41 41 41 40 41 40 40 40 40 41 40 40 38 40 38 40 36 40 35 41 34 40 31 40 30 40 29 40 26 41 26 40 24 40 23 40 23 41 21 40 21 40 21 40 20 40 20 41 20 40 19 40 20 40 19 40 20 41 20 40 20 40 20 40 20 41 20 40 19 40 20 40 19 40 19 41 19 40 18 40 18 40 18 41 17 40 16 40 16 40 16 40 16 41 15 40 15 40 15 40 15 40 14 41 14 40 14 40 13 40 12 41 12 40 12 40 11 40 10 40 10 41 9 40 9 40 9 40 9 40 8 41 9 40 8 40 8 40 7 41 8 40 7 40 6 40 7 40 6 41 6 40 6 40 5 40 4 41 5 40 4 40 4 40 4 40 3 41 4 40 3 40 4 40 3 40 4 41 3 40 3 40 3 40 3 41 3 40 3 40 2 40 3 40 2 41 2 40 2 40 1 40 2 41 1 40 1 40 1 40 0 40 1 41 0 40 0 40 0 40 0 40 0 41 0 40 0 40 0 40 0 41 0 40-1 40 0 40 0 40 0 41-1 40 0 40 0 40-1 40 0 41-1 40 0 40-1 40-1 41 0 40-1 40 0" fill="none" stroke="#0f718e" stroke-width="44.64" stroke-linecap="butt" stroke-linejoin="round" stroke-dasharray="165.18,71.43"/><path transform="scale(.1)" d="M1500 23116l40 0 40-1 40 0 41-1 40 0 40-1 40-2 40-1 40-1 41-2 40-2 40-2 40-2 40-2 40-2 41-3 40-2 40-3 40-3 40-3 40-3 41-3 40-3 40-3 40-4 40-3 40-4 41-4 40-3 40-4 40-4 40-4 40-4 41-4 40-5 40-4 40-6 40-6 40-6 41-8 40-7 40-9 40-9 40-9 40-10 41-10 40-10 40-11 40-10 40-11 40-12 40-11 41-11 40-12 40-11 40-12 40-12 40-12 41-13 40-13 40-13 40-14 40-14 40-15 41-15 40-15 40-17 40-17 40-17 40-18 41-19 40-20 40-21 40-23 40-25 40-27 41-28 40-31 40-31 40-33 40-33 40-34 41-34 40-34 40-35 40-36 40-37 40-39 41-41 40-43 40-45 40-48 40-50 40-52 41-54 40-55 40-56 40-56 40-57 40-55 41-55 40-54 40-52 40-52 40-52 40-50 40-49 41-47 40-46 40-44 40-42 40-40 40-38 41-35 40-33 40-31 40-30 40-28 40-27 41-26 40-25 40-24 40-23 40-23 40-23 41-23 40-24 40-23 40-24 40-25 40-26 41-26 40-27 40-28 40-29 40-29 40-31 41-33 40-33 40-34 40-35 40-35 40-37 41-37 40-38 40-38 40-37 40-36 40-35 41-32 40-32 40-30 40-28 40-28 40-26 40-24 41-21 40-18 40-15 40-12 40-11 40-7 41-6 40-2 40-1 40 1 40 1 40 2 41 2 40 2 40 3 40 5 40 7 40 8 41 9 40 11 40 12 40 13 40 14 40 14 41 14 40 14 40 15 40 17 40 17 40 18 41 19 40 19 40 21 40 21 40 21 40 22 41 23 40 23 40 25 40 25 40 26 40 27 41 28 40 28 40 30 40 30 40 32 40 33 41 35 40 37 40 38 40 38 40 39 40 40 40 38 41 39 40 37 40 36 40 35 40 33 40 34 41 33 40 33 40 33 40 35 40 36 40 38 41 41 40 43 40 46 40 49 40 50 40 53 41 53 40 53 40 53 40 53 40 51 40 50 41 50 40 50 40 51 40 50 40 50 40 49 41 48 40 45 40 43 40 40 40 37 40 34 41 31 40 29 40 27 40 26 40 25 40 23 41 23 40 22 40 21 40 20 40 19 40 18 40 17 41 16 40 16 40 14 40 14 40 12 40 12 41 11 40 10 40 10 40 10 40 9 40 9 41 10 40 10 40 10 40 11 40 12 40 12 41 15 40 16 40 17 40 20 40 20 40 22 41 22 40 23 40 22 40 22 40 20 40 20 41 17 40 16 40 13 40 11 40 9 40 8 41 7 40 7 40 7 40 6 40 7 40 5 41 6 40 5 40 4 40 4 40 4 40 3 41 2 40 2 40 1 40 1" fill="none" stroke="#0f718e" stroke-width="44.64" stroke-linecap="butt" stroke-linejoin="round" stroke-dasharray="44.64,73.66"/><path transform="scale(.1)" d="M1450 23105l40 0 40-1 40 0 41-1 40-1 40-2 40-1 40-2 40-2 40-2 40-2 41-3 40-2 40-3 40-3 40-3 40-3 40-4 40-3 41-4 40-4 40-4 40-4 40-4 40-4 40-5 40-4 41-5 40-4 40-5 40-4 40-5 40-5 40-5 40-5 41-5 40-5 40-6 40-5 40-7 40-6 40-7 40-8 41-8 40-8 40-8 40-9 40-10 40-9 40-11 40-10 41-11 40-11 40-12 40-12 40-13 40-13 40-13 40-14 41-14 40-16 40-17 40-18 40-20 40-22 40-22 40-24 41-25 40-27 40-27 40-28 40-29 40-30 40-32 40-34 41-38 40-40 40-44 40-45 40-47 40-47 40-46 40-44 41-42 40-38 40-35 40-31 40-29 40-26 40-27 41-27 40-27 40-29 40-29 40-29 40-28 40-28 40-28 41-27 40-28 40-28 40-29 40-29 40-29 40-30 40-29 41-30 40-29 40-28 40-29 40-28 40-29 40-29 40-31 41-31 40-33 40-33 40-34 40-35 40-35 40-36 40-35 41-36 40-36 40-37 40-36 40-36 40-36 40-37 40-36 41-36 40-36 40-35 40-34 40-34 40-33 40-33 40-32 41-31 40-31 40-30 40-30 40-30 40-30 40-29 40-29 41-28 40-28 40-28 40-28 40-27 40-26 40-26 40-26 41-25 40-24 40-24 40-22 40-22 40-21 40-21 40-22 41-21 40-23 40-24 40-22 40-21 40-17 40-13 40-10 41-7 40-3 40-1 40 1 40 3 40 4 40 4 41 6 40 8 40 9 40 13 40 16 40 20 40 22 40 25 41 26 40 28 40 28 40 29 40 29 40 30 40 30 40 33 41 34 40 34 40 36 40 37 40 37 40 38 40 37 40 38 41 38 40 39 40 40 40 40 40 40 40 41 40 40 40 41 41 41 40 41 40 40 40 41 40 41 40 41 40 41 40 41 41 40 40 40 40 40 40 38 40 38 40 37 40 37 40 36 41 35 40 35 40 35 40 34 40 34 40 33 40 33 40 33 41 33 40 32 40 32 40 32 40 32 40 31 40 30 40 29 41 29 40 27 40 25 40 25 40 24 40 23 40 22 40 22 41 21 40 21 40 21 40 20 40 21 40 20 40 20 40 21 41 20 40 21 40 21 40 22 40 21 40 21 40 21 41 21 40 21 40 21 40 21 40 21 40 21 40 22 40 22 41 22 40 22 40 23 40 24 40 24 40 25 40 26 40 26 41 27 40 26 40 26 40 26 40 25 40 24 40 23 40 22 41 20 40 18 40 18 40 16 40 16 40 16 40 15 40 15 41 14 40 14 40 14 40 13 40 12 40 13 40 11 40 11 41 11 40 10 40 9 40 9 40 8 40 8 40 6 40 7 41 6 40 5 40 6 40 5 40 5 40 5 40 5 40 4 41 5 40 4 40 4 40 3 40 4 40 3 40 3 40 3 41 3 40 3 40 2 40 2 40 2 40 2 40 2 40 2 41 2 40 1 40 2 40 2 40 1 40 1 40 1 40 1 41 1 40 1 40 0 40 1" fill="none" stroke="#0f718e" stroke-width="44.64" stroke-linecap="butt" stroke-linejoin="round" stroke-dasharray="285.71,71.43,44.64,71.43"/></g>
<use href="#kd0" y="2400"/>
<path d="M196.50 535.50v14.58M533.50 535.50v14.58M871.50 535.50v14.58M1209.50 535.50v14.58M1547.50 535.50v14.58M1949.50 535.50v14.58M2280.50 535.50v14.58M2612.50 535.50v14.58M2944.50 535.50v14.58M3275.50 535.50v14.58" stroke="#262626" stroke-width="3.00" fill="none"/>
<g font-family="DejaVu Sans" font-size="41.67" fill="#262626" text-anchor="middle"><text x="196.50" y="595.07">20</text><text x="533.50" y="595.07">40</text><text x="871.50" y="595.07">60</text><text x="1209.50" y="595.07">80</text><text x="1547.50" y="595.07">100</text><text x="1949.50" y="595.07">0</text><text x="2280.50" y="595.07">200</text><text x="2612.50" y="595.07">400</text><text x="2944.50" y="595.07">600</text><text x="3275.50" y="595.07">800</text></g>
<path d="M1949.50 500.50h-14.58M1949.50 410.50h-14.58M1949.50 320.50h-14.58M1949.50 229.50h-14.58M1949.50 139.50h-14.58" stroke="#262626" stroke-width="3.00" fill="none"/>
<g font-family="DejaVu Sans" font-size="41.67" fill="#262626" text-anchor="end"><text x="1920.33" y="516.00">20</text><text x="1920.33" y="426.00">40</text><text x="1920.33" y="336.00">60</text><text x="1920.33" y="245.00">80</text><text x="1920.33" y="155.00">100</text></g>
<path d="M68.50 91.50V535.50H1725.50" fill="none" stroke="#4f4f4f" stroke-width="3.00" stroke-linecap="square" stroke-linejoin="miter"/>
<path d="M1949.50 91.50V535.50H3605.50" fill="none" stroke="#4f4f4f" stroke-width="3.00" stroke-linecap="square" stroke-linejoin="miter"/>
<g font-family="DejaVu Sans" font-weight="bold" font-size="47.62" fill="#262626" text-anchor="middle"><text x="897.00" y="66.50">a0</text><text x="2777.50" y="66.50">a0</text></g>
<path d="M186.50 1135.50v14.58M382.50 1135.50v14.58M579.50 1135.50v14.58M775.50 1135.50v14.58M972.50 1135.50v14.58M1168.50 1135.50v14.58M1364.50 1135.50v14.58M1561.50 1135.50v14.58M1949.50 1135.50v14.58M2280.50 1135.50v14.58M2612.50 1135.50v14.58M2944.50 1135.50v14.58M3275.50 1135.50v14.58" stroke="#262626" stroke-width="3.00" fill="none"/>
<g font-family="DejaVu Sans" font-size="41.67" fill="#262626" text-anchor="middle"><text x="186.50" y="1195.07">0.210</text><text x="382.50" y="1195.07">0.215</text><text x="579.50" y="1195.07">0.220</text><text x="775.50" y="1195.07">0.225</text><text x="972.50" y="1195.07">0.230</text><text x="1168.50" y="1195.07">0.235</text><text x="1364.50" y="1195.07">0.240</text><text x="1561.50" y="1195.07">0.245</text><text x="1949.50" y="1195.07">0</text><text x="2280.50" y="1195.07">200</text><text x="2612.50" y="1195.07">400</text><text x="2944.50" y="1195.07">600</text><text x="3275.50" y="1195.07">800</text></g>
<path d="M1949.50 1103.50h-14.58M1949.50 997.50h-14.58M1949.50 892.50h-14.58M1949.50 787.50h-14.58" stroke="#262626" stroke-width="3.00" fill="none"/>
<g font-family="DejaVu Sans" font-size="41.67" fill="#262626" text-anchor="end"><text x="1920.33" y="1119.00">0.21</text><text x="1920.33" y="1013.00">0.22</text><text x="1920.33" y="908.00">0.23</text><text x="1920.33" y="803.00">0.24</text></g>
<path d="M68.50 691.50V1135.50H1725.50" fill="none" stroke="#4f4f4f" stroke-width="3.00" stroke-linecap="square" stroke-linejoin="miter"/>
<path d="M1949.50 691.50V1135.50H3605.50" fill="none" stroke="#4f4f4f" stroke-width="3.00" stroke-linecap="square" stroke-linejoin="miter"/>
<g font-family="DejaVu Sans" font-weight="bold" font-size="47.62" fill="#262626" text-anchor="middle"><text x="897.00" y="666.50">b</text><text x="2777.50" y="666.50">b</text></g>
<path d="M110.50 1735.50v14.58M354.50 1735.50v14.58M599.50 1735.50v14.58M843.50 1735.50v14.58M1087.50 1735.50v14.58M1331.50 1735.50v14.58M1576.50 1735.50v14.58M1949.50 1735.50v14.58M2280.50 1735.50v14.58M2612.50 1735.50v14.58M2944.50 1735.50v14.58M3275.50 1735.50v14.58" stroke="#262626" stroke-width="3.00" fill="none"/>
<g font-family="DejaVu Sans" font-size="41.67" fill="#262626" text-anchor="middle"><text x="110.50" y="1795.07">160000</text><text x="354.50" y="1795.07">165000</text><text x="599.50" y="1795.07">170000</text><text x="843.50" y="1795.07">175000</text><text x="1087.50" y="1795.07">180000</text><text x="1331.50" y="1795.07">185000</text><text x="1576.50" y="1795.07">190000</text><text x="1949.50" y="1795.07">0</text><text x="2280.50" y="1795.07">200</text><text x="2612.50" y="1795.07">400</text><text x="2944.50" y="1795.07">600</text><text x="3275.50" y="1795.07">800</text></g>
<path d="M1949.50 1723.50h-14.58M1949.50 1592.50h-14.58M1949.50 1462.50h-14.58M1949.50 1331.50h-14.58" stroke="#262626" stroke-width="3.00" fill="none"/>
<g font-family="DejaVu Sans" font-size="41.67" fill="#262626" text-anchor="end"><text x="1920.33" y="1739.00">160000</text><text x="1920.33" y="1608.00">170000</text><text x="1920.33" y="1478.00">180000</text><text x="1920.33" y="1347.00">190000</text></g>
<path d="M68.50 1291.50V1735.50H1725.50" fill="none" stroke="#4f4f4f" stroke-width="3.00" stroke-linecap="square" stroke-linejoin="miter"/>
<path d="M1949.50 1291.50V1735.50H3605.50" fill="none" stroke="#4f4f4f" stroke-width="3.00" stroke-linecap="square" stroke-linejoin="miter"/>
<g font-family="DejaVu Sans" font-weight="bold" font-size="47.62" fill="#262626" text-anchor="middle"><text x="897.00" y="1266.50">carrying_capacity</text><text x="2777.50" y="1266.50">carrying_capacity</text></g>
<path d="M184.50 2335.50v14.58M483.50 2335.50v14.58M783.50 2335.50v14.58M1083.50 2335.50v14.58M1382.50 2335.50v14.58M1682.50 2335.50v14.58M1949.50 2335.50v14.58M2280.50 2335.50v14.58M2612.50 2335.50v14.58M2944.50 2335.50v14.58M3275.50 2335.50v14.58" stroke="#262626" stroke-width="3.00" fill="none"/>
<g font-family="DejaVu Sans" font-size="41.67" fill="#262626" text-anchor="middle"><text x="184.50" y="2395.07">10</text><text x="483.50" y="2395.07">12</text><text x="783.50" y="2395.07">14</text><text x="1083.50" y="2395.07">16</text><text x="1382.50" y="2395.07">18</text><text x="1682.50" y="2395.07">20</text><text x="1949.50" y="2395.07">0</text><text x="2280.50" y="2395.07">200</text><text x="2612.50" y="2395.07">400</text><text x="2944.50" y="2395.07">600</text><text x="3275.50" y="2395.07">800</text></g>
<path d="M1949.50 2303.50h-14.58M1949.50 2203.50h-14.58M1949.50 2103.50h-14.58M1949.50 2003.50h-14.58M1949.50 1903.50h-14.58" stroke="#262626" stroke-width="3.00" fill="none"/>
<g font-family="DejaVu Sans" font-size="41.67" fill="#262626" text-anchor="end"><text x="1920.33" y="2319.00">10.0</text><text x="1920.33" y="2219.00">12.5</text><text x="1920.33" y="2119.00">15.0</text><text x="1920.33" y="2019.00">17.5</text><text x="1920.33" y="1919.00">20.0</text></g>
<path d="M68.50 1891.50V2335.50H1725.50" fill="none" stroke="#4f4f4f" stroke-width="3.00" stroke-linecap="square" stroke-linejoin="miter"/>
<path d="M1949.50 1891.50V2335.50H3605.50" fill="none" stroke="#4f4f4f" stroke-width="3.00" stroke-linecap="square" stroke-linejoin="miter"/>
<g font-family="DejaVu Sans" font-weight="bold" font-size="47.62" fill="#262626" text-anchor="middle"><text x="897.00" y="1866.50">alpha</text><text x="2777.50" y="1866.50">alpha</text></g>
<path d="M196.50 2935.50v14.58M533.50 2935.50v14.58M871.50 2935.50v14.58M1209.50 2935.50v14.58M1547.50 2935.50v14.58M1949.50 2935.50v14.58M2280.50 2935.50v14.58M2612.50 2935.50v14.58M2944.50 2935.50v14.58M3275.50 2935.50v14.58" stroke="#262626" stroke-width="3.00" fill="none"/>
<g font-family="DejaVu Sans" font-size="41.67" fill="#262626" text-anchor="middle"><text x="196.50" y="2995.07">120</text><text x="533.50" y="2995.07">140</text><text x="871.50" y="2995.07">160</text><text x="1209.50" y="2995.07">180</text><text x="1547.50" y="2995.07">200</text><text x="1949.50" y="2995.07">0</text><text x="2280.50" y="2995.07">200</text><text x="2612.50" y="2995.07">400</text><text x="2944.50" y="2995.07">600</text><text x="3275.50" y="2995.07">800</text></g>
<path d="M1949.50 2900.50h-14.58M1949.50 2810.50h-14.58M1949.50 2720.50h-14.58M1949.50 2629.50h-14.58M1949.50 2539.50h-14.58" stroke="#262626" stroke-width="3.00" fill="none"/>
<g font-family="DejaVu Sans" font-size="41.67" fill="#262626" text-anchor="end"><text x="1920.33" y="2916.00">120</text><text x="1920.33" y="2826.00">140</text><text x="1920.33" y="2736.00">160</text><text x="1920.33" y="2645.00">180</text><text x="1920.33" y="2555.00">200</text></g>
<path d="M68.50 2491.50V2935.50H1725.50" fill="none" stroke="#4f4f4f" stroke-width="3.00" stroke-linecap="square" stroke-linejoin="miter"/>
<path d="M1949.50 2491.50V2935.50H3605.50" fill="none" stroke="#4f4f4f" stroke-width="3.00" stroke-linecap="square" stroke-linejoin="miter"/>
<g font-family="DejaVu Sans" font-weight="bold" font-size="47.62" fill="#262626" text-anchor="middle"><text x="897.00" y="2466.50">intercept</text><text x="2777.50" y="2466.50">intercept</text></g>
</svg></body></html>
